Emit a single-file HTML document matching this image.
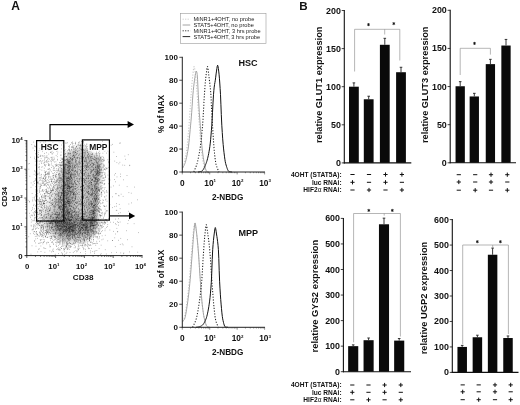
<!DOCTYPE html>
<html><head><meta charset="utf-8"><title>Figure</title>
<style>
html,body{margin:0;padding:0;background:#fff;}
body{width:520px;height:405px;overflow:hidden;font-family:"Liberation Sans", sans-serif;}
svg{display:block;font-family:"Liberation Sans", sans-serif;}
</style></head><body>
<svg width="520" height="405" viewBox="0 0 520 405">
<rect width="520" height="405" fill="#fff"/>
<g opacity=".999">
<text x="11.3" y="10.1" font-size="12" font-weight="bold" text-anchor="start" fill="#111" >A</text>
<text x="299.2" y="9.5" font-size="11.6" font-weight="bold" text-anchor="start" fill="#111" >B</text>
<defs><filter id="bl" x="-5%" y="-5%" width="110%" height="110%"><feGaussianBlur stdDeviation="1.1"/></filter><clipPath id="pc"><rect x="27.3" y="140.5" width="115.2" height="114.6"/></clipPath></defs>
<g clip-path="url(#pc)"><g filter="url(#bl)">
<path d="M77.8 143.5h4M75.8 145.5h2M71.8 147.5h2M85.8 147.5h2M69.8 149.5h2M87.8 149.5h2M67.8 151.5h2M91.8 151.5h2M65.8 153.5h2M93.8 153.5h4M63.8 157.5h2M61.8 161.5h2M101.8 163.5h2M59.8 165.5h2M101.8 165.5h2M101.8 167.5h2M57.8 169.5h2M101.8 169.5h2M57.8 171.5h2M55.8 175.5h2M55.8 177.5h2M53.8 179.5h2M53.8 181.5h2M53.8 183.5h2M51.8 185.5h4M99.8 185.5h2M51.8 187.5h2M99.8 187.5h2M49.8 189.5h4M99.8 189.5h2M47.8 191.5h6M45.8 193.5h6M43.8 195.5h8M43.8 197.5h6M41.8 199.5h8M41.8 201.5h6M39.8 203.5h6M39.8 205.5h6M97.8 205.5h2M39.8 207.5h4M97.8 207.5h2M37.8 209.5h4M97.8 209.5h2M37.8 211.5h4M97.8 211.5h2M37.8 213.5h2M97.8 213.5h2M37.8 215.5h2M37.8 217.5h2M37.8 219.5h2M99.8 219.5h2M37.8 221.5h2M99.8 221.5h2M37.8 223.5h4M99.8 223.5h2M37.8 225.5h4M39.8 227.5h2M39.8 229.5h4M97.8 229.5h2M41.8 231.5h4M43.8 233.5h4M95.8 233.5h2M47.8 235.5h4M93.8 235.5h2M51.8 237.5h2M53.8 239.5h4M89.8 239.5h2M57.8 241.5h4M85.8 241.5h4M61.8 243.5h4M71.8 243.5h12M65.8 245.5h4" stroke="#000" stroke-width="2.0" fill="none" opacity="0.042"/>
<path d="M81.8 143.5h2M77.8 145.5h2M73.8 147.5h2M83.8 147.5h2M89.8 151.5h2M65.8 155.5h2M97.8 155.5h2M99.8 157.5h2M59.8 167.5h2M57.8 173.5h2M55.8 179.5h2M55.8 181.5h2M99.8 181.5h2M99.8 183.5h2M53.8 187.5h2M53.8 189.5h2M51.8 193.5h2M51.8 195.5h2M49.8 197.5h2M49.8 199.5h2M47.8 201.5h2M97.8 201.5h2M45.8 203.5h4M97.8 203.5h2M45.8 205.5h4M43.8 207.5h4M41.8 209.5h4M41.8 211.5h2M39.8 213.5h2M39.8 215.5h2M97.8 215.5h2M39.8 217.5h2M39.8 219.5h2M39.8 221.5h2M41.8 223.5h2M41.8 225.5h2M97.8 225.5h2M41.8 227.5h4M97.8 227.5h2M43.8 229.5h2M45.8 231.5h2M95.8 231.5h2M47.8 233.5h2M51.8 235.5h2M53.8 237.5h2M91.8 237.5h2M57.8 239.5h2M87.8 239.5h2M77.8 241.5h8M65.8 243.5h6" stroke="#000" stroke-width="2.0" fill="none" opacity="0.083"/>
<path d="M79.8 145.5h2M75.8 147.5h4M71.8 149.5h2M85.8 149.5h2M69.8 151.5h2M67.8 153.5h2M91.8 153.5h2M95.8 155.5h2M63.8 159.5h2M61.8 163.5h2M59.8 169.5h2M57.8 175.5h2M99.8 179.5h2M55.8 183.5h2M55.8 185.5h2M55.8 187.5h2M53.8 191.5h2M53.8 193.5h2M51.8 197.5h2M51.8 199.5h2M97.8 199.5h2M49.8 201.5h2M49.8 203.5h2M49.8 205.5h2M47.8 207.5h2M45.8 209.5h4M43.8 211.5h4M41.8 213.5h4M41.8 215.5h2M41.8 217.5h2M97.8 217.5h2M41.8 219.5h2M97.8 219.5h2M41.8 221.5h2M97.8 223.5h2M43.8 225.5h2M45.8 229.5h2M47.8 231.5h2M49.8 233.5h2M55.8 237.5h2M85.8 239.5h2M61.8 241.5h2M71.8 241.5h6" stroke="#000" stroke-width="2.0" fill="none" opacity="0.125"/>
<path d="M81.8 145.5h2M79.8 147.5h2M73.8 149.5h6M83.8 149.5h2M77.8 151.5h2M87.8 151.5h2M89.8 153.5h2M93.8 155.5h2M99.8 159.5h2M61.8 165.5h2M59.8 171.5h2M99.8 175.5h2M57.8 177.5h2M99.8 177.5h2M57.8 179.5h2M57.8 181.5h2M55.8 189.5h2M55.8 191.5h2M53.8 195.5h2M97.8 195.5h2M53.8 197.5h2M97.8 197.5h2M51.8 201.5h2M51.8 203.5h2M51.8 205.5h2M49.8 207.5h2M49.8 209.5h2M47.8 211.5h2M45.8 213.5h2M43.8 215.5h2M43.8 217.5h2M43.8 219.5h2M43.8 221.5h2M97.8 221.5h2M43.8 223.5h2M45.8 225.5h2M45.8 227.5h2M47.8 229.5h2M95.8 229.5h2M49.8 231.5h2M51.8 233.5h2M93.8 233.5h2M53.8 235.5h2M91.8 235.5h2M89.8 237.5h2M59.8 239.5h2M75.8 239.5h10M63.8 241.5h2M69.8 241.5h2" stroke="#000" stroke-width="2.0" fill="none" opacity="0.167"/>
<path d="M81.8 147.5h2M79.8 149.5h4M71.8 151.5h6M79.8 151.5h8M69.8 153.5h20M67.8 155.5h2M73.8 155.5h10M89.8 155.5h4M65.8 157.5h2M75.8 157.5h8M91.8 157.5h8M75.8 159.5h8M63.8 161.5h2M75.8 161.5h8M99.8 161.5h2M75.8 163.5h8M99.8 163.5h2M75.8 165.5h8M99.8 165.5h2M61.8 167.5h2M75.8 167.5h8M99.8 167.5h2M75.8 169.5h8M99.8 169.5h2M75.8 171.5h8M99.8 171.5h2M59.8 173.5h2M75.8 173.5h8M99.8 173.5h2M59.8 175.5h2M75.8 175.5h8M59.8 177.5h2M75.8 177.5h8M75.8 179.5h8M75.8 181.5h8M57.8 183.5h2M75.8 183.5h8M57.8 185.5h2M75.8 185.5h8M57.8 187.5h2M75.8 187.5h8M57.8 189.5h2M75.8 189.5h8M57.8 191.5h2M75.8 191.5h8M97.8 191.5h2M55.8 193.5h2M75.8 193.5h8M97.8 193.5h2M55.8 195.5h2M75.8 195.5h8M55.8 197.5h2M75.8 197.5h8M53.8 199.5h4M75.8 199.5h8M53.8 201.5h2M75.8 201.5h8M53.8 203.5h2M75.8 203.5h8M53.8 205.5h2M75.8 205.5h8M51.8 207.5h4M75.8 207.5h6M51.8 209.5h2M75.8 209.5h6M49.8 211.5h4M77.8 211.5h4M47.8 213.5h4M45.8 215.5h4M45.8 217.5h2M45.8 219.5h2M45.8 221.5h2M45.8 223.5h2M47.8 225.5h2M47.8 227.5h2M95.8 227.5h2M49.8 229.5h2M51.8 231.5h2M93.8 231.5h2M53.8 233.5h2M55.8 235.5h2M57.8 237.5h4M81.8 237.5h8M61.8 239.5h2M71.8 239.5h4M65.8 241.5h4" stroke="#000" stroke-width="2.0" fill="none" opacity="0.208"/>
<path d="M69.8 155.5h4M83.8 155.5h6M67.8 157.5h8M83.8 157.5h8M65.8 159.5h2M71.8 159.5h4M83.8 159.5h16M71.8 161.5h4M83.8 161.5h12M63.8 163.5h2M71.8 163.5h4M83.8 163.5h12M63.8 165.5h2M71.8 165.5h4M83.8 165.5h12M71.8 167.5h4M83.8 167.5h10M61.8 169.5h2M71.8 169.5h4M83.8 169.5h10M61.8 171.5h2M71.8 171.5h4M83.8 171.5h10M61.8 173.5h2M73.8 173.5h2M83.8 173.5h10M73.8 175.5h2M83.8 175.5h10M73.8 177.5h2M83.8 177.5h10M59.8 179.5h2M73.8 179.5h2M83.8 179.5h10M59.8 181.5h2M73.8 181.5h2M83.8 181.5h10M59.8 183.5h2M73.8 183.5h2M83.8 183.5h8M97.8 183.5h2M59.8 185.5h2M73.8 185.5h2M83.8 185.5h8M97.8 185.5h2M59.8 187.5h2M73.8 187.5h2M83.8 187.5h8M97.8 187.5h2M59.8 189.5h2M73.8 189.5h2M83.8 189.5h8M97.8 189.5h2M73.8 191.5h2M83.8 191.5h8M57.8 193.5h2M73.8 193.5h2M83.8 193.5h8M57.8 195.5h2M73.8 195.5h2M83.8 195.5h8M57.8 197.5h2M73.8 197.5h2M83.8 197.5h8M57.8 199.5h2M73.8 199.5h2M83.8 199.5h8M55.8 201.5h4M73.8 201.5h2M83.8 201.5h8M55.8 203.5h2M73.8 203.5h2M83.8 203.5h6M55.8 205.5h2M73.8 205.5h2M83.8 205.5h6M95.8 205.5h2M55.8 207.5h2M73.8 207.5h2M81.8 207.5h8M95.8 207.5h2M53.8 209.5h4M73.8 209.5h2M81.8 209.5h8M95.8 209.5h2M53.8 211.5h2M73.8 211.5h4M81.8 211.5h6M95.8 211.5h2M51.8 213.5h4M75.8 213.5h8M95.8 213.5h2M49.8 215.5h4M77.8 215.5h4M95.8 215.5h2M47.8 217.5h2M95.8 217.5h2M47.8 219.5h2M95.8 219.5h2M47.8 221.5h2M95.8 221.5h2M47.8 223.5h2M95.8 223.5h2M49.8 225.5h2M95.8 225.5h2M49.8 227.5h2M51.8 229.5h2M53.8 231.5h2M55.8 233.5h2M91.8 233.5h2M57.8 235.5h2M85.8 235.5h6M61.8 237.5h2M71.8 237.5h10M63.8 239.5h8" stroke="#000" stroke-width="2.0" fill="none" opacity="0.250"/>
<path d="M67.8 159.5h4M65.8 161.5h6M95.8 161.5h4M65.8 163.5h2M69.8 163.5h2M95.8 163.5h4M69.8 165.5h2M63.8 167.5h2M69.8 167.5h2M93.8 167.5h2M63.8 169.5h2M69.8 169.5h2M93.8 169.5h2M63.8 171.5h2M69.8 171.5h2M93.8 171.5h2M71.8 173.5h2M93.8 173.5h2M61.8 175.5h2M71.8 175.5h2M93.8 175.5h2M61.8 177.5h2M71.8 177.5h2M93.8 177.5h2M97.8 177.5h2M61.8 179.5h2M71.8 179.5h2M93.8 179.5h2M97.8 179.5h2M61.8 181.5h2M71.8 181.5h2M97.8 181.5h2M61.8 183.5h2M71.8 183.5h2M91.8 183.5h2M61.8 185.5h2M71.8 185.5h2M91.8 185.5h2M61.8 187.5h2M71.8 187.5h2M91.8 187.5h2M61.8 189.5h2M71.8 189.5h2M91.8 189.5h2M59.8 191.5h2M71.8 191.5h2M91.8 191.5h2M59.8 193.5h2M71.8 193.5h2M91.8 193.5h2M59.8 195.5h2M71.8 195.5h2M91.8 195.5h2M59.8 197.5h2M71.8 197.5h2M91.8 197.5h2M95.8 197.5h2M59.8 199.5h2M71.8 199.5h2M91.8 199.5h2M95.8 199.5h2M59.8 201.5h2M71.8 201.5h2M95.8 201.5h2M57.8 203.5h4M71.8 203.5h2M89.8 203.5h2M95.8 203.5h2M57.8 205.5h2M71.8 205.5h2M89.8 205.5h2M57.8 207.5h2M71.8 207.5h2M89.8 207.5h2M57.8 209.5h2M71.8 209.5h2M89.8 209.5h2M55.8 211.5h4M71.8 211.5h2M87.8 211.5h4M55.8 213.5h2M73.8 213.5h2M83.8 213.5h6M53.8 215.5h2M73.8 215.5h4M81.8 215.5h8M49.8 217.5h4M75.8 217.5h6M49.8 219.5h2M49.8 221.5h2M49.8 223.5h2M51.8 227.5h2M93.8 227.5h2M53.8 229.5h2M93.8 229.5h2M55.8 231.5h2M91.8 231.5h2M57.8 233.5h2M87.8 233.5h4M59.8 235.5h2M71.8 235.5h14M63.8 237.5h8" stroke="#000" stroke-width="2.0" fill="none" opacity="0.292"/>
<path d="M67.8 163.5h2M65.8 165.5h4M95.8 165.5h4M65.8 167.5h4M95.8 167.5h4M65.8 169.5h4M95.8 169.5h4M65.8 171.5h4M95.8 171.5h4M63.8 173.5h8M95.8 173.5h4M63.8 175.5h2M69.8 175.5h2M95.8 175.5h4M63.8 177.5h2M69.8 177.5h2M95.8 177.5h2M63.8 179.5h2M69.8 179.5h2M95.8 179.5h2M63.8 181.5h2M69.8 181.5h2M93.8 181.5h4M63.8 183.5h2M69.8 183.5h2M93.8 183.5h4M63.8 185.5h2M69.8 185.5h2M93.8 185.5h4M63.8 187.5h2M69.8 187.5h2M93.8 187.5h4M63.8 189.5h2M69.8 189.5h2M93.8 189.5h4M61.8 191.5h4M69.8 191.5h2M93.8 191.5h4M61.8 193.5h2M69.8 193.5h2M93.8 193.5h4M61.8 195.5h2M69.8 195.5h2M93.8 195.5h4M61.8 197.5h2M69.8 197.5h2M93.8 197.5h2M61.8 199.5h2M69.8 199.5h2M61.8 201.5h2M69.8 201.5h2M91.8 201.5h2M61.8 203.5h2M69.8 203.5h2M91.8 203.5h4M59.8 205.5h4M69.8 205.5h2M91.8 205.5h4M59.8 207.5h4M69.8 207.5h2M91.8 207.5h4M59.8 209.5h2M69.8 209.5h2M91.8 209.5h4M59.8 211.5h2M69.8 211.5h2M93.8 211.5h2M57.8 213.5h4M71.8 213.5h2M89.8 213.5h2M93.8 213.5h2M55.8 215.5h4M71.8 215.5h2M89.8 215.5h2M93.8 215.5h2M53.8 217.5h4M73.8 217.5h2M81.8 217.5h8M51.8 219.5h4M75.8 219.5h8M51.8 221.5h2M51.8 223.5h2M51.8 225.5h2M93.8 225.5h2M53.8 227.5h2M55.8 229.5h2M91.8 229.5h2M57.8 231.5h2M89.8 231.5h2M59.8 233.5h2M73.8 233.5h14M61.8 235.5h4M69.8 235.5h2" stroke="#000" stroke-width="2.0" fill="none" opacity="0.333"/>
<path d="M65.8 175.5h4M65.8 177.5h4M65.8 179.5h4M65.8 181.5h4M65.8 183.5h4M65.8 185.5h4M65.8 187.5h4M65.8 189.5h4M65.8 191.5h4M63.8 193.5h6M63.8 195.5h6M63.8 197.5h6M63.8 199.5h6M93.8 199.5h2M63.8 201.5h6M93.8 201.5h2M63.8 203.5h6M63.8 205.5h6M63.8 207.5h6M61.8 209.5h4M67.8 209.5h2M61.8 211.5h4M67.8 211.5h2M91.8 211.5h2M61.8 213.5h2M69.8 213.5h2M91.8 213.5h2M59.8 215.5h4M69.8 215.5h2M91.8 215.5h2M57.8 217.5h4M71.8 217.5h2M89.8 217.5h2M93.8 217.5h2M55.8 219.5h4M71.8 219.5h4M83.8 219.5h6M93.8 219.5h2M53.8 221.5h4M73.8 221.5h16M93.8 221.5h2M53.8 223.5h4M75.8 223.5h8M93.8 223.5h2M53.8 225.5h4M77.8 225.5h4M55.8 227.5h2M77.8 227.5h2M91.8 227.5h2M57.8 229.5h2M75.8 229.5h16M59.8 231.5h2M73.8 231.5h16M61.8 233.5h4M69.8 233.5h4M65.8 235.5h4" stroke="#000" stroke-width="2.0" fill="none" opacity="0.375"/>
<path d="M65.8 209.5h2M65.8 211.5h2M63.8 213.5h6M63.8 215.5h6M61.8 217.5h4M67.8 217.5h4M91.8 217.5h2M59.8 219.5h4M69.8 219.5h2M89.8 219.5h4M57.8 221.5h4M71.8 221.5h2M89.8 221.5h4M57.8 223.5h2M71.8 223.5h4M83.8 223.5h10M57.8 225.5h2M71.8 225.5h6M81.8 225.5h12M57.8 227.5h4M73.8 227.5h4M79.8 227.5h12M59.8 229.5h2M71.8 229.5h4M61.8 231.5h4M69.8 231.5h4M65.8 233.5h4" stroke="#000" stroke-width="2.0" fill="none" opacity="0.417"/>
<path d="M65.8 217.5h2M63.8 219.5h6M61.8 221.5h10M59.8 223.5h6M67.8 223.5h4M59.8 225.5h6M69.8 225.5h2M61.8 227.5h4M69.8 227.5h4M61.8 229.5h10M65.8 231.5h4" stroke="#000" stroke-width="2.0" fill="none" opacity="0.458"/>
<path d="M65.8 223.5h2M65.8 225.5h4M65.8 227.5h4" stroke="#000" stroke-width="2.0" fill="none" opacity="0.500"/>
</g></g>
<path d="M82.5 141.1h.6M102.0 141.2h.6M81.4 141.5h.6M82.8 141.5h.6M82.5 141.6h.6M83.2 141.7h.6M79.4 141.9h.6M45.2 142.0h.6M72.1 142.0h.6M33.3 142.1h.6M63.0 142.2h.6M75.5 142.2h.6M43.5 142.3h.6M78.5 142.4h.6M82.7 142.4h.6M39.9 142.5h.6M71.6 142.5h.6M67.3 142.7h.6M52.6 142.8h.6M82.7 142.8h.6M75.2 142.9h.6M62.7 143.0h.6M78.6 143.0h.6M120.2 143.0h.6M58.8 143.1h.6M65.1 143.1h.6M66.5 143.1h.6M71.6 143.1h.6M83.3 143.2h.6M119.3 143.2h.6M44.0 143.4h.6M92.6 143.4h.6M72.7 143.5h.6M74.9 143.5h.6M98.6 143.7h.6M41.0 144.0h.6M75.4 144.0h.6M72.4 144.1h.6M45.5 144.2h.6M86.1 144.2h.6M86.7 144.2h.6M78.5 144.3h.6M112.2 144.4h.6M70.2 144.5h.6M90.6 144.5h.6M31.5 144.6h.6M83.8 144.9h.6M91.0 144.9h.6M58.7 145.0h.6M61.4 145.0h.6M80.1 145.0h.6M101.5 145.0h.6M76.9 145.1h.6M95.9 145.1h.6M40.9 145.2h.6M55.1 145.2h.6M78.2 145.2h.6M80.0 145.2h.6M88.6 145.2h.6M92.0 145.2h.6M95.2 145.2h.6M110.8 145.2h.6M34.5 145.3h.6M82.8 145.3h.6M48.2 145.4h.6M79.1 145.5h.6M54.3 145.6h.6M73.7 145.6h.6M80.8 145.7h.6M82.1 145.7h.6M85.6 145.7h.6M69.4 145.8h.6M40.0 145.9h.6M101.0 145.9h.6M63.7 146.0h.6M80.0 146.0h.6M89.0 146.0h.6M91.0 146.0h.6M53.9 146.1h.6M72.1 146.1h.6M82.9 146.1h.6M54.2 146.2h.6M82.1 146.2h.6M84.9 146.2h.6M86.1 146.3h.6M35.1 146.4h.6M68.1 146.4h.6M76.0 146.4h.6M87.4 146.4h.6M90.6 146.4h.6M94.4 146.4h.6M34.0 146.5h.6M76.4 146.6h.6M54.3 146.7h.6M89.0 146.7h.6M58.9 146.8h.6M69.0 146.8h.6M71.3 146.8h.6M99.3 146.8h.6M35.3 146.9h.6M73.2 146.9h.6M99.9 146.9h.6M100.9 146.9h.6M72.0 147.0h.6M76.1 147.0h.6M56.6 147.1h.6M88.9 147.1h.6M63.7 147.2h.6M71.6 147.3h.6M91.2 147.3h.6M52.9 147.4h.6M81.8 147.4h.6M52.8 147.5h.6M58.1 147.5h.6M71.8 147.6h.6M86.0 147.6h.6M73.0 147.7h.6M53.6 147.9h.6M69.4 147.9h.6M79.3 147.9h.6M98.0 147.9h.6M32.7 148.0h.6M46.9 148.0h.6M50.7 148.0h.6M75.4 148.0h.6M93.7 148.0h.6M45.8 148.1h.6M56.7 148.1h.6M57.7 148.1h.6M79.6 148.2h.6M82.6 148.2h.6M85.7 148.3h.6M74.8 148.4h.6M77.5 148.5h.6M82.3 148.5h.6M41.5 148.6h.6M86.9 148.6h.6M89.6 148.6h.6M39.5 148.7h.6M40.6 148.7h.6M61.4 148.8h.6M36.1 148.9h.6M96.2 148.9h.6M73.1 149.0h.6M103.1 149.1h.6M68.3 149.2h.6M80.1 149.2h.6M81.2 149.2h.6M88.2 149.3h.6M92.0 149.3h.6M73.8 149.4h.6M87.6 149.4h.6M85.6 149.5h.6M68.9 149.6h.6M83.3 149.6h.6M44.4 149.7h.6M69.3 149.7h.6M71.0 149.7h.6M65.5 149.8h.6M81.0 149.8h.6M97.9 149.8h.6M98.9 149.8h.6M48.5 149.9h.6M71.2 149.9h.6M68.0 150.0h.6M75.4 150.0h.6M76.2 150.0h.6M81.0 150.0h.6M83.0 150.0h.6M83.8 150.1h.6M52.6 150.3h.6M90.9 150.3h.6M103.4 150.3h.6M105.6 150.3h.6M107.4 150.3h.6M48.6 150.4h.6M38.8 150.5h.6M42.3 150.5h.6M67.5 150.5h.6M78.8 150.5h.6M87.5 150.5h.6M92.7 150.5h.6M34.4 150.6h.6M40.5 150.6h.6M64.4 150.6h.6M69.6 150.6h.6M86.9 150.6h.6M99.4 150.6h.6M83.8 150.7h.6M88.8 150.7h.6M63.5 150.8h.6M69.2 150.8h.6M74.9 150.8h.6M85.9 150.8h.6M57.5 150.9h.6M77.6 151.1h.6M88.2 151.1h.6M90.0 151.1h.6M98.8 151.1h.6M104.7 151.1h.6M42.0 151.2h.6M85.5 151.2h.6M52.4 151.3h.6M56.4 151.3h.6M72.8 151.3h.6M89.3 151.3h.6M103.9 151.3h.6M107.6 151.3h.6M56.6 151.4h.6M89.6 151.5h.6M96.0 151.5h.6M99.0 151.5h.6M42.3 151.6h.6M50.9 151.6h.6M77.1 151.6h.6M69.8 151.7h.6M74.6 151.7h.6M65.7 151.9h.6M73.2 151.9h.6M87.7 151.9h.6M90.9 151.9h.6M50.3 152.0h.6M57.6 152.0h.6M66.9 152.0h.6M74.4 152.0h.6M82.7 152.0h.6M51.0 152.1h.6M60.8 152.1h.6M87.3 152.1h.6M113.6 152.2h.6M73.0 152.3h.6M82.4 152.3h.6M38.0 152.4h.6M75.0 152.4h.6M75.4 152.4h.6M84.3 152.4h.6M50.3 152.5h.6M74.9 152.5h.6M87.1 152.5h.6M67.9 152.6h.6M85.1 152.6h.6M98.3 152.6h.6M46.1 152.7h.6M52.9 152.7h.6M96.4 152.7h.6M69.6 152.9h.6M72.2 152.9h.6M75.8 152.9h.6M82.6 152.9h.6M83.3 152.9h.6M106.4 153.1h.6M83.9 153.2h.6M99.7 153.2h.6M102.6 153.2h.6M68.0 153.3h.6M70.0 153.3h.6M44.3 153.4h.6M64.9 153.4h.6M88.5 153.4h.6M92.1 153.4h.6M95.8 153.4h.6M36.2 153.5h.6M66.8 153.5h.6M70.3 153.5h.6M77.0 153.5h.6M65.2 153.6h.6M80.8 153.6h.6M99.2 153.7h.6M35.2 153.8h.6M51.6 153.8h.6M68.3 153.8h.6M69.5 153.8h.6M74.2 153.8h.6M76.1 153.8h.6M85.4 153.8h.6M97.7 153.8h.6M52.2 153.9h.6M68.9 153.9h.6M95.8 153.9h.6M57.3 154.0h.6M67.8 154.0h.6M73.2 154.0h.6M79.4 154.0h.6M90.6 154.0h.6M48.5 154.1h.6M88.3 154.1h.6M92.0 154.1h.6M96.0 154.2h.6M64.2 154.4h.6M88.5 154.4h.6M92.2 154.4h.6M38.3 154.5h.6M91.1 154.5h.6M75.6 154.6h.6M76.2 154.7h.6M82.7 154.7h.6M87.7 154.7h.6M127.9 154.7h.6M65.0 154.8h.6M84.5 154.8h.6M60.7 154.9h.6M66.9 154.9h.6M78.8 154.9h.6M99.1 154.9h.6M70.0 155.1h.6M73.6 155.1h.6M67.7 155.2h.6M40.5 155.3h.6M73.4 155.3h.6M55.8 155.4h.6M60.6 155.4h.6M78.4 155.4h.6M96.6 155.4h.6M73.8 155.5h.6M42.2 155.6h.6M43.8 155.6h.6M73.1 155.6h.6M73.5 155.6h.6M87.3 155.6h.6M89.3 155.6h.6M75.0 155.7h.6M40.6 155.8h.6M94.5 155.8h.6M96.9 155.8h.6M46.7 155.9h.6M83.9 155.9h.6M84.1 156.0h.6M96.0 156.0h.6M72.1 156.1h.6M82.7 156.1h.6M98.8 156.1h.6M99.1 156.1h.6M124.6 156.1h.6M37.1 156.2h.6M38.8 156.2h.6M45.8 156.2h.6M72.0 156.2h.6M80.9 156.2h.6M87.2 156.2h.6M89.9 156.2h.6M65.2 156.3h.6M80.7 156.3h.6M66.4 156.4h.6M82.6 156.4h.6M91.4 156.4h.6M91.9 156.4h.6M102.6 156.4h.6M40.2 156.5h.6M66.5 156.5h.6M116.1 156.5h.6M42.7 156.6h.6M74.2 156.6h.6M88.8 156.6h.6M94.3 156.6h.6M56.9 156.7h.6M88.0 156.7h.6M91.1 156.7h.6M36.5 156.8h.6M64.4 156.8h.6M64.7 156.8h.6M66.1 156.8h.6M90.3 156.9h.6M73.9 157.0h.6M34.5 157.1h.6M51.8 157.1h.6M68.7 157.1h.6M101.3 157.1h.6M44.4 157.2h.6M53.7 157.2h.6M69.2 157.2h.6M73.1 157.2h.6M81.0 157.2h.6M30.4 157.3h.6M38.0 157.3h.6M74.0 157.3h.6M83.5 157.3h.6M87.5 157.3h.6M100.0 157.3h.6M37.4 157.4h.6M38.1 157.4h.6M50.7 157.4h.6M74.3 157.4h.6M77.1 157.4h.6M77.2 157.4h.6M77.8 157.4h.6M86.5 157.4h.6M99.9 157.4h.6M46.1 157.5h.6M62.8 157.5h.6M70.5 157.5h.6M83.4 157.5h.6M90.5 157.5h.6M94.3 157.5h.6M103.2 157.5h.6M47.5 157.6h.6M85.0 157.6h.6M88.0 157.6h.6M74.8 157.7h.6M76.3 157.7h.6M45.1 157.8h.6M95.0 157.8h.6M51.0 157.9h.6M79.4 157.9h.6M97.7 157.9h.6M60.7 158.0h.6M83.1 158.0h.6M85.4 158.0h.6M99.7 158.0h.6M70.0 158.1h.6M95.6 158.1h.6M96.7 158.1h.6M97.9 158.1h.6M51.9 158.2h.6M71.6 158.2h.6M79.4 158.2h.6M81.1 158.2h.6M82.7 158.2h.6M90.4 158.2h.6M91.6 158.2h.6M92.4 158.2h.6M85.5 158.3h.6M88.6 158.3h.6M96.1 158.3h.6M99.9 158.3h.6M103.6 158.3h.6M48.5 158.4h.6M67.3 158.4h.6M70.3 158.4h.6M76.7 158.4h.6M91.8 158.4h.6M62.1 158.5h.6M70.3 158.5h.6M72.1 158.5h.6M80.6 158.5h.6M96.6 158.5h.6M40.8 158.6h.6M72.2 158.6h.6M77.2 158.6h.6M34.2 158.7h.6M85.7 158.7h.6M93.3 158.7h.6M100.7 158.7h.6M53.9 158.8h.6M75.5 158.8h.6M44.3 158.9h.6M98.1 158.9h.6M61.4 159.0h.6M61.8 159.0h.6M73.3 159.0h.6M88.3 159.0h.6M63.6 159.1h.6M79.1 159.1h.6M47.4 159.2h.6M48.9 159.2h.6M62.4 159.2h.6M83.6 159.2h.6M57.0 159.3h.6M66.7 159.3h.6M72.6 159.3h.6M90.6 159.3h.6M99.8 159.3h.6M109.5 159.3h.6M125.0 159.3h.6M53.7 159.4h.6M66.4 159.4h.6M71.5 159.4h.6M93.3 159.4h.6M94.4 159.4h.6M94.8 159.4h.6M101.8 159.4h.6M35.7 159.5h.6M52.6 159.5h.6M66.8 159.5h.6M69.0 159.5h.6M75.4 159.5h.6M96.7 159.5h.6M94.5 159.6h.6M102.4 159.6h.6M51.4 159.7h.6M71.9 159.7h.6M98.6 159.7h.6M107.6 159.7h.6M62.3 159.8h.6M62.7 159.8h.6M64.9 159.8h.6M66.6 159.8h.6M67.8 159.8h.6M71.6 159.8h.6M72.4 159.8h.6M81.5 159.8h.6M103.1 159.8h.6M85.0 159.9h.6M99.6 159.9h.6M64.0 160.0h.6M71.6 160.0h.6M86.3 160.0h.6M86.3 160.0h.6M103.9 160.0h.6M44.0 160.1h.6M57.1 160.1h.6M64.7 160.1h.6M68.5 160.1h.6M70.1 160.1h.6M82.3 160.1h.6M82.8 160.1h.6M95.9 160.1h.6M99.6 160.1h.6M67.0 160.2h.6M75.6 160.2h.6M89.2 160.2h.6M90.9 160.2h.6M94.8 160.2h.6M65.4 160.3h.6M68.6 160.3h.6M84.3 160.3h.6M101.0 160.3h.6M52.1 160.4h.6M60.4 160.4h.6M79.4 160.4h.6M103.5 160.4h.6M103.8 160.4h.6M75.8 160.5h.6M40.1 160.6h.6M42.6 160.6h.6M72.0 160.6h.6M90.1 160.6h.6M91.5 160.6h.6M63.7 160.7h.6M66.9 160.7h.6M91.5 160.7h.6M46.2 160.8h.6M50.5 160.8h.6M63.5 160.8h.6M75.8 160.8h.6M53.0 160.9h.6M63.3 160.9h.6M90.8 160.9h.6M95.2 160.9h.6M98.8 160.9h.6M37.5 161.0h.6M47.7 161.0h.6M81.7 161.0h.6M84.7 161.0h.6M100.6 161.0h.6M46.3 161.1h.6M66.9 161.1h.6M96.0 161.1h.6M114.5 161.1h.6M34.9 161.2h.6M38.8 161.2h.6M39.7 161.2h.6M69.7 161.2h.6M101.8 161.2h.6M41.7 161.3h.6M69.5 161.3h.6M75.6 161.3h.6M84.0 161.3h.6M86.0 161.3h.6M89.5 161.3h.6M68.3 161.4h.6M69.6 161.4h.6M69.7 161.4h.6M75.0 161.4h.6M81.4 161.4h.6M83.7 161.4h.6M48.6 161.5h.6M50.9 161.5h.6M82.0 161.5h.6M68.4 161.6h.6M89.5 161.6h.6M103.5 161.6h.6M108.5 161.6h.6M44.8 161.7h.6M61.9 161.7h.6M68.8 161.7h.6M84.1 161.7h.6M85.2 161.7h.6M85.8 161.7h.6M98.2 161.7h.6M36.2 161.8h.6M55.6 161.8h.6M62.6 161.8h.6M78.6 161.8h.6M78.7 161.8h.6M96.1 161.8h.6M101.7 161.8h.6M54.0 162.0h.6M66.4 162.0h.6M67.5 162.0h.6M75.6 162.0h.6M47.5 162.1h.6M61.7 162.1h.6M72.5 162.1h.6M79.2 162.1h.6M40.9 162.2h.6M44.3 162.2h.6M61.7 162.2h.6M67.7 162.2h.6M68.3 162.2h.6M70.2 162.2h.6M75.9 162.2h.6M45.9 162.3h.6M69.2 162.3h.6M71.4 162.3h.6M79.8 162.3h.6M88.5 162.3h.6M119.6 162.3h.6M96.0 162.4h.6M97.5 162.4h.6M59.0 162.5h.6M67.3 162.5h.6M74.9 162.5h.6M61.0 162.6h.6M94.5 162.6h.6M116.6 162.6h.6M82.6 162.7h.6M90.9 162.7h.6M108.2 162.7h.6M59.9 162.8h.6M68.0 162.8h.6M82.3 162.8h.6M92.5 162.8h.6M97.5 162.8h.6M43.9 162.9h.6M78.2 162.9h.6M79.1 162.9h.6M86.6 162.9h.6M86.9 162.9h.6M68.0 163.0h.6M68.9 163.0h.6M96.2 163.0h.6M51.0 163.1h.6M85.9 163.1h.6M89.1 163.1h.6M42.9 163.2h.6M68.0 163.2h.6M69.3 163.2h.6M73.5 163.2h.6M88.0 163.2h.6M97.7 163.3h.6M71.9 163.4h.6M82.9 163.4h.6M29.1 163.5h.6M41.1 163.5h.6M69.9 163.5h.6M71.5 163.5h.6M92.1 163.5h.6M47.9 163.6h.6M68.9 163.6h.6M76.7 163.6h.6M80.3 163.6h.6M92.8 163.6h.6M61.8 163.7h.6M69.1 163.7h.6M91.1 163.7h.6M97.0 163.7h.6M92.9 163.8h.6M100.8 163.8h.6M102.6 163.8h.6M118.6 163.8h.6M27.9 163.9h.6M65.4 163.9h.6M69.7 163.9h.6M76.2 163.9h.6M101.4 163.9h.6M66.9 164.0h.6M78.8 164.0h.6M82.9 164.0h.6M93.0 164.0h.6M38.9 164.1h.6M74.9 164.1h.6M87.4 164.1h.6M56.2 164.2h.6M64.7 164.2h.6M68.5 164.2h.6M77.0 164.2h.6M77.6 164.2h.6M79.0 164.2h.6M87.3 164.2h.6M59.1 164.3h.6M94.2 164.3h.6M48.3 164.4h.6M49.0 164.4h.6M65.6 164.4h.6M66.1 164.4h.6M90.2 164.4h.6M54.9 164.5h.6M60.3 164.5h.6M63.8 164.5h.6M75.9 164.5h.6M98.7 164.5h.6M100.1 164.5h.6M45.7 164.6h.6M64.9 164.6h.6M65.7 164.6h.6M93.2 164.6h.6M97.6 164.6h.6M58.2 164.7h.6M72.5 164.7h.6M90.2 164.7h.6M93.6 164.7h.6M44.3 164.9h.6M44.4 164.9h.6M50.9 164.9h.6M57.0 164.9h.6M62.0 164.9h.6M70.4 164.9h.6M73.6 164.9h.6M95.5 164.9h.6M98.9 164.9h.6M103.3 164.9h.6M61.8 165.0h.6M103.8 165.0h.6M34.9 165.1h.6M65.7 165.1h.6M66.1 165.1h.6M67.4 165.1h.6M70.5 165.1h.6M74.3 165.1h.6M85.2 165.1h.6M122.5 165.1h.6M48.0 165.2h.6M55.9 165.2h.6M61.4 165.2h.6M86.7 165.2h.6M87.2 165.2h.6M90.4 165.2h.6M92.8 165.2h.6M98.8 165.2h.6M129.5 165.2h.6M61.6 165.3h.6M68.5 165.3h.6M83.6 165.3h.6M93.3 165.3h.6M124.5 165.3h.6M44.8 165.4h.6M48.0 165.4h.6M59.5 165.4h.6M60.1 165.4h.6M65.4 165.4h.6M72.4 165.4h.6M89.1 165.4h.6M97.5 165.4h.6M61.7 165.5h.6M71.8 165.5h.6M75.3 165.5h.6M86.0 165.5h.6M84.7 165.6h.6M98.8 165.6h.6M129.5 165.6h.6M49.3 165.7h.6M56.2 165.7h.6M67.1 165.7h.6M75.5 165.7h.6M96.7 165.7h.6M55.8 165.8h.6M56.8 165.8h.6M60.6 165.8h.6M63.7 165.8h.6M69.6 165.8h.6M76.9 165.8h.6M52.3 165.9h.6M60.1 165.9h.6M68.2 165.9h.6M69.3 165.9h.6M85.3 165.9h.6M97.3 165.9h.6M103.5 165.9h.6M69.2 166.0h.6M73.8 166.0h.6M86.6 166.0h.6M91.8 166.0h.6M104.2 166.0h.6M45.0 166.1h.6M64.5 166.1h.6M69.0 166.1h.6M74.1 166.1h.6M76.8 166.1h.6M78.5 166.1h.6M92.1 166.1h.6M55.2 166.2h.6M63.3 166.2h.6M84.5 166.2h.6M88.5 166.2h.6M98.8 166.2h.6M99.2 166.2h.6M53.0 166.3h.6M76.5 166.3h.6M82.3 166.3h.6M95.0 166.3h.6M97.2 166.3h.6M98.0 166.3h.6M98.2 166.3h.6M65.0 166.4h.6M68.0 166.4h.6M79.8 166.4h.6M87.1 166.4h.6M88.3 166.4h.6M102.8 166.4h.6M38.9 166.5h.6M70.3 166.5h.6M71.9 166.5h.6M82.0 166.5h.6M82.2 166.5h.6M83.1 166.5h.6M58.0 166.6h.6M81.7 166.6h.6M68.1 166.7h.6M70.0 166.7h.6M71.9 166.7h.6M74.4 166.7h.6M85.6 166.7h.6M91.5 166.7h.6M97.3 166.7h.6M42.5 166.8h.6M70.3 166.8h.6M81.7 166.8h.6M91.0 166.8h.6M95.8 166.8h.6M78.0 166.9h.6M86.0 166.9h.6M99.7 166.9h.6M99.9 166.9h.6M65.5 167.0h.6M74.4 167.0h.6M69.4 167.1h.6M87.7 167.1h.6M36.2 167.2h.6M41.3 167.2h.6M63.2 167.2h.6M64.2 167.2h.6M67.3 167.2h.6M68.4 167.2h.6M86.5 167.2h.6M92.0 167.2h.6M97.6 167.2h.6M99.4 167.2h.6M67.5 167.3h.6M69.9 167.3h.6M74.5 167.3h.6M79.7 167.3h.6M84.0 167.3h.6M86.6 167.3h.6M95.0 167.3h.6M38.3 167.4h.6M53.7 167.4h.6M73.2 167.4h.6M97.5 167.4h.6M107.9 167.4h.6M51.3 167.5h.6M64.6 167.5h.6M75.6 167.5h.6M88.6 167.5h.6M93.3 167.5h.6M95.2 167.5h.6M67.0 167.6h.6M98.1 167.6h.6M102.6 167.6h.6M58.9 167.7h.6M77.6 167.7h.6M95.5 167.7h.6M39.1 167.8h.6M60.1 167.8h.6M71.4 167.8h.6M72.2 167.8h.6M86.7 167.8h.6M90.5 167.8h.6M102.9 167.8h.6M105.5 167.8h.6M85.9 167.9h.6M64.5 168.0h.6M68.7 168.0h.6M74.7 168.0h.6M74.9 168.0h.6M36.0 168.1h.6M68.5 168.1h.6M96.5 168.1h.6M97.7 168.1h.6M101.0 168.1h.6M43.9 168.2h.6M54.3 168.2h.6M72.2 168.2h.6M89.0 168.2h.6M98.3 168.2h.6M106.4 168.2h.6M65.4 168.3h.6M67.6 168.3h.6M98.2 168.3h.6M53.2 168.4h.6M69.0 168.4h.6M81.8 168.4h.6M82.4 168.4h.6M93.6 168.4h.6M61.6 168.5h.6M69.9 168.5h.6M56.5 168.6h.6M61.4 168.6h.6M99.1 168.6h.6M106.8 168.6h.6M64.4 168.7h.6M83.4 168.7h.6M85.1 168.7h.6M96.9 168.7h.6M48.8 168.8h.6M73.4 168.8h.6M77.2 168.8h.6M106.1 168.8h.6M49.2 168.9h.6M58.4 168.9h.6M104.2 168.9h.6M82.1 169.0h.6M94.8 169.0h.6M69.1 169.1h.6M28.6 169.2h.6M58.3 169.2h.6M63.6 169.2h.6M64.2 169.2h.6M72.4 169.2h.6M72.8 169.2h.6M99.2 169.2h.6M104.7 169.2h.6M47.6 169.3h.6M93.4 169.3h.6M48.1 169.4h.6M66.7 169.4h.6M85.8 169.4h.6M88.3 169.4h.6M93.4 169.4h.6M101.3 169.4h.6M70.9 169.5h.6M79.1 169.5h.6M96.4 169.5h.6M99.5 169.5h.6M104.1 169.5h.6M65.4 169.6h.6M68.7 169.6h.6M81.1 169.6h.6M86.1 169.6h.6M86.4 169.6h.6M89.9 169.6h.6M94.7 169.6h.6M39.6 169.7h.6M91.7 169.7h.6M62.5 169.8h.6M65.7 169.8h.6M69.3 169.8h.6M69.4 169.8h.6M78.6 169.8h.6M93.1 169.8h.6M96.9 169.8h.6M101.1 169.8h.6M60.8 169.9h.6M71.1 169.9h.6M97.1 169.9h.6M105.3 169.9h.6M50.2 170.0h.6M52.8 170.0h.6M67.8 170.0h.6M90.7 170.0h.6M95.5 170.0h.6M99.7 170.0h.6M100.4 170.0h.6M103.3 170.0h.6M72.2 170.1h.6M77.0 170.1h.6M93.4 170.1h.6M41.6 170.2h.6M68.6 170.2h.6M54.2 170.3h.6M56.1 170.3h.6M58.1 170.3h.6M65.3 170.3h.6M75.2 170.3h.6M91.5 170.3h.6M99.6 170.3h.6M57.3 170.4h.6M67.7 170.4h.6M71.2 170.4h.6M72.4 170.4h.6M73.2 170.4h.6M80.6 170.4h.6M87.1 170.4h.6M99.3 170.4h.6M53.6 170.5h.6M68.6 170.5h.6M71.9 170.5h.6M75.1 170.5h.6M80.3 170.5h.6M84.8 170.5h.6M101.6 170.5h.6M63.9 170.6h.6M67.7 170.6h.6M83.9 170.6h.6M92.2 170.6h.6M34.5 170.7h.6M69.6 170.7h.6M97.0 170.7h.6M97.1 170.7h.6M43.9 170.8h.6M98.4 170.8h.6M58.4 170.9h.6M64.5 170.9h.6M66.7 170.9h.6M83.2 170.9h.6M96.2 170.9h.6M55.5 171.0h.6M61.2 171.0h.6M74.4 171.0h.6M75.1 171.0h.6M92.0 171.0h.6M36.0 171.1h.6M59.6 171.1h.6M75.8 171.1h.6M80.2 171.1h.6M91.1 171.1h.6M97.0 171.1h.6M49.5 171.2h.6M59.9 171.2h.6M34.6 171.3h.6M46.3 171.3h.6M61.7 171.3h.6M90.8 171.3h.6M94.6 171.3h.6M74.7 171.4h.6M70.1 171.5h.6M82.5 171.5h.6M90.7 171.5h.6M65.5 171.6h.6M77.5 171.6h.6M95.4 171.6h.6M99.6 171.6h.6M51.3 171.7h.6M67.6 171.7h.6M72.7 171.7h.6M74.5 171.7h.6M94.5 171.7h.6M97.5 171.7h.6M98.4 171.7h.6M108.8 171.7h.6M65.6 171.8h.6M68.2 171.8h.6M70.3 171.8h.6M81.8 171.8h.6M96.1 171.8h.6M45.1 171.9h.6M47.9 171.9h.6M63.8 171.9h.6M76.9 171.9h.6M84.9 171.9h.6M98.4 171.9h.6M68.9 172.0h.6M35.4 172.1h.6M45.4 172.1h.6M57.0 172.1h.6M63.1 172.1h.6M76.1 172.1h.6M90.5 172.1h.6M91.1 172.1h.6M97.1 172.1h.6M97.4 172.1h.6M38.9 172.2h.6M99.1 172.2h.6M102.9 172.2h.6M44.5 172.3h.6M62.7 172.3h.6M65.0 172.3h.6M65.9 172.3h.6M68.0 172.3h.6M68.1 172.3h.6M69.0 172.3h.6M73.7 172.3h.6M76.5 172.3h.6M77.4 172.3h.6M97.7 172.3h.6M56.1 172.4h.6M61.3 172.4h.6M66.5 172.4h.6M69.4 172.4h.6M95.4 172.4h.6M99.5 172.4h.6M101.5 172.4h.6M62.8 172.5h.6M64.5 172.5h.6M97.2 172.5h.6M99.6 172.5h.6M100.1 172.5h.6M104.6 172.5h.6M45.2 172.6h.6M54.1 172.6h.6M80.0 172.6h.6M85.4 172.7h.6M91.0 172.7h.6M69.3 172.8h.6M71.1 172.8h.6M85.8 172.8h.6M98.9 172.8h.6M101.7 172.8h.6M81.0 172.9h.6M90.1 172.9h.6M96.1 172.9h.6M102.1 172.9h.6M49.0 173.0h.6M68.6 173.0h.6M70.8 173.0h.6M47.9 173.1h.6M48.1 173.1h.6M49.1 173.1h.6M81.8 173.1h.6M95.7 173.1h.6M65.1 173.2h.6M87.9 173.2h.6M93.6 173.2h.6M97.2 173.2h.6M98.5 173.2h.6M47.2 173.3h.6M47.4 173.3h.6M52.4 173.3h.6M59.0 173.3h.6M64.6 173.3h.6M71.5 173.3h.6M65.9 173.4h.6M68.1 173.4h.6M77.6 173.4h.6M81.0 173.4h.6M84.4 173.4h.6M53.5 173.5h.6M74.7 173.5h.6M90.1 173.5h.6M96.6 173.5h.6M97.3 173.5h.6M115.4 173.5h.6M38.8 173.6h.6M67.1 173.6h.6M67.2 173.6h.6M79.3 173.6h.6M95.9 173.6h.6M98.0 173.6h.6M35.7 173.7h.6M37.1 173.7h.6M66.3 173.7h.6M69.5 173.7h.6M87.9 173.7h.6M99.2 173.7h.6M104.7 173.7h.6M77.4 173.8h.6M83.1 173.8h.6M83.8 173.8h.6M58.7 173.9h.6M66.8 173.9h.6M66.8 173.9h.6M68.2 173.9h.6M48.2 174.0h.6M59.5 174.0h.6M62.2 174.0h.6M71.9 174.0h.6M74.6 174.0h.6M84.3 174.0h.6M96.2 174.0h.6M98.5 174.0h.6M100.1 174.0h.6M38.6 174.1h.6M45.2 174.1h.6M45.8 174.1h.6M58.3 174.1h.6M63.5 174.1h.6M97.3 174.1h.6M120.4 174.1h.6M45.6 174.2h.6M55.4 174.2h.6M62.9 174.2h.6M70.3 174.2h.6M73.1 174.2h.6M73.6 174.2h.6M79.3 174.2h.6M33.8 174.3h.6M40.9 174.3h.6M45.1 174.3h.6M56.2 174.3h.6M58.0 174.3h.6M70.9 174.3h.6M74.7 174.3h.6M76.9 174.3h.6M104.2 174.3h.6M36.8 174.4h.6M65.1 174.4h.6M68.1 174.4h.6M72.4 174.4h.6M75.0 174.4h.6M93.4 174.4h.6M96.7 174.4h.6M46.5 174.5h.6M96.3 174.5h.6M96.5 174.5h.6M99.3 174.5h.6M49.2 174.6h.6M56.0 174.6h.6M71.3 174.6h.6M84.0 174.6h.6M36.9 174.7h.6M47.2 174.7h.6M95.2 174.7h.6M43.6 174.8h.6M48.1 174.8h.6M62.4 174.8h.6M68.8 174.8h.6M73.7 174.8h.6M85.9 174.8h.6M91.8 174.8h.6M93.0 174.8h.6M41.0 174.9h.6M70.0 174.9h.6M78.3 174.9h.6M88.1 174.9h.6M63.5 175.0h.6M70.8 175.0h.6M92.4 175.0h.6M93.1 175.0h.6M98.3 175.0h.6M99.4 175.0h.6M114.4 175.0h.6M53.7 175.1h.6M58.4 175.1h.6M59.8 175.1h.6M70.0 175.1h.6M70.4 175.1h.6M75.3 175.1h.6M102.6 175.1h.6M104.8 175.1h.6M107.7 175.1h.6M35.1 175.2h.6M39.7 175.2h.6M45.0 175.2h.6M59.7 175.2h.6M92.9 175.2h.6M71.8 175.3h.6M76.9 175.3h.6M83.3 175.3h.6M53.2 175.4h.6M54.9 175.5h.6M82.1 175.5h.6M95.1 175.5h.6M95.7 175.5h.6M97.4 175.5h.6M126.7 175.5h.6M44.3 175.6h.6M63.9 175.6h.6M73.8 175.6h.6M82.0 175.6h.6M84.3 175.6h.6M88.9 175.6h.6M94.7 175.6h.6M53.1 175.7h.6M65.6 175.7h.6M90.2 175.7h.6M97.8 175.7h.6M98.4 175.7h.6M101.0 175.7h.6M52.1 175.8h.6M55.3 175.8h.6M70.6 175.8h.6M87.0 175.8h.6M88.1 175.8h.6M102.3 175.8h.6M44.9 175.9h.6M73.6 175.9h.6M79.4 175.9h.6M88.8 175.9h.6M70.3 176.0h.6M78.2 176.0h.6M88.5 176.0h.6M59.3 176.1h.6M62.7 176.1h.6M70.8 176.1h.6M82.4 176.1h.6M93.9 176.1h.6M105.4 176.1h.6M67.8 176.2h.6M86.8 176.2h.6M93.9 176.2h.6M96.7 176.2h.6M29.6 176.3h.6M49.5 176.3h.6M56.3 176.3h.6M62.2 176.3h.6M70.0 176.3h.6M70.6 176.3h.6M89.7 176.3h.6M54.9 176.4h.6M63.2 176.4h.6M85.2 176.4h.6M92.5 176.4h.6M75.2 176.5h.6M76.3 176.5h.6M44.2 176.6h.6M63.8 176.6h.6M65.6 176.6h.6M93.3 176.6h.6M120.4 176.6h.6M68.4 176.7h.6M70.4 176.7h.6M101.4 176.7h.6M48.1 176.8h.6M50.6 176.8h.6M70.6 176.8h.6M100.1 176.8h.6M41.1 176.9h.6M48.0 176.9h.6M55.3 176.9h.6M58.7 176.9h.6M64.7 176.9h.6M65.9 176.9h.6M70.1 176.9h.6M74.2 176.9h.6M79.9 176.9h.6M116.7 176.9h.6M45.0 177.0h.6M46.4 177.0h.6M52.7 177.0h.6M63.7 177.0h.6M68.5 177.1h.6M68.9 177.1h.6M55.5 177.2h.6M65.7 177.2h.6M73.2 177.2h.6M95.6 177.2h.6M96.8 177.2h.6M105.1 177.2h.6M105.3 177.2h.6M43.1 177.3h.6M81.8 177.3h.6M93.2 177.3h.6M40.4 177.4h.6M53.0 177.4h.6M71.5 177.4h.6M38.9 177.5h.6M62.8 177.5h.6M67.7 177.5h.6M71.1 177.5h.6M87.9 177.5h.6M94.2 177.5h.6M45.4 177.6h.6M67.4 177.6h.6M86.0 177.6h.6M90.7 177.6h.6M94.1 177.6h.6M49.8 177.7h.6M60.6 177.7h.6M74.2 177.7h.6M58.7 177.8h.6M60.6 177.8h.6M70.5 177.8h.6M95.1 177.8h.6M95.8 177.8h.6M96.0 177.8h.6M103.8 177.8h.6M59.1 177.9h.6M68.5 177.9h.6M69.3 177.9h.6M93.3 177.9h.6M56.5 178.0h.6M71.3 178.0h.6M77.3 178.0h.6M95.2 178.0h.6M103.0 178.0h.6M48.3 178.1h.6M53.5 178.1h.6M59.3 178.1h.6M102.4 178.1h.6M41.6 178.2h.6M43.3 178.2h.6M60.9 178.2h.6M69.1 178.2h.6M70.9 178.2h.6M80.3 178.2h.6M103.5 178.2h.6M59.9 178.3h.6M60.5 178.3h.6M66.2 178.3h.6M66.8 178.3h.6M68.3 178.3h.6M71.9 178.3h.6M76.5 178.3h.6M88.1 178.3h.6M95.0 178.3h.6M96.5 178.3h.6M51.7 178.4h.6M61.8 178.4h.6M68.4 178.4h.6M34.9 178.5h.6M43.2 178.5h.6M45.5 178.5h.6M68.3 178.5h.6M71.1 178.5h.6M83.4 178.5h.6M83.6 178.5h.6M84.8 178.5h.6M86.4 178.5h.6M87.7 178.5h.6M88.2 178.5h.6M94.2 178.5h.6M95.0 178.5h.6M98.5 178.5h.6M65.8 178.6h.6M66.9 178.6h.6M78.9 178.6h.6M81.5 178.6h.6M86.3 178.6h.6M90.0 178.6h.6M43.5 178.7h.6M45.4 178.7h.6M57.8 178.7h.6M67.8 178.7h.6M78.9 178.7h.6M94.9 178.7h.6M98.1 178.7h.6M38.9 178.8h.6M50.6 178.8h.6M64.5 178.8h.6M67.3 178.8h.6M68.9 178.8h.6M76.6 178.8h.6M91.7 178.8h.6M40.5 178.9h.6M42.3 178.9h.6M70.2 178.9h.6M90.5 178.9h.6M61.5 179.0h.6M66.8 179.0h.6M74.4 179.0h.6M76.8 179.0h.6M97.9 179.0h.6M108.1 179.0h.6M44.6 179.1h.6M53.7 179.1h.6M58.0 179.1h.6M64.8 179.1h.6M78.7 179.1h.6M81.6 179.1h.6M97.2 179.1h.6M83.5 179.2h.6M95.4 179.2h.6M95.9 179.2h.6M97.4 179.2h.6M69.4 179.3h.6M61.8 179.4h.6M66.3 179.4h.6M69.3 179.4h.6M84.5 179.4h.6M99.3 179.4h.6M52.1 179.5h.6M54.4 179.5h.6M95.6 179.5h.6M95.9 179.5h.6M114.2 179.5h.6M46.9 179.6h.6M49.6 179.6h.6M50.8 179.6h.6M70.2 179.6h.6M91.7 179.6h.6M91.8 179.6h.6M92.0 179.6h.6M99.5 179.6h.6M44.3 179.7h.6M50.9 179.7h.6M69.8 179.7h.6M72.6 179.7h.6M35.3 179.8h.6M57.3 179.8h.6M61.9 179.8h.6M72.3 179.8h.6M92.1 179.8h.6M104.6 179.8h.6M123.1 179.8h.6M56.9 179.9h.6M79.2 179.9h.6M79.6 179.9h.6M95.6 179.9h.6M45.0 180.0h.6M61.9 180.0h.6M84.5 180.0h.6M84.6 180.0h.6M94.8 180.0h.6M97.1 180.0h.6M97.4 180.0h.6M109.7 180.0h.6M40.3 180.1h.6M60.1 180.1h.6M91.8 180.1h.6M92.1 180.1h.6M35.1 180.2h.6M56.5 180.2h.6M84.7 180.2h.6M91.0 180.2h.6M67.6 180.3h.6M71.6 180.3h.6M81.3 180.3h.6M87.9 180.3h.6M91.2 180.3h.6M59.1 180.4h.6M59.7 180.4h.6M61.5 180.4h.6M70.7 180.4h.6M74.8 180.4h.6M98.8 180.4h.6M102.7 180.4h.6M63.0 180.5h.6M66.5 180.5h.6M67.2 180.5h.6M74.8 180.5h.6M83.5 180.5h.6M85.3 180.5h.6M103.8 180.5h.6M45.5 180.6h.6M45.7 180.6h.6M47.9 180.6h.6M68.3 180.6h.6M76.8 180.6h.6M89.1 180.6h.6M93.9 180.6h.6M39.1 180.7h.6M41.6 180.7h.6M55.8 180.7h.6M57.8 180.7h.6M69.4 180.7h.6M51.5 180.8h.6M66.3 180.8h.6M67.7 180.8h.6M67.8 180.8h.6M82.3 180.8h.6M97.5 180.8h.6M98.1 180.8h.6M102.2 180.8h.6M42.9 180.9h.6M94.7 180.9h.6M103.6 180.9h.6M34.3 181.0h.6M42.4 181.0h.6M62.7 181.0h.6M63.4 181.0h.6M93.5 181.0h.6M95.4 181.0h.6M98.0 181.0h.6M101.3 181.0h.6M65.8 181.1h.6M71.2 181.1h.6M86.3 181.1h.6M90.2 181.1h.6M36.5 181.2h.6M54.3 181.2h.6M56.4 181.2h.6M68.5 181.2h.6M81.0 181.2h.6M84.3 181.2h.6M97.1 181.2h.6M97.4 181.2h.6M57.3 181.3h.6M78.3 181.3h.6M45.5 181.4h.6M50.8 181.4h.6M51.1 181.4h.6M51.2 181.4h.6M55.8 181.4h.6M67.1 181.4h.6M77.0 181.4h.6M77.2 181.4h.6M83.9 181.4h.6M93.6 181.4h.6M62.5 181.5h.6M66.1 181.5h.6M74.4 181.5h.6M74.5 181.5h.6M78.9 181.5h.6M95.3 181.5h.6M44.4 181.6h.6M88.1 181.6h.6M94.3 181.6h.6M96.7 181.6h.6M59.5 181.7h.6M69.8 181.7h.6M87.6 181.7h.6M96.5 181.7h.6M33.5 181.8h.6M49.4 181.8h.6M52.8 181.8h.6M53.1 181.8h.6M64.4 181.8h.6M74.2 181.8h.6M90.4 181.8h.6M94.3 181.8h.6M115.4 181.8h.6M42.8 181.9h.6M63.7 181.9h.6M69.9 181.9h.6M37.5 182.0h.6M46.4 182.0h.6M59.7 182.0h.6M69.2 182.0h.6M84.3 182.0h.6M38.0 182.1h.6M48.6 182.1h.6M63.3 182.1h.6M63.5 182.1h.6M68.7 182.1h.6M71.3 182.1h.6M72.1 182.1h.6M96.5 182.1h.6M54.8 182.2h.6M63.2 182.2h.6M64.5 182.2h.6M82.7 182.2h.6M51.7 182.3h.6M56.4 182.3h.6M90.7 182.3h.6M100.1 182.3h.6M102.4 182.4h.6M55.5 182.5h.6M58.2 182.5h.6M67.0 182.5h.6M82.0 182.5h.6M84.5 182.5h.6M91.0 182.5h.6M91.2 182.5h.6M96.6 182.5h.6M36.8 182.6h.6M47.5 182.6h.6M65.4 182.6h.6M67.6 182.6h.6M78.4 182.6h.6M37.5 182.7h.6M42.8 182.7h.6M46.8 182.7h.6M48.7 182.7h.6M54.7 182.7h.6M61.6 182.7h.6M63.2 182.7h.6M74.9 182.7h.6M86.6 182.7h.6M89.0 182.7h.6M70.9 182.8h.6M74.3 182.8h.6M84.3 182.8h.6M91.4 182.8h.6M97.0 182.8h.6M100.3 182.8h.6M100.8 182.8h.6M30.8 182.9h.6M58.8 182.9h.6M63.6 182.9h.6M74.9 182.9h.6M89.5 182.9h.6M91.2 182.9h.6M99.5 182.9h.6M66.4 183.0h.6M85.2 183.0h.6M101.1 183.0h.6M42.6 183.1h.6M63.7 183.1h.6M90.1 183.1h.6M36.9 183.2h.6M40.7 183.2h.6M69.5 183.2h.6M42.4 183.3h.6M43.0 183.3h.6M54.4 183.3h.6M68.2 183.3h.6M38.6 183.4h.6M44.7 183.4h.6M64.2 183.4h.6M69.3 183.4h.6M69.7 183.4h.6M70.7 183.4h.6M78.8 183.4h.6M104.5 183.4h.6M34.4 183.5h.6M46.5 183.5h.6M52.2 183.5h.6M67.1 183.5h.6M88.1 183.5h.6M96.2 183.5h.6M96.6 183.5h.6M102.4 183.5h.6M89.4 183.6h.6M75.7 183.7h.6M103.8 183.7h.6M108.3 183.7h.6M50.7 183.8h.6M64.7 183.8h.6M65.2 183.8h.6M71.5 183.8h.6M71.9 183.8h.6M73.1 183.8h.6M74.8 183.8h.6M79.3 183.8h.6M94.5 183.8h.6M97.5 183.8h.6M98.2 183.8h.6M67.2 183.9h.6M71.4 183.9h.6M81.4 183.9h.6M95.4 183.9h.6M58.9 184.0h.6M75.2 184.0h.6M45.2 184.1h.6M73.4 184.1h.6M90.9 184.1h.6M104.2 184.1h.6M38.8 184.2h.6M71.9 184.2h.6M86.3 184.2h.6M95.3 184.2h.6M40.5 184.3h.6M96.2 184.3h.6M43.8 184.4h.6M47.9 184.4h.6M56.5 184.4h.6M66.4 184.4h.6M72.4 184.4h.6M85.4 184.4h.6M44.5 184.5h.6M47.0 184.5h.6M64.7 184.5h.6M69.6 184.5h.6M75.8 184.5h.6M91.5 184.5h.6M53.3 184.6h.6M55.6 184.6h.6M68.1 184.6h.6M73.4 184.6h.6M76.5 184.6h.6M61.3 184.7h.6M65.3 184.7h.6M65.8 184.7h.6M76.2 184.7h.6M91.2 184.7h.6M94.9 184.7h.6M103.7 184.7h.6M65.2 184.8h.6M67.0 184.8h.6M92.9 184.8h.6M50.2 184.9h.6M67.4 184.9h.6M88.1 184.9h.6M90.2 184.9h.6M98.0 184.9h.6M32.7 185.0h.6M44.8 185.0h.6M66.7 185.0h.6M77.0 185.0h.6M78.7 185.0h.6M40.6 185.1h.6M49.8 185.1h.6M58.2 185.1h.6M63.7 185.1h.6M91.0 185.1h.6M41.2 185.2h.6M57.1 185.2h.6M64.7 185.2h.6M65.2 185.2h.6M83.6 185.2h.6M95.2 185.2h.6M118.9 185.2h.6M62.6 185.3h.6M68.5 185.3h.6M92.1 185.3h.6M43.8 185.4h.6M54.2 185.4h.6M62.0 185.4h.6M68.2 185.4h.6M83.3 185.4h.6M94.3 185.4h.6M43.7 185.5h.6M47.9 185.5h.6M83.0 185.5h.6M101.6 185.5h.6M41.6 185.6h.6M55.5 185.6h.6M66.6 185.6h.6M87.3 185.6h.6M45.8 185.7h.6M59.4 185.7h.6M89.5 185.7h.6M89.5 185.7h.6M64.1 185.8h.6M64.2 185.8h.6M66.9 185.8h.6M68.7 185.8h.6M82.0 185.8h.6M94.3 185.8h.6M51.4 185.9h.6M64.8 185.9h.6M65.1 185.9h.6M73.0 185.9h.6M113.1 185.9h.6M61.3 186.0h.6M83.3 186.0h.6M88.4 186.0h.6M53.1 186.1h.6M72.1 186.1h.6M75.4 186.1h.6M86.2 186.1h.6M40.1 186.2h.6M46.0 186.2h.6M63.2 186.2h.6M68.1 186.2h.6M68.5 186.2h.6M68.9 186.2h.6M69.5 186.2h.6M70.8 186.2h.6M71.6 186.2h.6M94.2 186.2h.6M100.3 186.2h.6M38.8 186.3h.6M75.5 186.3h.6M81.1 186.3h.6M40.2 186.4h.6M61.1 186.4h.6M67.1 186.4h.6M68.1 186.4h.6M69.1 186.4h.6M82.3 186.4h.6M96.3 186.4h.6M69.2 186.5h.6M72.4 186.5h.6M74.7 186.5h.6M92.0 186.5h.6M95.2 186.5h.6M109.2 186.5h.6M49.4 186.6h.6M61.8 186.6h.6M63.1 186.6h.6M71.3 186.6h.6M80.6 186.6h.6M81.4 186.6h.6M82.5 186.6h.6M89.7 186.6h.6M126.8 186.6h.6M35.4 186.7h.6M62.7 186.7h.6M78.1 186.7h.6M82.7 186.7h.6M87.1 186.7h.6M88.0 186.7h.6M94.0 186.7h.6M96.8 186.7h.6M53.4 186.8h.6M66.7 186.8h.6M68.7 186.8h.6M71.3 186.8h.6M73.5 186.8h.6M73.6 186.8h.6M101.5 186.8h.6M57.2 186.9h.6M62.9 186.9h.6M64.3 186.9h.6M67.9 186.9h.6M91.0 186.9h.6M53.7 187.0h.6M60.5 187.0h.6M67.8 187.0h.6M88.4 187.0h.6M53.6 187.1h.6M67.4 187.1h.6M70.8 187.1h.6M80.5 187.1h.6M84.7 187.1h.6M100.0 187.1h.6M110.7 187.1h.6M134.1 187.1h.6M57.0 187.2h.6M68.7 187.2h.6M76.7 187.2h.6M87.7 187.2h.6M30.7 187.3h.6M57.8 187.3h.6M66.5 187.3h.6M69.2 187.3h.6M70.5 187.3h.6M82.4 187.3h.6M97.2 187.3h.6M40.5 187.4h.6M59.9 187.4h.6M70.3 187.4h.6M59.1 187.5h.6M70.1 187.5h.6M71.5 187.5h.6M80.2 187.5h.6M98.1 187.5h.6M104.7 187.5h.6M49.6 187.6h.6M77.4 187.6h.6M84.4 187.6h.6M94.6 187.6h.6M88.9 187.7h.6M89.2 187.7h.6M94.0 187.7h.6M95.7 187.7h.6M102.7 187.7h.6M47.4 187.8h.6M52.7 187.8h.6M48.8 187.9h.6M60.8 187.9h.6M72.9 187.9h.6M91.7 187.9h.6M101.9 187.9h.6M39.3 188.0h.6M62.4 188.0h.6M65.7 188.0h.6M69.7 188.0h.6M96.3 188.0h.6M98.8 188.0h.6M54.1 188.1h.6M57.6 188.1h.6M65.2 188.1h.6M72.6 188.1h.6M82.4 188.1h.6M90.0 188.1h.6M52.3 188.2h.6M64.0 188.2h.6M65.8 188.2h.6M67.8 188.2h.6M69.1 188.2h.6M69.4 188.2h.6M69.6 188.2h.6M88.8 188.2h.6M95.0 188.2h.6M101.0 188.2h.6M64.5 188.3h.6M68.7 188.3h.6M73.8 188.3h.6M81.8 188.3h.6M82.9 188.3h.6M63.0 188.4h.6M67.1 188.4h.6M75.5 188.4h.6M96.0 188.4h.6M97.5 188.4h.6M67.4 188.5h.6M84.1 188.5h.6M91.6 188.5h.6M39.9 188.6h.6M67.5 188.6h.6M74.7 188.6h.6M75.9 188.6h.6M92.1 188.6h.6M96.2 188.6h.6M50.6 188.7h.6M57.1 188.7h.6M58.0 188.7h.6M60.2 188.7h.6M61.8 188.7h.6M62.7 188.7h.6M68.6 188.7h.6M88.8 188.7h.6M94.2 188.7h.6M100.7 188.7h.6M48.5 188.8h.6M56.4 188.8h.6M67.2 188.8h.6M67.7 188.8h.6M86.6 188.8h.6M92.2 188.8h.6M96.1 188.8h.6M100.6 188.8h.6M57.4 188.9h.6M60.9 188.9h.6M75.0 188.9h.6M82.6 188.9h.6M85.8 188.9h.6M88.0 188.9h.6M92.1 188.9h.6M69.3 189.0h.6M70.1 189.0h.6M74.6 189.1h.6M90.8 189.1h.6M91.1 189.1h.6M92.3 189.1h.6M95.8 189.1h.6M96.3 189.1h.6M96.8 189.1h.6M98.2 189.1h.6M104.0 189.1h.6M38.9 189.2h.6M46.2 189.2h.6M52.4 189.2h.6M53.4 189.2h.6M77.7 189.2h.6M82.0 189.2h.6M50.4 189.3h.6M75.0 189.3h.6M95.2 189.3h.6M55.1 189.4h.6M69.2 189.4h.6M73.1 189.4h.6M78.6 189.4h.6M36.3 189.5h.6M42.6 189.5h.6M72.4 189.5h.6M100.8 189.5h.6M36.6 189.6h.6M99.0 189.6h.6M45.2 189.7h.6M66.4 189.7h.6M80.3 189.7h.6M80.8 189.7h.6M98.8 189.7h.6M46.2 189.8h.6M52.3 189.8h.6M62.0 189.8h.6M91.4 189.8h.6M97.9 189.8h.6M35.1 189.9h.6M56.7 189.9h.6M61.9 189.9h.6M72.0 189.9h.6M81.1 189.9h.6M82.2 189.9h.6M90.3 189.9h.6M93.5 189.9h.6M42.0 190.0h.6M66.6 190.0h.6M87.6 190.0h.6M52.9 190.1h.6M62.1 190.1h.6M63.2 190.1h.6M72.8 190.1h.6M73.6 190.1h.6M81.0 190.1h.6M81.0 190.1h.6M82.8 190.1h.6M83.6 190.1h.6M85.2 190.1h.6M97.9 190.1h.6M98.6 190.1h.6M52.7 190.2h.6M91.4 190.2h.6M95.2 190.2h.6M43.8 190.3h.6M52.3 190.3h.6M56.2 190.3h.6M70.9 190.3h.6M92.6 190.3h.6M96.8 190.3h.6M99.2 190.3h.6M62.0 190.4h.6M67.0 190.4h.6M98.2 190.4h.6M99.4 190.4h.6M102.5 190.4h.6M50.0 190.5h.6M51.2 190.5h.6M59.5 190.5h.6M68.7 190.5h.6M76.7 190.5h.6M93.0 190.5h.6M106.2 190.5h.6M50.7 190.6h.6M52.5 190.6h.6M65.4 190.6h.6M95.0 190.6h.6M51.5 190.7h.6M67.5 190.7h.6M92.0 190.7h.6M36.6 190.8h.6M46.3 190.8h.6M53.4 190.8h.6M66.8 190.8h.6M81.2 190.8h.6M39.4 190.9h.6M41.8 190.9h.6M42.3 190.9h.6M46.6 190.9h.6M62.5 190.9h.6M65.1 190.9h.6M69.5 190.9h.6M72.1 190.9h.6M96.5 190.9h.6M37.3 191.0h.6M69.6 191.0h.6M76.1 191.0h.6M82.9 191.0h.6M90.1 191.0h.6M103.0 191.0h.6M39.2 191.1h.6M62.6 191.1h.6M64.0 191.1h.6M99.1 191.1h.6M48.5 191.2h.6M68.3 191.2h.6M69.5 191.2h.6M73.2 191.2h.6M84.4 191.2h.6M86.3 191.2h.6M96.8 191.2h.6M40.7 191.3h.6M47.7 191.3h.6M57.4 191.3h.6M88.2 191.3h.6M94.5 191.3h.6M35.7 191.4h.6M64.2 191.4h.6M68.5 191.4h.6M46.7 191.5h.6M55.4 191.5h.6M69.9 191.5h.6M69.9 191.5h.6M75.1 191.5h.6M94.5 191.5h.6M99.3 191.5h.6M43.4 191.6h.6M46.4 191.6h.6M51.5 191.6h.6M71.0 191.6h.6M81.5 191.6h.6M87.9 191.6h.6M94.7 191.6h.6M97.0 191.6h.6M45.0 191.7h.6M49.8 191.7h.6M65.1 191.7h.6M88.1 191.7h.6M101.6 191.7h.6M69.8 191.8h.6M86.8 191.8h.6M88.5 191.8h.6M92.4 191.8h.6M106.5 191.8h.6M68.6 191.9h.6M71.3 191.9h.6M91.7 191.9h.6M51.2 192.0h.6M72.2 192.0h.6M96.5 192.0h.6M104.6 192.0h.6M59.4 192.1h.6M66.6 192.1h.6M67.8 192.1h.6M70.1 192.1h.6M71.7 192.1h.6M46.6 192.2h.6M64.7 192.2h.6M70.2 192.2h.6M72.4 192.2h.6M72.7 192.2h.6M74.1 192.2h.6M78.5 192.2h.6M78.9 192.2h.6M86.0 192.2h.6M92.0 192.2h.6M97.2 192.2h.6M57.9 192.3h.6M73.9 192.3h.6M87.0 192.3h.6M106.7 192.3h.6M46.6 192.4h.6M61.5 192.4h.6M62.2 192.4h.6M63.2 192.4h.6M64.8 192.4h.6M65.5 192.4h.6M66.5 192.4h.6M39.4 192.5h.6M47.1 192.5h.6M50.2 192.5h.6M58.4 192.5h.6M61.5 192.5h.6M66.7 192.5h.6M76.3 192.5h.6M87.5 192.5h.6M95.9 192.5h.6M101.1 192.5h.6M35.8 192.6h.6M50.4 192.6h.6M50.7 192.6h.6M60.0 192.6h.6M66.9 192.6h.6M93.9 192.6h.6M101.3 192.6h.6M128.6 192.6h.6M61.4 192.7h.6M73.6 192.7h.6M90.2 192.7h.6M83.2 192.8h.6M36.5 193.0h.6M70.9 193.0h.6M92.5 193.0h.6M92.6 193.0h.6M100.9 193.0h.6M104.0 193.0h.6M45.2 193.1h.6M46.7 193.1h.6M53.7 193.1h.6M58.9 193.1h.6M71.5 193.1h.6M74.3 193.1h.6M87.1 193.1h.6M88.8 193.1h.6M101.5 193.1h.6M51.9 193.2h.6M61.7 193.2h.6M68.2 193.2h.6M73.2 193.2h.6M130.9 193.2h.6M62.4 193.3h.6M68.6 193.3h.6M88.0 193.3h.6M88.7 193.3h.6M96.0 193.3h.6M48.5 193.4h.6M61.0 193.4h.6M64.7 193.4h.6M73.3 193.4h.6M77.2 193.4h.6M31.8 193.5h.6M44.2 193.5h.6M48.0 193.5h.6M49.5 193.5h.6M54.5 193.5h.6M62.3 193.5h.6M66.8 193.5h.6M73.3 193.5h.6M75.5 193.5h.6M93.3 193.5h.6M93.9 193.5h.6M94.7 193.5h.6M37.5 193.6h.6M64.6 193.6h.6M67.7 193.6h.6M70.1 193.6h.6M88.6 193.6h.6M96.8 193.6h.6M43.9 193.7h.6M47.3 193.7h.6M58.5 193.7h.6M61.1 193.7h.6M64.0 193.7h.6M68.5 193.7h.6M76.9 193.7h.6M85.4 193.7h.6M97.9 193.7h.6M115.3 193.7h.6M115.9 193.7h.6M58.0 193.8h.6M66.2 193.8h.6M81.2 193.8h.6M91.0 193.8h.6M91.9 193.8h.6M50.0 193.9h.6M57.0 193.9h.6M73.6 193.9h.6M55.0 194.0h.6M56.1 194.0h.6M73.7 194.0h.6M91.0 194.0h.6M91.5 194.0h.6M92.4 194.0h.6M44.3 194.1h.6M49.1 194.1h.6M82.3 194.1h.6M40.4 194.2h.6M69.8 194.2h.6M73.2 194.2h.6M88.7 194.2h.6M88.8 194.2h.6M120.8 194.2h.6M61.5 194.3h.6M83.3 194.3h.6M94.9 194.3h.6M95.1 194.3h.6M99.7 194.3h.6M52.6 194.4h.6M56.5 194.4h.6M65.8 194.4h.6M75.0 194.4h.6M82.0 194.4h.6M91.5 194.4h.6M91.6 194.4h.6M67.7 194.5h.6M70.5 194.5h.6M78.9 194.5h.6M51.7 194.6h.6M55.0 194.6h.6M66.9 194.6h.6M67.2 194.6h.6M72.2 194.6h.6M73.4 194.6h.6M73.4 194.6h.6M74.1 194.6h.6M76.3 194.6h.6M89.8 194.6h.6M92.5 194.6h.6M35.1 194.7h.6M77.7 194.7h.6M88.3 194.7h.6M95.2 194.7h.6M101.6 194.7h.6M61.2 194.8h.6M66.7 194.8h.6M75.3 194.8h.6M84.3 194.8h.6M95.4 194.8h.6M42.3 194.9h.6M62.3 194.9h.6M64.7 194.9h.6M90.0 194.9h.6M96.9 194.9h.6M57.2 195.0h.6M58.4 195.0h.6M70.1 195.0h.6M74.5 195.0h.6M58.7 195.1h.6M66.8 195.1h.6M73.1 195.1h.6M101.5 195.1h.6M90.4 195.2h.6M92.1 195.2h.6M98.9 195.2h.6M51.1 195.3h.6M61.5 195.3h.6M63.5 195.3h.6M90.6 195.3h.6M61.1 195.4h.6M63.5 195.4h.6M64.2 195.4h.6M66.6 195.4h.6M70.6 195.4h.6M84.7 195.4h.6M118.5 195.4h.6M50.8 195.5h.6M63.8 195.5h.6M91.6 195.5h.6M44.8 195.6h.6M45.8 195.6h.6M55.1 195.6h.6M61.6 195.6h.6M65.0 195.6h.6M69.1 195.6h.6M94.0 195.6h.6M97.6 195.6h.6M44.8 195.7h.6M48.9 195.7h.6M91.3 195.7h.6M96.4 195.7h.6M96.6 195.7h.6M58.0 195.8h.6M60.0 195.8h.6M66.2 195.8h.6M83.0 195.8h.6M41.3 195.9h.6M42.8 195.9h.6M74.9 195.9h.6M82.2 195.9h.6M98.4 195.9h.6M105.9 195.9h.6M118.7 195.9h.6M35.2 196.0h.6M37.0 196.0h.6M81.0 196.0h.6M94.3 196.0h.6M95.6 196.0h.6M56.8 196.1h.6M58.5 196.1h.6M73.3 196.1h.6M75.5 196.1h.6M44.0 196.2h.6M58.5 196.2h.6M65.7 196.2h.6M75.8 196.2h.6M82.6 196.2h.6M82.9 196.2h.6M86.7 196.2h.6M96.2 196.2h.6M44.8 196.3h.6M46.8 196.3h.6M63.7 196.3h.6M87.0 196.3h.6M89.3 196.3h.6M93.5 196.3h.6M93.8 196.3h.6M45.4 196.4h.6M50.8 196.4h.6M51.7 196.4h.6M69.3 196.4h.6M91.7 196.4h.6M96.2 196.4h.6M101.4 196.4h.6M122.8 196.4h.6M41.2 196.5h.6M47.9 196.5h.6M80.8 196.5h.6M82.7 196.6h.6M36.6 196.7h.6M60.2 196.7h.6M61.9 196.7h.6M74.8 196.7h.6M83.4 196.7h.6M58.6 196.8h.6M72.1 196.8h.6M104.1 196.8h.6M112.3 196.8h.6M59.7 196.9h.6M65.7 196.9h.6M75.1 196.9h.6M78.1 196.9h.6M96.8 196.9h.6M34.0 197.0h.6M41.3 197.0h.6M64.0 197.0h.6M68.6 197.0h.6M70.5 197.0h.6M104.6 197.0h.6M56.5 197.1h.6M59.9 197.1h.6M60.2 197.1h.6M66.5 197.1h.6M67.2 197.1h.6M67.9 197.1h.6M41.3 197.2h.6M43.1 197.2h.6M49.0 197.2h.6M76.7 197.2h.6M86.6 197.2h.6M94.8 197.2h.6M97.7 197.2h.6M42.3 197.3h.6M44.7 197.3h.6M54.0 197.3h.6M74.8 197.3h.6M81.0 197.3h.6M90.7 197.3h.6M95.8 197.3h.6M67.9 197.4h.6M71.7 197.4h.6M71.8 197.4h.6M82.0 197.4h.6M60.4 197.5h.6M82.8 197.5h.6M86.1 197.5h.6M87.2 197.5h.6M60.3 197.6h.6M66.3 197.6h.6M73.2 197.6h.6M85.7 197.6h.6M50.3 197.7h.6M61.4 197.7h.6M81.2 197.7h.6M88.6 197.7h.6M32.7 197.8h.6M59.7 197.8h.6M74.9 197.8h.6M83.2 197.8h.6M62.0 197.9h.6M94.2 197.9h.6M96.5 197.9h.6M97.0 197.9h.6M99.0 197.9h.6M39.0 198.0h.6M48.9 198.0h.6M69.6 198.0h.6M71.1 198.0h.6M72.5 198.0h.6M83.4 198.0h.6M93.1 198.0h.6M34.0 198.1h.6M36.2 198.1h.6M39.0 198.1h.6M43.9 198.1h.6M62.9 198.1h.6M65.0 198.1h.6M67.1 198.1h.6M79.2 198.1h.6M93.7 198.1h.6M96.5 198.1h.6M49.5 198.2h.6M75.5 198.2h.6M45.0 198.3h.6M58.4 198.3h.6M72.1 198.3h.6M82.6 198.3h.6M94.7 198.3h.6M45.2 198.4h.6M94.1 198.4h.6M94.8 198.4h.6M95.7 198.4h.6M50.3 198.5h.6M55.0 198.5h.6M59.8 198.5h.6M65.6 198.5h.6M66.3 198.5h.6M73.9 198.5h.6M75.3 198.5h.6M75.4 198.5h.6M60.1 198.6h.6M85.1 198.6h.6M92.4 198.6h.6M95.9 198.6h.6M53.8 198.7h.6M55.0 198.7h.6M58.4 198.7h.6M82.9 198.7h.6M96.6 198.7h.6M49.1 198.8h.6M63.3 198.8h.6M65.9 198.8h.6M67.7 198.8h.6M66.2 198.9h.6M94.4 198.9h.6M96.1 198.9h.6M41.5 199.0h.6M60.6 199.0h.6M62.5 199.0h.6M72.3 199.0h.6M87.9 199.0h.6M96.5 199.0h.6M97.8 199.0h.6M36.1 199.1h.6M68.2 199.1h.6M71.4 199.1h.6M77.4 199.1h.6M88.9 199.1h.6M98.1 199.1h.6M98.2 199.1h.6M98.4 199.1h.6M105.7 199.1h.6M57.3 199.2h.6M58.5 199.2h.6M59.6 199.2h.6M66.3 199.2h.6M67.8 199.2h.6M81.3 199.2h.6M92.4 199.2h.6M95.1 199.2h.6M42.0 199.3h.6M64.5 199.3h.6M69.5 199.3h.6M92.0 199.3h.6M56.3 199.4h.6M60.1 199.4h.6M80.4 199.4h.6M37.0 199.5h.6M39.7 199.5h.6M52.3 199.5h.6M54.6 199.5h.6M58.6 199.5h.6M62.0 199.5h.6M63.2 199.5h.6M70.2 199.5h.6M75.5 199.5h.6M87.9 199.5h.6M97.6 199.5h.6M94.1 199.6h.6M94.8 199.6h.6M74.8 199.7h.6M96.3 199.7h.6M37.8 199.8h.6M40.1 199.8h.6M56.4 199.8h.6M59.1 199.8h.6M59.2 199.8h.6M61.5 199.8h.6M67.9 199.8h.6M77.9 199.8h.6M87.7 199.8h.6M99.0 199.8h.6M137.3 199.8h.6M32.5 199.9h.6M34.0 199.9h.6M50.0 199.9h.6M61.0 199.9h.6M69.6 199.9h.6M75.6 199.9h.6M102.6 199.9h.6M105.0 199.9h.6M44.9 200.0h.6M68.0 200.0h.6M69.0 200.0h.6M86.0 200.0h.6M94.9 200.0h.6M38.1 200.1h.6M45.8 200.1h.6M95.1 200.1h.6M95.8 200.1h.6M35.2 200.2h.6M52.6 200.2h.6M55.2 200.2h.6M60.0 200.2h.6M61.0 200.2h.6M62.4 200.2h.6M73.9 200.2h.6M93.8 200.2h.6M27.8 200.3h.6M36.6 200.3h.6M39.0 200.3h.6M64.4 200.3h.6M66.8 200.3h.6M42.0 200.4h.6M61.1 200.4h.6M62.2 200.4h.6M67.2 200.4h.6M72.4 200.4h.6M103.4 200.4h.6M45.5 200.5h.6M51.6 200.5h.6M95.0 200.5h.6M99.9 200.5h.6M46.0 200.6h.6M52.1 200.6h.6M67.7 200.6h.6M70.3 200.6h.6M74.1 200.6h.6M84.0 200.6h.6M88.6 200.6h.6M44.7 200.7h.6M57.8 200.7h.6M72.4 200.7h.6M73.2 200.7h.6M80.2 200.7h.6M82.0 200.7h.6M43.1 200.8h.6M58.4 200.8h.6M97.1 200.8h.6M43.6 200.9h.6M81.7 200.9h.6M32.5 201.0h.6M56.0 201.0h.6M65.8 201.0h.6M71.9 201.0h.6M90.4 201.0h.6M90.9 201.0h.6M96.8 201.0h.6M35.3 201.1h.6M42.2 201.1h.6M58.7 201.1h.6M59.9 201.1h.6M87.7 201.1h.6M93.1 201.1h.6M93.5 201.1h.6M94.9 201.1h.6M95.1 201.1h.6M40.2 201.2h.6M63.5 201.2h.6M67.0 201.2h.6M67.1 201.2h.6M73.8 201.2h.6M78.2 201.2h.6M97.6 201.2h.6M106.7 201.2h.6M58.7 201.3h.6M68.1 201.3h.6M73.3 201.3h.6M86.6 201.3h.6M90.3 201.3h.6M29.3 201.4h.6M40.7 201.4h.6M40.9 201.4h.6M44.4 201.4h.6M54.0 201.4h.6M77.5 201.4h.6M79.6 201.4h.6M82.0 201.4h.6M39.2 201.5h.6M62.0 201.5h.6M67.2 201.5h.6M68.1 201.5h.6M68.2 201.5h.6M68.3 201.5h.6M69.3 201.5h.6M37.9 201.6h.6M40.1 201.6h.6M67.4 201.6h.6M69.4 201.6h.6M79.3 201.6h.6M81.3 201.6h.6M91.3 201.6h.6M44.0 201.7h.6M60.2 201.7h.6M64.7 201.7h.6M71.2 201.7h.6M95.5 201.7h.6M42.6 201.8h.6M47.3 201.8h.6M55.1 201.8h.6M60.7 201.8h.6M64.5 201.8h.6M65.3 201.8h.6M68.9 201.8h.6M94.7 201.8h.6M96.7 201.8h.6M98.9 201.8h.6M50.4 201.9h.6M57.6 201.9h.6M58.7 201.9h.6M70.1 201.9h.6M82.7 201.9h.6M86.6 201.9h.6M91.2 201.9h.6M98.9 201.9h.6M29.4 202.0h.6M39.2 202.0h.6M39.7 202.0h.6M47.8 202.0h.6M55.6 202.0h.6M69.0 202.0h.6M76.6 202.0h.6M89.4 202.0h.6M58.4 202.1h.6M64.4 202.1h.6M65.4 202.1h.6M68.2 202.1h.6M76.4 202.1h.6M84.0 202.1h.6M36.1 202.2h.6M53.8 202.2h.6M57.6 202.2h.6M70.1 202.2h.6M71.4 202.2h.6M75.4 202.2h.6M49.1 202.3h.6M49.4 202.3h.6M56.5 202.3h.6M56.5 202.3h.6M63.1 202.3h.6M66.4 202.3h.6M69.5 202.3h.6M102.5 202.3h.6M40.9 202.4h.6M66.2 202.4h.6M81.4 202.4h.6M82.1 202.4h.6M84.4 202.4h.6M93.3 202.4h.6M67.3 202.5h.6M74.9 202.5h.6M81.5 202.5h.6M86.1 202.5h.6M95.7 202.5h.6M60.4 202.6h.6M63.9 202.6h.6M89.6 202.6h.6M43.4 202.7h.6M50.9 202.7h.6M60.9 202.7h.6M61.0 202.7h.6M67.6 202.7h.6M72.8 202.7h.6M75.0 202.7h.6M77.5 202.7h.6M88.0 202.7h.6M99.7 202.7h.6M52.2 202.8h.6M59.4 202.8h.6M90.9 202.8h.6M97.5 202.8h.6M98.5 202.8h.6M102.7 202.8h.6M46.0 202.9h.6M61.5 202.9h.6M66.6 202.9h.6M77.2 202.9h.6M131.4 202.9h.6M71.1 203.0h.6M41.0 203.1h.6M55.4 203.1h.6M58.9 203.1h.6M66.6 203.1h.6M68.1 203.1h.6M69.1 203.1h.6M43.4 203.2h.6M43.7 203.2h.6M53.0 203.2h.6M90.5 203.2h.6M91.7 203.2h.6M94.2 203.2h.6M39.0 203.3h.6M39.6 203.3h.6M50.6 203.3h.6M58.1 203.3h.6M67.4 203.3h.6M75.8 203.3h.6M76.0 203.3h.6M76.1 203.3h.6M77.8 203.3h.6M98.4 203.3h.6M63.6 203.4h.6M68.7 203.4h.6M69.9 203.4h.6M79.6 203.4h.6M81.3 203.4h.6M83.4 203.4h.6M88.4 203.4h.6M91.2 203.4h.6M96.1 203.4h.6M43.1 203.5h.6M43.8 203.5h.6M50.9 203.5h.6M68.0 203.5h.6M68.0 203.5h.6M68.6 203.5h.6M72.3 203.5h.6M101.7 203.5h.6M41.6 203.6h.6M65.3 203.6h.6M116.0 203.6h.6M43.9 203.7h.6M44.2 203.7h.6M60.7 203.7h.6M70.2 203.7h.6M80.5 203.7h.6M83.0 203.7h.6M85.0 203.7h.6M88.9 203.7h.6M91.7 203.7h.6M92.1 203.7h.6M43.1 203.8h.6M44.6 203.8h.6M55.2 203.8h.6M98.1 203.8h.6M100.0 203.8h.6M65.3 203.9h.6M90.1 203.9h.6M92.6 203.9h.6M95.5 203.9h.6M43.4 204.0h.6M55.0 204.0h.6M61.3 204.0h.6M63.8 204.0h.6M68.7 204.0h.6M79.4 204.0h.6M128.6 204.0h.6M64.1 204.1h.6M69.3 204.1h.6M86.1 204.1h.6M91.3 204.1h.6M37.5 204.2h.6M40.2 204.2h.6M52.2 204.2h.6M67.6 204.2h.6M74.0 204.2h.6M81.8 204.2h.6M91.0 204.2h.6M33.7 204.3h.6M37.8 204.3h.6M62.2 204.3h.6M80.2 204.3h.6M89.7 204.3h.6M92.1 204.3h.6M63.3 204.4h.6M66.4 204.4h.6M97.3 204.4h.6M118.9 204.4h.6M38.8 204.5h.6M40.9 204.5h.6M65.2 204.5h.6M94.9 204.5h.6M52.0 204.6h.6M52.1 204.6h.6M57.5 204.6h.6M61.7 204.6h.6M64.1 204.6h.6M65.3 204.6h.6M74.2 204.6h.6M78.1 204.6h.6M80.9 204.6h.6M88.4 204.6h.6M94.6 204.6h.6M95.2 204.6h.6M109.6 204.6h.6M51.8 204.7h.6M64.7 204.7h.6M69.0 204.7h.6M79.7 204.7h.6M83.7 204.7h.6M88.9 204.7h.6M97.0 204.7h.6M40.4 204.8h.6M58.8 204.8h.6M63.1 204.8h.6M74.4 204.8h.6M88.6 204.8h.6M91.2 204.8h.6M94.1 204.9h.6M42.3 205.0h.6M55.3 205.0h.6M57.1 205.0h.6M58.4 205.0h.6M72.8 205.0h.6M96.6 205.0h.6M41.0 205.1h.6M63.5 205.1h.6M64.0 205.1h.6M85.5 205.1h.6M91.2 205.1h.6M54.1 205.2h.6M56.4 205.2h.6M58.1 205.2h.6M62.7 205.2h.6M66.3 205.2h.6M51.4 205.3h.6M65.8 205.3h.6M68.4 205.3h.6M77.7 205.3h.6M81.7 205.3h.6M91.0 205.3h.6M35.6 205.4h.6M42.3 205.4h.6M53.0 205.4h.6M83.2 205.4h.6M93.7 205.4h.6M93.8 205.4h.6M49.8 205.5h.6M60.3 205.5h.6M61.8 205.5h.6M62.0 205.5h.6M94.4 205.5h.6M33.2 205.6h.6M44.5 205.6h.6M86.6 205.6h.6M89.1 205.6h.6M93.7 205.6h.6M69.3 205.7h.6M69.7 205.7h.6M93.0 205.7h.6M46.4 205.8h.6M58.7 205.8h.6M63.1 205.8h.6M77.5 205.8h.6M83.6 205.8h.6M84.7 205.8h.6M94.6 205.8h.6M103.2 205.8h.6M36.4 205.9h.6M61.9 205.9h.6M68.9 205.9h.6M69.8 205.9h.6M71.3 205.9h.6M75.7 205.9h.6M93.5 205.9h.6M93.8 205.9h.6M96.6 205.9h.6M99.3 205.9h.6M69.6 206.0h.6M75.3 206.0h.6M84.0 206.0h.6M93.5 206.0h.6M96.2 206.0h.6M106.1 206.0h.6M35.3 206.1h.6M39.3 206.1h.6M44.4 206.1h.6M54.4 206.1h.6M63.1 206.1h.6M70.7 206.1h.6M87.7 206.1h.6M104.4 206.1h.6M64.8 206.2h.6M69.3 206.2h.6M80.0 206.2h.6M116.1 206.2h.6M49.0 206.3h.6M59.9 206.3h.6M61.2 206.3h.6M64.5 206.3h.6M95.4 206.3h.6M104.1 206.3h.6M43.7 206.4h.6M60.3 206.5h.6M61.1 206.5h.6M64.0 206.5h.6M71.0 206.5h.6M76.7 206.5h.6M84.1 206.5h.6M90.4 206.5h.6M92.3 206.5h.6M99.9 206.5h.6M53.6 206.6h.6M55.3 206.6h.6M59.2 206.6h.6M65.7 206.6h.6M71.6 206.6h.6M97.2 206.6h.6M104.7 206.6h.6M114.5 206.6h.6M38.6 206.7h.6M66.3 206.7h.6M41.0 206.8h.6M52.8 206.8h.6M58.3 206.8h.6M64.6 206.8h.6M66.4 206.8h.6M95.5 206.8h.6M96.2 206.8h.6M59.0 206.9h.6M66.6 206.9h.6M91.1 206.9h.6M40.0 207.0h.6M46.1 207.0h.6M47.3 207.0h.6M54.7 207.0h.6M62.7 207.0h.6M65.0 207.0h.6M86.0 207.0h.6M88.2 207.0h.6M92.9 207.0h.6M41.5 207.1h.6M54.7 207.1h.6M58.7 207.1h.6M59.1 207.1h.6M59.2 207.1h.6M65.1 207.1h.6M65.2 207.1h.6M66.9 207.1h.6M73.3 207.1h.6M76.0 207.1h.6M48.0 207.2h.6M53.9 207.2h.6M61.0 207.2h.6M68.2 207.2h.6M72.5 207.2h.6M91.9 207.2h.6M97.7 207.2h.6M60.5 207.3h.6M76.1 207.3h.6M86.7 207.3h.6M94.1 207.3h.6M98.0 207.3h.6M93.3 207.4h.6M44.3 207.5h.6M62.5 207.5h.6M92.1 207.5h.6M41.3 207.6h.6M45.6 207.6h.6M50.2 207.6h.6M93.3 207.6h.6M112.0 207.6h.6M32.1 207.7h.6M41.9 207.7h.6M64.3 207.7h.6M95.2 207.7h.6M58.9 207.8h.6M66.7 207.8h.6M72.9 207.8h.6M86.2 207.8h.6M89.6 207.8h.6M95.5 207.8h.6M58.3 207.9h.6M73.5 207.9h.6M74.7 207.9h.6M83.7 207.9h.6M98.2 207.9h.6M60.5 208.0h.6M63.3 208.0h.6M44.4 208.1h.6M58.6 208.1h.6M61.7 208.1h.6M73.0 208.1h.6M84.2 208.1h.6M99.6 208.1h.6M58.6 208.2h.6M59.0 208.2h.6M65.5 208.2h.6M75.9 208.2h.6M77.7 208.2h.6M89.0 208.2h.6M59.6 208.3h.6M88.7 208.3h.6M38.4 208.4h.6M64.1 208.4h.6M67.5 208.4h.6M94.3 208.4h.6M46.1 208.5h.6M62.4 208.5h.6M70.1 208.5h.6M70.2 208.5h.6M75.1 208.5h.6M98.1 208.5h.6M50.4 208.6h.6M95.7 208.6h.6M99.2 208.6h.6M48.1 208.7h.6M60.5 208.7h.6M66.1 208.7h.6M78.1 208.7h.6M89.7 208.7h.6M119.8 208.7h.6M34.2 208.8h.6M93.7 208.8h.6M98.6 208.8h.6M37.6 208.9h.6M42.0 208.9h.6M48.7 208.9h.6M67.6 208.9h.6M69.4 208.9h.6M74.1 208.9h.6M54.1 209.0h.6M93.5 209.0h.6M97.6 209.0h.6M99.7 209.0h.6M73.8 209.1h.6M87.7 209.1h.6M94.2 209.1h.6M104.8 209.1h.6M32.1 209.2h.6M47.0 209.2h.6M61.8 209.2h.6M63.9 209.2h.6M64.2 209.2h.6M78.3 209.2h.6M81.1 209.2h.6M87.8 209.2h.6M43.4 209.3h.6M54.7 209.3h.6M61.8 209.3h.6M62.1 209.3h.6M68.0 209.3h.6M70.2 209.3h.6M73.6 209.3h.6M80.6 209.3h.6M95.8 209.3h.6M36.3 209.4h.6M57.3 209.4h.6M60.3 209.4h.6M66.6 209.4h.6M96.8 209.4h.6M100.7 209.4h.6M62.3 209.5h.6M67.4 209.5h.6M84.2 209.5h.6M93.9 209.5h.6M59.6 209.6h.6M60.6 209.6h.6M60.7 209.6h.6M84.6 209.6h.6M87.1 209.6h.6M46.5 209.7h.6M53.6 209.7h.6M66.3 209.7h.6M68.3 209.7h.6M49.6 209.8h.6M49.9 209.8h.6M69.8 209.8h.6M78.8 209.8h.6M91.7 209.8h.6M95.6 209.8h.6M62.8 209.9h.6M71.1 209.9h.6M75.3 209.9h.6M81.5 209.9h.6M81.7 209.9h.6M100.5 209.9h.6M40.2 210.0h.6M45.2 210.0h.6M97.1 210.0h.6M99.5 210.0h.6M39.5 210.1h.6M62.2 210.1h.6M70.6 210.1h.6M78.9 210.1h.6M93.3 210.1h.6M96.2 210.1h.6M98.8 210.1h.6M39.4 210.2h.6M40.8 210.2h.6M91.8 210.2h.6M94.3 210.2h.6M41.4 210.3h.6M91.5 210.3h.6M95.1 210.3h.6M101.3 210.3h.6M115.9 210.3h.6M42.5 210.4h.6M64.3 210.4h.6M66.7 210.4h.6M72.5 210.4h.6M74.3 210.4h.6M87.4 210.4h.6M90.1 210.4h.6M98.0 210.4h.6M116.6 210.4h.6M35.2 210.5h.6M39.3 210.5h.6M45.5 210.5h.6M48.9 210.5h.6M49.4 210.5h.6M63.7 210.5h.6M65.1 210.5h.6M67.3 210.5h.6M68.4 210.5h.6M79.8 210.5h.6M84.7 210.5h.6M90.8 210.5h.6M93.6 210.5h.6M95.4 210.5h.6M31.3 210.6h.6M45.7 210.6h.6M49.7 210.6h.6M66.9 210.6h.6M72.2 210.6h.6M81.8 210.6h.6M71.5 210.7h.6M74.9 210.7h.6M91.5 210.7h.6M94.2 210.7h.6M97.2 210.7h.6M106.3 210.7h.6M40.5 210.8h.6M60.4 210.8h.6M62.4 210.8h.6M93.8 210.8h.6M107.4 210.8h.6M40.1 210.9h.6M58.7 210.9h.6M92.4 210.9h.6M95.6 210.9h.6M49.3 211.0h.6M53.6 211.0h.6M54.0 211.0h.6M66.4 211.0h.6M70.6 211.0h.6M92.9 211.0h.6M105.8 211.0h.6M47.1 211.1h.6M81.9 211.1h.6M87.3 211.1h.6M89.8 211.1h.6M92.1 211.1h.6M93.5 211.1h.6M98.2 211.1h.6M56.1 211.2h.6M62.9 211.2h.6M67.1 211.2h.6M81.7 211.2h.6M89.1 211.2h.6M54.6 211.3h.6M76.9 211.3h.6M93.1 211.3h.6M97.7 211.3h.6M98.5 211.3h.6M128.3 211.3h.6M42.9 211.4h.6M47.6 211.4h.6M67.4 211.4h.6M63.1 211.5h.6M70.2 211.5h.6M74.0 211.5h.6M74.7 211.5h.6M78.3 211.5h.6M79.0 211.5h.6M93.2 211.5h.6M93.4 211.5h.6M61.2 211.6h.6M64.3 211.6h.6M65.4 211.6h.6M66.2 211.6h.6M73.9 211.6h.6M74.4 211.6h.6M84.9 211.6h.6M92.7 211.6h.6M95.9 211.6h.6M40.9 211.7h.6M69.3 211.7h.6M83.4 211.7h.6M34.1 211.8h.6M34.5 211.8h.6M39.3 211.8h.6M67.9 211.8h.6M70.9 211.8h.6M72.0 211.8h.6M73.4 211.8h.6M85.0 211.8h.6M91.6 211.8h.6M99.2 211.8h.6M48.4 211.9h.6M61.7 211.9h.6M66.5 211.9h.6M69.4 211.9h.6M94.2 211.9h.6M41.2 212.0h.6M61.1 212.0h.6M61.9 212.0h.6M67.8 212.0h.6M35.2 212.1h.6M35.5 212.1h.6M45.6 212.1h.6M67.2 212.1h.6M68.4 212.1h.6M68.6 212.1h.6M76.4 212.1h.6M84.5 212.1h.6M88.8 212.1h.6M89.5 212.1h.6M90.7 212.1h.6M93.4 212.1h.6M98.9 212.1h.6M99.3 212.1h.6M105.6 212.1h.6M34.9 212.2h.6M37.0 212.2h.6M45.1 212.2h.6M63.0 212.2h.6M75.1 212.2h.6M76.4 212.2h.6M98.8 212.2h.6M56.7 212.3h.6M57.6 212.3h.6M61.9 212.3h.6M72.8 212.3h.6M73.4 212.3h.6M76.5 212.3h.6M37.5 212.4h.6M52.1 212.4h.6M69.2 212.4h.6M69.3 212.4h.6M72.3 212.4h.6M92.6 212.4h.6M102.0 212.4h.6M41.4 212.5h.6M57.4 212.5h.6M61.4 212.5h.6M74.1 212.5h.6M77.7 212.5h.6M78.3 212.5h.6M94.6 212.5h.6M32.8 212.6h.6M51.6 212.6h.6M56.4 212.6h.6M59.3 212.6h.6M68.5 212.6h.6M69.3 212.6h.6M86.0 212.6h.6M87.7 212.6h.6M90.8 212.6h.6M100.7 212.6h.6M58.9 212.7h.6M65.1 212.7h.6M65.8 212.7h.6M66.6 212.7h.6M89.8 212.7h.6M94.1 212.7h.6M119.9 212.7h.6M55.1 212.8h.6M65.5 212.8h.6M67.1 212.8h.6M90.5 212.8h.6M93.5 212.8h.6M68.3 212.9h.6M68.5 212.9h.6M75.3 212.9h.6M104.6 212.9h.6M63.2 213.0h.6M80.1 213.0h.6M85.6 213.0h.6M92.0 213.0h.6M94.8 213.0h.6M35.8 213.1h.6M36.8 213.1h.6M69.0 213.1h.6M71.5 213.1h.6M71.7 213.1h.6M79.3 213.1h.6M81.4 213.1h.6M85.0 213.1h.6M92.6 213.1h.6M94.6 213.1h.6M39.0 213.2h.6M54.7 213.2h.6M29.2 213.3h.6M61.5 213.3h.6M65.1 213.3h.6M66.9 213.3h.6M67.6 213.3h.6M71.0 213.3h.6M87.8 213.3h.6M93.1 213.3h.6M93.1 213.3h.6M93.3 213.3h.6M40.4 213.4h.6M59.7 213.4h.6M67.4 213.4h.6M69.1 213.4h.6M70.4 213.4h.6M81.9 213.4h.6M101.3 213.4h.6M118.2 213.4h.6M83.4 213.5h.6M84.0 213.5h.6M92.8 213.5h.6M94.7 213.5h.6M48.1 213.6h.6M68.0 213.6h.6M93.7 213.6h.6M93.9 213.6h.6M36.4 213.7h.6M69.0 213.7h.6M103.9 213.7h.6M105.1 213.7h.6M33.6 213.8h.6M47.7 213.8h.6M53.1 213.8h.6M55.5 213.8h.6M92.1 213.8h.6M39.6 213.9h.6M46.9 213.9h.6M59.5 213.9h.6M62.7 213.9h.6M63.6 213.9h.6M67.1 213.9h.6M75.4 213.9h.6M75.6 213.9h.6M102.2 213.9h.6M40.8 214.0h.6M48.5 214.0h.6M55.5 214.0h.6M59.0 214.0h.6M71.7 214.0h.6M76.8 214.0h.6M80.1 214.0h.6M82.3 214.0h.6M83.5 214.0h.6M96.6 214.0h.6M97.1 214.0h.6M52.0 214.1h.6M57.1 214.1h.6M57.8 214.1h.6M59.1 214.1h.6M64.6 214.1h.6M76.0 214.1h.6M78.8 214.1h.6M82.8 214.1h.6M84.1 214.1h.6M88.9 214.1h.6M54.6 214.2h.6M78.0 214.2h.6M34.2 214.3h.6M37.4 214.3h.6M48.8 214.3h.6M63.7 214.3h.6M65.4 214.3h.6M78.3 214.3h.6M83.7 214.3h.6M85.1 214.3h.6M89.7 214.3h.6M89.9 214.3h.6M91.2 214.3h.6M37.9 214.4h.6M38.7 214.4h.6M45.1 214.4h.6M50.8 214.4h.6M52.2 214.4h.6M55.0 214.4h.6M55.9 214.4h.6M59.7 214.4h.6M62.4 214.4h.6M71.2 214.4h.6M74.6 214.4h.6M91.7 214.4h.6M41.1 214.5h.6M46.1 214.5h.6M54.4 214.5h.6M55.7 214.5h.6M69.2 214.5h.6M70.2 214.5h.6M99.6 214.5h.6M64.6 214.6h.6M67.9 214.6h.6M76.6 214.6h.6M90.9 214.6h.6M104.0 214.6h.6M44.1 214.7h.6M58.0 214.7h.6M58.2 214.7h.6M71.5 214.7h.6M84.5 214.7h.6M92.7 214.7h.6M92.9 214.7h.6M94.7 214.7h.6M56.9 214.8h.6M74.2 214.8h.6M61.7 214.9h.6M66.0 214.9h.6M66.3 214.9h.6M67.2 214.9h.6M67.9 214.9h.6M89.1 214.9h.6M56.2 215.0h.6M58.8 215.0h.6M61.5 215.0h.6M62.4 215.0h.6M64.6 215.0h.6M68.0 215.0h.6M71.5 215.0h.6M74.0 215.0h.6M78.6 215.0h.6M82.4 215.0h.6M93.0 215.0h.6M99.3 215.0h.6M41.4 215.1h.6M57.3 215.1h.6M58.2 215.1h.6M66.6 215.1h.6M68.7 215.1h.6M71.5 215.1h.6M75.2 215.1h.6M76.1 215.1h.6M76.9 215.1h.6M77.5 215.1h.6M82.5 215.1h.6M94.5 215.1h.6M31.6 215.2h.6M31.6 215.2h.6M34.5 215.2h.6M50.6 215.2h.6M89.3 215.2h.6M40.8 215.3h.6M100.0 215.3h.6M40.8 215.4h.6M59.5 215.4h.6M63.1 215.4h.6M72.7 215.4h.6M87.0 215.4h.6M96.8 215.4h.6M101.2 215.4h.6M48.2 215.5h.6M62.1 215.5h.6M62.9 215.5h.6M65.0 215.5h.6M66.0 215.5h.6M74.1 215.5h.6M93.3 215.5h.6M95.2 215.5h.6M99.9 215.5h.6M128.7 215.5h.6M63.9 215.6h.6M34.2 215.7h.6M74.5 215.7h.6M86.3 215.7h.6M32.5 215.8h.6M44.5 215.8h.6M63.4 215.8h.6M70.6 215.8h.6M71.6 215.8h.6M71.8 215.8h.6M72.5 215.8h.6M100.0 215.8h.6M50.7 215.9h.6M57.8 215.9h.6M61.4 215.9h.6M62.3 215.9h.6M64.4 215.9h.6M66.0 215.9h.6M77.9 215.9h.6M90.6 215.9h.6M99.7 215.9h.6M101.7 215.9h.6M104.2 215.9h.6M29.8 216.0h.6M43.4 216.0h.6M51.6 216.0h.6M64.1 216.0h.6M68.3 216.0h.6M77.6 216.0h.6M50.7 216.1h.6M82.0 216.1h.6M91.2 216.1h.6M94.3 216.1h.6M57.2 216.2h.6M63.1 216.2h.6M78.4 216.2h.6M78.7 216.2h.6M83.5 216.2h.6M84.8 216.2h.6M95.8 216.2h.6M50.6 216.3h.6M61.3 216.3h.6M62.1 216.3h.6M76.1 216.3h.6M77.9 216.3h.6M81.6 216.3h.6M86.0 216.3h.6M88.7 216.3h.6M36.9 216.4h.6M56.9 216.4h.6M59.6 216.4h.6M68.7 216.4h.6M70.8 216.4h.6M35.9 216.5h.6M62.7 216.5h.6M67.9 216.5h.6M70.0 216.5h.6M77.1 216.5h.6M86.6 216.5h.6M43.7 216.6h.6M63.5 216.6h.6M73.3 216.6h.6M83.3 216.6h.6M84.1 216.6h.6M94.1 216.6h.6M46.0 216.7h.6M67.8 216.7h.6M71.0 216.7h.6M71.3 216.7h.6M75.4 216.7h.6M78.5 216.7h.6M81.1 216.7h.6M81.6 216.7h.6M50.3 216.8h.6M63.5 216.8h.6M65.1 216.8h.6M72.3 216.8h.6M80.9 216.8h.6M81.9 216.8h.6M96.5 216.8h.6M50.3 216.9h.6M55.4 216.9h.6M61.1 216.9h.6M62.7 216.9h.6M69.4 216.9h.6M82.9 216.9h.6M94.5 216.9h.6M35.9 217.0h.6M56.7 217.0h.6M57.7 217.0h.6M67.2 217.0h.6M73.7 217.0h.6M92.0 217.0h.6M100.4 217.0h.6M46.2 217.1h.6M50.7 217.1h.6M56.7 217.1h.6M64.0 217.1h.6M75.8 217.1h.6M91.1 217.1h.6M92.1 217.1h.6M92.3 217.1h.6M93.6 217.1h.6M94.0 217.1h.6M74.9 217.2h.6M80.1 217.2h.6M91.6 217.2h.6M91.6 217.2h.6M39.8 217.3h.6M59.7 217.3h.6M62.3 217.3h.6M63.0 217.3h.6M63.4 217.3h.6M65.1 217.3h.6M67.5 217.3h.6M68.0 217.3h.6M74.1 217.3h.6M88.4 217.3h.6M103.1 217.3h.6M45.9 217.4h.6M63.3 217.4h.6M70.1 217.4h.6M72.5 217.4h.6M88.9 217.4h.6M41.6 217.5h.6M42.3 217.5h.6M56.5 217.5h.6M56.8 217.5h.6M57.2 217.5h.6M58.5 217.5h.6M65.6 217.5h.6M70.4 217.5h.6M71.2 217.5h.6M90.5 217.5h.6M92.9 217.5h.6M93.1 217.5h.6M30.0 217.6h.6M52.9 217.6h.6M56.1 217.6h.6M63.9 217.6h.6M71.9 217.6h.6M72.1 217.6h.6M35.0 217.7h.6M39.5 217.7h.6M55.8 217.7h.6M59.8 217.7h.6M72.6 217.7h.6M88.6 217.7h.6M89.4 217.7h.6M94.6 217.7h.6M34.5 217.8h.6M44.7 217.8h.6M71.8 217.8h.6M77.1 217.8h.6M83.6 217.8h.6M92.2 217.8h.6M92.5 217.8h.6M92.9 217.8h.6M42.2 217.9h.6M46.4 217.9h.6M48.7 217.9h.6M60.6 217.9h.6M64.0 217.9h.6M79.7 217.9h.6M34.0 218.0h.6M41.1 218.0h.6M53.2 218.0h.6M65.0 218.0h.6M67.7 218.0h.6M75.7 218.0h.6M77.2 218.0h.6M79.2 218.0h.6M83.3 218.0h.6M92.9 218.0h.6M43.7 218.1h.6M46.8 218.1h.6M52.2 218.1h.6M52.7 218.1h.6M64.4 218.1h.6M69.4 218.1h.6M78.6 218.1h.6M80.4 218.1h.6M89.9 218.1h.6M94.3 218.1h.6M95.7 218.1h.6M45.0 218.2h.6M55.6 218.2h.6M58.1 218.2h.6M59.4 218.2h.6M61.3 218.2h.6M65.1 218.2h.6M81.6 218.2h.6M87.3 218.2h.6M87.8 218.2h.6M36.4 218.4h.6M42.8 218.4h.6M65.0 218.4h.6M68.0 218.4h.6M93.2 218.4h.6M93.8 218.4h.6M71.8 218.5h.6M73.5 218.5h.6M77.1 218.5h.6M78.7 218.5h.6M82.9 218.5h.6M90.7 218.5h.6M91.9 218.5h.6M91.9 218.5h.6M38.3 218.6h.6M39.8 218.6h.6M49.7 218.6h.6M50.2 218.6h.6M56.2 218.6h.6M57.9 218.6h.6M64.9 218.6h.6M67.3 218.6h.6M68.5 218.6h.6M75.2 218.6h.6M81.3 218.6h.6M103.4 218.6h.6M108.3 218.6h.6M65.1 218.7h.6M65.7 218.7h.6M76.0 218.7h.6M82.1 218.7h.6M82.3 218.7h.6M84.1 218.7h.6M91.6 218.7h.6M118.2 218.7h.6M58.1 218.8h.6M63.3 218.8h.6M64.8 218.8h.6M67.2 218.8h.6M75.2 218.8h.6M78.6 218.8h.6M83.5 218.8h.6M92.1 218.8h.6M56.0 218.9h.6M64.8 218.9h.6M69.2 218.9h.6M81.1 218.9h.6M82.9 218.9h.6M83.1 218.9h.6M101.7 218.9h.6M59.5 219.0h.6M66.2 219.0h.6M66.7 219.0h.6M74.4 219.0h.6M81.2 219.0h.6M85.5 219.0h.6M33.9 219.1h.6M36.5 219.1h.6M90.0 219.1h.6M90.5 219.1h.6M92.1 219.1h.6M95.5 219.1h.6M95.8 219.1h.6M115.1 219.1h.6M72.9 219.2h.6M75.7 219.2h.6M82.7 219.2h.6M86.6 219.2h.6M91.8 219.2h.6M97.9 219.2h.6M42.3 219.3h.6M57.6 219.3h.6M60.4 219.3h.6M66.5 219.3h.6M68.0 219.3h.6M68.3 219.3h.6M70.2 219.3h.6M76.7 219.3h.6M86.6 219.3h.6M92.5 219.3h.6M36.0 219.4h.6M60.5 219.4h.6M62.6 219.4h.6M68.8 219.4h.6M70.9 219.4h.6M84.1 219.4h.6M89.5 219.4h.6M53.9 219.5h.6M68.2 219.5h.6M75.8 219.5h.6M76.2 219.5h.6M84.9 219.5h.6M91.8 219.5h.6M105.5 219.5h.6M31.5 219.6h.6M44.3 219.6h.6M55.1 219.6h.6M55.8 219.6h.6M56.3 219.6h.6M66.3 219.6h.6M70.9 219.6h.6M71.4 219.6h.6M95.9 219.6h.6M97.7 219.6h.6M98.2 219.6h.6M106.3 219.6h.6M37.1 219.7h.6M43.3 219.7h.6M62.3 219.7h.6M63.1 219.7h.6M64.6 219.7h.6M71.0 219.7h.6M80.7 219.7h.6M85.2 219.7h.6M104.8 219.7h.6M65.8 219.8h.6M66.7 219.8h.6M72.7 219.8h.6M77.1 219.8h.6M91.7 219.8h.6M51.8 219.9h.6M61.8 219.9h.6M64.4 219.9h.6M70.3 219.9h.6M76.1 219.9h.6M78.5 219.9h.6M80.0 219.9h.6M84.2 219.9h.6M88.3 219.9h.6M100.0 219.9h.6M54.4 220.0h.6M69.1 220.0h.6M69.1 220.0h.6M90.7 220.0h.6M94.2 220.0h.6M53.5 220.1h.6M67.1 220.1h.6M71.0 220.1h.6M78.6 220.1h.6M80.9 220.1h.6M89.1 220.1h.6M94.7 220.1h.6M34.0 220.2h.6M52.9 220.2h.6M57.3 220.2h.6M61.7 220.2h.6M65.2 220.2h.6M65.5 220.2h.6M69.7 220.2h.6M72.7 220.2h.6M74.6 220.2h.6M80.2 220.2h.6M83.8 220.2h.6M47.9 220.3h.6M61.7 220.3h.6M66.0 220.3h.6M70.3 220.3h.6M70.8 220.3h.6M75.8 220.3h.6M81.4 220.3h.6M85.6 220.3h.6M88.4 220.3h.6M40.8 220.4h.6M53.4 220.4h.6M56.8 220.4h.6M64.1 220.4h.6M68.6 220.4h.6M69.0 220.4h.6M69.1 220.4h.6M70.1 220.4h.6M78.4 220.4h.6M83.2 220.4h.6M84.1 220.4h.6M87.1 220.4h.6M90.5 220.4h.6M91.3 220.4h.6M92.8 220.4h.6M93.7 220.4h.6M96.0 220.4h.6M96.2 220.4h.6M128.2 220.4h.6M51.3 220.5h.6M53.9 220.5h.6M56.1 220.5h.6M59.1 220.5h.6M60.7 220.5h.6M69.0 220.5h.6M69.8 220.5h.6M79.6 220.5h.6M86.6 220.5h.6M91.8 220.5h.6M94.6 220.5h.6M38.4 220.6h.6M47.5 220.6h.6M47.8 220.6h.6M62.6 220.6h.6M64.1 220.6h.6M64.4 220.6h.6M65.9 220.6h.6M66.8 220.6h.6M68.3 220.6h.6M68.9 220.6h.6M72.8 220.6h.6M74.8 220.6h.6M86.4 220.6h.6M86.5 220.6h.6M93.1 220.6h.6M33.0 220.7h.6M55.1 220.7h.6M57.6 220.7h.6M72.8 220.7h.6M77.3 220.7h.6M84.1 220.7h.6M88.9 220.7h.6M89.6 220.7h.6M98.7 220.7h.6M31.9 220.8h.6M38.3 220.8h.6M51.1 220.8h.6M63.4 220.8h.6M70.4 220.8h.6M77.6 220.8h.6M78.3 220.8h.6M79.8 220.8h.6M80.2 220.8h.6M83.0 220.8h.6M94.3 220.8h.6M102.8 220.8h.6M106.4 220.8h.6M34.7 220.9h.6M51.8 220.9h.6M61.6 220.9h.6M71.3 220.9h.6M81.1 220.9h.6M81.8 220.9h.6M92.4 220.9h.6M40.3 221.0h.6M53.5 221.0h.6M64.3 221.0h.6M68.6 221.0h.6M74.7 221.0h.6M76.5 221.0h.6M83.2 221.0h.6M85.9 221.0h.6M36.9 221.1h.6M52.6 221.1h.6M52.9 221.1h.6M58.4 221.1h.6M59.0 221.1h.6M59.3 221.1h.6M69.6 221.1h.6M75.5 221.1h.6M88.7 221.1h.6M95.1 221.1h.6M51.1 221.2h.6M52.5 221.2h.6M65.9 221.2h.6M68.8 221.2h.6M85.4 221.2h.6M86.0 221.2h.6M90.0 221.2h.6M40.6 221.3h.6M42.4 221.3h.6M46.5 221.3h.6M64.2 221.3h.6M74.8 221.3h.6M85.3 221.3h.6M35.9 221.4h.6M44.1 221.4h.6M49.3 221.4h.6M55.3 221.4h.6M59.8 221.4h.6M61.8 221.4h.6M66.8 221.4h.6M81.8 221.4h.6M86.1 221.4h.6M93.5 221.4h.6M46.4 221.5h.6M48.4 221.5h.6M60.9 221.5h.6M64.5 221.5h.6M70.3 221.5h.6M80.3 221.5h.6M85.9 221.5h.6M92.2 221.5h.6M94.2 221.5h.6M95.0 221.5h.6M104.2 221.5h.6M40.5 221.6h.6M64.5 221.6h.6M79.6 221.6h.6M88.4 221.6h.6M36.8 221.7h.6M59.5 221.7h.6M60.3 221.7h.6M61.1 221.7h.6M61.3 221.7h.6M64.1 221.7h.6M73.5 221.7h.6M73.6 221.7h.6M80.9 221.7h.6M95.7 221.7h.6M95.9 221.7h.6M39.9 221.8h.6M47.7 221.8h.6M52.9 221.8h.6M64.8 221.8h.6M76.1 221.8h.6M94.4 221.8h.6M107.4 221.8h.6M117.4 221.8h.6M37.0 221.9h.6M50.7 221.9h.6M54.4 221.9h.6M55.8 221.9h.6M58.8 221.9h.6M63.3 221.9h.6M66.6 221.9h.6M74.0 221.9h.6M82.8 221.9h.6M86.0 221.9h.6M89.0 221.9h.6M90.1 221.9h.6M90.8 221.9h.6M90.9 221.9h.6M91.1 221.9h.6M91.2 221.9h.6M40.5 222.0h.6M55.4 222.0h.6M57.2 222.0h.6M59.1 222.0h.6M84.1 222.0h.6M91.4 222.0h.6M93.2 222.0h.6M100.8 222.0h.6M119.8 222.0h.6M30.9 222.1h.6M51.3 222.1h.6M64.5 222.1h.6M66.9 222.1h.6M86.9 222.1h.6M88.6 222.1h.6M94.5 222.1h.6M102.6 222.1h.6M36.0 222.2h.6M50.2 222.2h.6M55.0 222.2h.6M58.3 222.2h.6M63.2 222.2h.6M65.4 222.2h.6M65.4 222.2h.6M72.9 222.2h.6M74.3 222.2h.6M90.3 222.2h.6M90.5 222.2h.6M105.5 222.2h.6M110.3 222.2h.6M37.7 222.3h.6M39.3 222.3h.6M41.7 222.3h.6M51.5 222.3h.6M55.8 222.3h.6M58.1 222.3h.6M63.0 222.3h.6M67.0 222.3h.6M69.3 222.3h.6M75.3 222.3h.6M80.3 222.3h.6M82.3 222.3h.6M92.7 222.3h.6M97.6 222.3h.6M101.0 222.3h.6M104.4 222.3h.6M113.2 222.3h.6M56.6 222.4h.6M56.9 222.4h.6M57.2 222.4h.6M57.4 222.4h.6M61.3 222.4h.6M61.8 222.4h.6M64.6 222.4h.6M67.5 222.4h.6M68.8 222.4h.6M81.4 222.4h.6M82.2 222.4h.6M92.3 222.4h.6M94.6 222.4h.6M36.3 222.5h.6M56.8 222.5h.6M60.6 222.5h.6M63.0 222.5h.6M68.8 222.5h.6M71.7 222.5h.6M74.1 222.5h.6M79.9 222.5h.6M105.1 222.5h.6M118.2 222.5h.6M55.1 222.6h.6M55.1 222.6h.6M55.4 222.6h.6M61.6 222.6h.6M63.5 222.6h.6M71.1 222.6h.6M73.7 222.6h.6M80.9 222.6h.6M87.4 222.6h.6M95.9 222.6h.6M39.8 222.7h.6M42.6 222.7h.6M48.8 222.7h.6M48.8 222.7h.6M54.1 222.7h.6M77.7 222.7h.6M85.5 222.7h.6M86.6 222.7h.6M89.0 222.7h.6M91.6 222.7h.6M100.8 222.7h.6M103.8 222.7h.6M46.4 222.8h.6M52.2 222.8h.6M59.2 222.8h.6M63.2 222.8h.6M68.8 222.8h.6M78.6 222.8h.6M79.0 222.8h.6M81.0 222.8h.6M82.0 222.8h.6M85.6 222.8h.6M90.7 222.8h.6M98.9 222.8h.6M102.1 222.8h.6M51.8 222.9h.6M59.7 222.9h.6M65.3 222.9h.6M66.2 222.9h.6M66.5 222.9h.6M75.7 222.9h.6M77.5 222.9h.6M90.6 222.9h.6M96.2 222.9h.6M104.2 222.9h.6M50.2 223.0h.6M50.4 223.0h.6M50.7 223.0h.6M55.0 223.0h.6M58.0 223.0h.6M58.8 223.0h.6M65.0 223.0h.6M65.6 223.0h.6M69.7 223.0h.6M74.0 223.0h.6M74.0 223.0h.6M77.2 223.0h.6M97.4 223.0h.6M39.4 223.1h.6M57.9 223.1h.6M64.4 223.1h.6M67.2 223.1h.6M70.7 223.1h.6M71.4 223.1h.6M84.7 223.1h.6M84.9 223.1h.6M90.1 223.1h.6M96.9 223.1h.6M56.9 223.2h.6M61.2 223.2h.6M61.5 223.2h.6M82.2 223.2h.6M84.1 223.2h.6M93.6 223.2h.6M102.9 223.2h.6M55.5 223.3h.6M57.8 223.3h.6M59.9 223.3h.6M67.3 223.3h.6M68.6 223.3h.6M72.5 223.3h.6M80.8 223.3h.6M90.6 223.3h.6M90.9 223.3h.6M92.6 223.3h.6M36.9 223.4h.6M44.6 223.4h.6M50.3 223.4h.6M50.7 223.4h.6M51.8 223.4h.6M57.3 223.4h.6M70.6 223.4h.6M79.1 223.4h.6M80.6 223.4h.6M92.3 223.4h.6M94.4 223.4h.6M105.4 223.4h.6M49.2 223.5h.6M49.4 223.5h.6M52.0 223.5h.6M55.7 223.5h.6M56.2 223.5h.6M58.9 223.5h.6M59.7 223.5h.6M60.9 223.5h.6M62.4 223.5h.6M87.8 223.5h.6M38.1 223.6h.6M44.2 223.6h.6M47.4 223.6h.6M47.8 223.6h.6M52.8 223.6h.6M64.0 223.6h.6M64.2 223.6h.6M68.8 223.6h.6M72.2 223.6h.6M80.2 223.6h.6M86.4 223.6h.6M89.6 223.6h.6M91.6 223.6h.6M96.8 223.6h.6M115.3 223.6h.6M127.6 223.6h.6M35.3 223.7h.6M37.4 223.7h.6M66.2 223.7h.6M86.8 223.7h.6M90.6 223.7h.6M92.4 223.7h.6M99.7 223.7h.6M133.8 223.7h.6M39.8 223.8h.6M50.6 223.8h.6M63.1 223.8h.6M63.6 223.8h.6M72.3 223.8h.6M77.2 223.8h.6M37.1 223.9h.6M46.1 223.9h.6M55.6 223.9h.6M62.8 223.9h.6M69.0 223.9h.6M70.0 223.9h.6M71.3 223.9h.6M73.5 223.9h.6M77.6 223.9h.6M79.2 223.9h.6M92.3 223.9h.6M38.0 224.0h.6M57.4 224.0h.6M64.8 224.0h.6M67.3 224.0h.6M82.8 224.0h.6M85.0 224.0h.6M86.6 224.0h.6M88.1 224.0h.6M63.3 224.1h.6M65.8 224.1h.6M69.8 224.1h.6M72.8 224.1h.6M72.9 224.1h.6M85.4 224.1h.6M87.1 224.1h.6M102.5 224.1h.6M56.2 224.2h.6M60.9 224.2h.6M65.6 224.2h.6M67.0 224.2h.6M69.7 224.2h.6M75.9 224.2h.6M80.1 224.2h.6M83.5 224.2h.6M96.7 224.2h.6M36.1 224.3h.6M67.9 224.3h.6M71.3 224.3h.6M83.1 224.3h.6M84.0 224.3h.6M91.6 224.3h.6M103.9 224.3h.6M56.0 224.4h.6M58.7 224.4h.6M62.4 224.4h.6M74.3 224.4h.6M75.7 224.4h.6M75.9 224.4h.6M79.2 224.4h.6M83.8 224.4h.6M90.6 224.4h.6M96.2 224.4h.6M42.8 224.5h.6M52.6 224.5h.6M58.5 224.5h.6M75.1 224.5h.6M86.3 224.5h.6M107.5 224.5h.6M55.3 224.6h.6M62.5 224.6h.6M66.5 224.6h.6M68.4 224.6h.6M75.7 224.6h.6M81.4 224.6h.6M82.1 224.6h.6M94.3 224.6h.6M95.2 224.6h.6M115.8 224.6h.6M63.7 224.7h.6M66.6 224.7h.6M69.6 224.7h.6M69.8 224.7h.6M74.7 224.7h.6M75.5 224.7h.6M80.9 224.7h.6M82.0 224.7h.6M86.2 224.7h.6M33.6 224.8h.6M47.0 224.8h.6M60.2 224.8h.6M62.0 224.8h.6M66.3 224.8h.6M78.9 224.8h.6M81.6 224.8h.6M84.3 224.8h.6M90.0 224.8h.6M38.5 224.9h.6M60.2 224.9h.6M68.5 224.9h.6M69.4 224.9h.6M69.5 224.9h.6M70.7 224.9h.6M72.0 224.9h.6M74.0 224.9h.6M78.6 224.9h.6M80.9 224.9h.6M83.1 224.9h.6M85.0 224.9h.6M89.5 224.9h.6M92.7 224.9h.6M94.8 224.9h.6M97.5 224.9h.6M97.8 224.9h.6M41.0 225.0h.6M55.1 225.0h.6M56.2 225.0h.6M72.4 225.0h.6M73.4 225.0h.6M83.2 225.0h.6M86.9 225.0h.6M96.0 225.0h.6M41.7 225.1h.6M48.8 225.1h.6M52.2 225.1h.6M58.7 225.1h.6M63.4 225.1h.6M67.4 225.1h.6M74.3 225.1h.6M78.5 225.1h.6M83.4 225.1h.6M90.5 225.1h.6M91.2 225.1h.6M92.5 225.1h.6M100.4 225.1h.6M33.8 225.2h.6M47.5 225.2h.6M59.2 225.2h.6M60.0 225.2h.6M60.9 225.2h.6M65.0 225.2h.6M73.2 225.2h.6M74.1 225.2h.6M75.6 225.2h.6M75.6 225.2h.6M77.0 225.2h.6M82.8 225.2h.6M83.0 225.2h.6M93.2 225.2h.6M98.4 225.2h.6M118.4 225.2h.6M30.8 225.3h.6M39.2 225.3h.6M52.4 225.3h.6M56.7 225.3h.6M57.0 225.3h.6M57.1 225.3h.6M61.5 225.3h.6M64.1 225.3h.6M85.5 225.3h.6M87.4 225.3h.6M91.2 225.3h.6M93.2 225.4h.6M94.7 225.4h.6M95.2 225.4h.6M98.3 225.4h.6M39.2 225.5h.6M42.4 225.5h.6M55.8 225.5h.6M59.3 225.5h.6M62.8 225.5h.6M78.3 225.5h.6M80.3 225.5h.6M82.3 225.5h.6M84.2 225.5h.6M85.6 225.5h.6M91.1 225.5h.6M93.3 225.5h.6M93.8 225.5h.6M100.2 225.5h.6M57.6 225.6h.6M58.6 225.6h.6M67.2 225.6h.6M72.2 225.6h.6M75.1 225.6h.6M77.0 225.6h.6M77.0 225.6h.6M87.0 225.6h.6M92.1 225.6h.6M92.4 225.6h.6M92.4 225.6h.6M93.6 225.6h.6M94.3 225.6h.6M41.2 225.7h.6M49.0 225.7h.6M59.8 225.7h.6M71.2 225.7h.6M83.2 225.7h.6M84.2 225.7h.6M93.5 225.7h.6M101.3 225.7h.6M36.8 225.8h.6M56.8 225.8h.6M57.0 225.8h.6M63.7 225.8h.6M64.0 225.8h.6M65.8 225.8h.6M68.8 225.8h.6M73.0 225.8h.6M40.6 225.9h.6M63.5 225.9h.6M73.2 225.9h.6M78.5 225.9h.6M80.7 225.9h.6M84.1 225.9h.6M86.1 225.9h.6M90.4 225.9h.6M102.2 225.9h.6M55.0 226.0h.6M56.1 226.0h.6M57.0 226.0h.6M63.5 226.0h.6M69.3 226.0h.6M71.4 226.0h.6M72.2 226.0h.6M73.3 226.0h.6M74.5 226.0h.6M82.3 226.0h.6M90.4 226.0h.6M90.6 226.0h.6M101.0 226.0h.6M30.9 226.1h.6M35.3 226.1h.6M46.1 226.1h.6M54.8 226.1h.6M55.3 226.1h.6M57.9 226.1h.6M66.7 226.1h.6M70.4 226.1h.6M75.1 226.1h.6M90.3 226.1h.6M91.9 226.1h.6M93.4 226.1h.6M99.6 226.1h.6M33.7 226.2h.6M42.3 226.2h.6M43.0 226.2h.6M43.6 226.2h.6M47.9 226.2h.6M72.7 226.2h.6M75.4 226.2h.6M83.7 226.2h.6M86.6 226.2h.6M90.1 226.2h.6M33.4 226.3h.6M40.6 226.3h.6M59.7 226.3h.6M62.5 226.3h.6M65.3 226.3h.6M66.5 226.3h.6M68.0 226.3h.6M70.1 226.3h.6M47.2 226.4h.6M49.2 226.4h.6M53.7 226.4h.6M58.5 226.4h.6M59.2 226.4h.6M61.5 226.4h.6M63.3 226.4h.6M64.1 226.4h.6M65.3 226.4h.6M70.1 226.4h.6M73.7 226.4h.6M74.5 226.4h.6M79.3 226.4h.6M85.4 226.4h.6M107.4 226.4h.6M45.2 226.5h.6M61.4 226.5h.6M61.9 226.5h.6M68.1 226.5h.6M80.2 226.5h.6M82.9 226.5h.6M87.3 226.5h.6M89.3 226.5h.6M93.6 226.5h.6M47.2 226.6h.6M55.9 226.6h.6M59.9 226.6h.6M64.2 226.6h.6M64.5 226.6h.6M65.9 226.6h.6M66.3 226.6h.6M70.6 226.6h.6M70.8 226.6h.6M71.2 226.6h.6M77.6 226.6h.6M86.3 226.6h.6M86.5 226.6h.6M90.7 226.6h.6M103.2 226.6h.6M51.4 226.7h.6M54.1 226.7h.6M59.3 226.7h.6M62.6 226.7h.6M65.4 226.7h.6M70.4 226.7h.6M71.7 226.7h.6M79.1 226.7h.6M86.0 226.7h.6M60.0 226.8h.6M77.5 226.8h.6M78.9 226.8h.6M96.9 226.8h.6M100.7 226.8h.6M54.0 226.9h.6M57.0 226.9h.6M57.3 226.9h.6M57.9 226.9h.6M64.0 226.9h.6M70.5 226.9h.6M71.1 226.9h.6M71.9 226.9h.6M72.7 226.9h.6M73.0 226.9h.6M86.7 226.9h.6M90.0 226.9h.6M51.0 227.0h.6M61.6 227.0h.6M61.6 227.0h.6M69.1 227.0h.6M69.5 227.0h.6M71.7 227.0h.6M76.7 227.0h.6M81.8 227.0h.6M96.7 227.0h.6M46.9 227.1h.6M66.2 227.1h.6M68.4 227.1h.6M79.2 227.1h.6M84.9 227.1h.6M88.8 227.1h.6M95.5 227.1h.6M41.7 227.2h.6M43.0 227.2h.6M49.6 227.2h.6M52.6 227.2h.6M65.8 227.2h.6M72.1 227.2h.6M81.1 227.2h.6M85.3 227.2h.6M85.6 227.2h.6M86.3 227.2h.6M96.2 227.2h.6M41.5 227.3h.6M52.2 227.3h.6M62.1 227.3h.6M62.8 227.3h.6M68.8 227.3h.6M72.7 227.3h.6M73.1 227.3h.6M75.3 227.3h.6M79.1 227.3h.6M85.6 227.3h.6M87.9 227.3h.6M101.7 227.3h.6M52.2 227.4h.6M62.5 227.4h.6M67.5 227.4h.6M69.2 227.4h.6M87.1 227.4h.6M90.3 227.4h.6M106.4 227.4h.6M41.2 227.5h.6M49.7 227.5h.6M57.3 227.5h.6M58.0 227.5h.6M63.5 227.5h.6M64.5 227.5h.6M66.4 227.5h.6M69.6 227.5h.6M70.1 227.5h.6M70.7 227.5h.6M71.9 227.5h.6M81.2 227.5h.6M81.3 227.5h.6M86.4 227.5h.6M87.4 227.5h.6M33.6 227.6h.6M36.8 227.6h.6M43.0 227.6h.6M55.7 227.6h.6M68.1 227.6h.6M74.4 227.6h.6M76.4 227.6h.6M81.0 227.6h.6M83.7 227.6h.6M85.4 227.6h.6M93.2 227.6h.6M93.7 227.6h.6M101.8 227.6h.6M40.5 227.7h.6M45.1 227.7h.6M51.2 227.7h.6M75.3 227.7h.6M76.8 227.7h.6M82.2 227.7h.6M82.4 227.7h.6M84.0 227.7h.6M85.8 227.7h.6M57.3 227.8h.6M61.4 227.8h.6M66.2 227.8h.6M70.7 227.8h.6M81.6 227.8h.6M51.2 227.9h.6M66.0 227.9h.6M79.9 227.9h.6M82.7 227.9h.6M88.5 227.9h.6M94.0 227.9h.6M46.9 228.0h.6M82.1 228.0h.6M85.3 228.0h.6M89.6 228.0h.6M51.4 228.1h.6M56.0 228.1h.6M65.5 228.1h.6M68.5 228.1h.6M69.3 228.1h.6M69.7 228.1h.6M73.6 228.1h.6M74.3 228.1h.6M80.6 228.1h.6M92.9 228.1h.6M95.7 228.1h.6M57.2 228.2h.6M58.0 228.2h.6M60.1 228.2h.6M61.4 228.2h.6M68.6 228.2h.6M69.4 228.2h.6M72.1 228.2h.6M82.1 228.2h.6M93.5 228.2h.6M99.3 228.2h.6M35.3 228.3h.6M43.4 228.3h.6M60.3 228.3h.6M61.9 228.3h.6M66.7 228.3h.6M78.0 228.3h.6M85.8 228.3h.6M36.5 228.4h.6M41.4 228.4h.6M49.3 228.4h.6M75.1 228.4h.6M79.3 228.4h.6M86.1 228.4h.6M92.5 228.4h.6M95.4 228.4h.6M100.7 228.4h.6M116.6 228.4h.6M38.3 228.5h.6M43.0 228.5h.6M65.2 228.5h.6M67.7 228.5h.6M72.2 228.5h.6M85.5 228.5h.6M85.9 228.5h.6M93.3 228.5h.6M32.9 228.6h.6M55.4 228.6h.6M59.9 228.6h.6M67.8 228.6h.6M68.0 228.6h.6M69.7 228.6h.6M73.5 228.6h.6M78.6 228.6h.6M80.9 228.6h.6M82.0 228.6h.6M82.6 228.6h.6M87.4 228.6h.6M90.4 228.6h.6M55.6 228.7h.6M60.7 228.7h.6M70.3 228.7h.6M74.7 228.7h.6M83.6 228.7h.6M94.7 228.7h.6M97.8 228.7h.6M58.0 228.8h.6M58.1 228.8h.6M60.3 228.8h.6M61.3 228.8h.6M63.5 228.8h.6M67.1 228.8h.6M67.8 228.8h.6M69.8 228.8h.6M73.9 228.8h.6M78.2 228.8h.6M40.5 228.9h.6M51.4 228.9h.6M58.9 228.9h.6M61.8 228.9h.6M74.9 228.9h.6M104.8 228.9h.6M54.9 229.0h.6M63.0 229.0h.6M64.8 229.0h.6M68.2 229.0h.6M69.4 229.0h.6M52.6 229.1h.6M59.0 229.1h.6M59.2 229.1h.6M68.6 229.1h.6M69.7 229.1h.6M71.5 229.1h.6M71.6 229.1h.6M73.2 229.1h.6M80.4 229.1h.6M80.7 229.1h.6M85.4 229.1h.6M87.1 229.1h.6M90.1 229.1h.6M98.3 229.1h.6M49.1 229.2h.6M59.3 229.2h.6M66.2 229.2h.6M66.5 229.2h.6M74.6 229.2h.6M80.6 229.2h.6M90.0 229.2h.6M35.2 229.3h.6M67.0 229.3h.6M89.4 229.3h.6M42.5 229.4h.6M46.9 229.4h.6M53.5 229.4h.6M56.1 229.4h.6M63.7 229.4h.6M67.6 229.4h.6M71.7 229.4h.6M78.7 229.4h.6M83.1 229.4h.6M83.8 229.4h.6M85.0 229.4h.6M31.9 229.5h.6M57.5 229.5h.6M57.6 229.5h.6M60.0 229.5h.6M61.2 229.5h.6M66.0 229.5h.6M70.6 229.5h.6M71.3 229.5h.6M72.7 229.5h.6M80.8 229.5h.6M90.9 229.5h.6M91.0 229.5h.6M33.3 229.6h.6M53.7 229.6h.6M63.6 229.6h.6M69.3 229.6h.6M69.3 229.6h.6M86.0 229.6h.6M86.1 229.6h.6M43.1 229.7h.6M58.4 229.7h.6M60.5 229.7h.6M63.8 229.7h.6M65.7 229.7h.6M70.5 229.7h.6M72.3 229.7h.6M75.2 229.7h.6M78.2 229.7h.6M80.4 229.7h.6M92.2 229.7h.6M46.3 229.8h.6M47.9 229.8h.6M52.3 229.8h.6M65.0 229.8h.6M71.6 229.8h.6M99.7 229.8h.6M64.1 229.9h.6M64.3 229.9h.6M72.0 229.9h.6M73.5 229.9h.6M80.6 229.9h.6M83.3 229.9h.6M83.4 229.9h.6M31.8 230.0h.6M49.9 230.0h.6M55.3 230.0h.6M59.7 230.0h.6M62.1 230.0h.6M66.5 230.0h.6M82.9 230.0h.6M84.9 230.0h.6M88.4 230.0h.6M95.3 230.0h.6M109.6 230.0h.6M40.3 230.1h.6M53.0 230.1h.6M59.9 230.1h.6M62.0 230.1h.6M65.2 230.1h.6M66.7 230.1h.6M71.0 230.1h.6M84.9 230.1h.6M88.0 230.1h.6M90.8 230.1h.6M93.3 230.1h.6M41.4 230.2h.6M56.7 230.2h.6M63.5 230.2h.6M63.8 230.2h.6M65.3 230.2h.6M74.4 230.2h.6M78.3 230.2h.6M85.6 230.2h.6M86.6 230.2h.6M88.3 230.2h.6M88.8 230.2h.6M89.7 230.2h.6M91.5 230.2h.6M91.8 230.2h.6M99.1 230.2h.6M46.8 230.3h.6M50.3 230.3h.6M56.8 230.3h.6M57.9 230.3h.6M69.5 230.3h.6M76.2 230.3h.6M76.4 230.3h.6M84.7 230.3h.6M86.7 230.3h.6M87.4 230.3h.6M87.7 230.3h.6M42.9 230.4h.6M45.7 230.4h.6M54.6 230.4h.6M66.9 230.4h.6M68.3 230.4h.6M73.2 230.4h.6M44.8 230.5h.6M61.7 230.5h.6M65.5 230.5h.6M67.6 230.5h.6M71.3 230.5h.6M72.0 230.5h.6M72.4 230.5h.6M73.6 230.5h.6M80.0 230.5h.6M82.2 230.5h.6M83.8 230.5h.6M90.5 230.5h.6M92.3 230.5h.6M48.6 230.6h.6M52.9 230.6h.6M56.4 230.6h.6M58.9 230.6h.6M59.3 230.6h.6M67.0 230.6h.6M73.3 230.6h.6M74.0 230.6h.6M79.2 230.6h.6M79.3 230.6h.6M86.9 230.6h.6M102.3 230.6h.6M45.7 230.7h.6M59.2 230.7h.6M63.0 230.7h.6M65.8 230.7h.6M66.3 230.7h.6M74.9 230.7h.6M79.6 230.7h.6M80.3 230.7h.6M98.4 230.7h.6M104.7 230.7h.6M126.3 230.7h.6M69.0 230.8h.6M70.4 230.8h.6M71.9 230.8h.6M72.4 230.8h.6M82.1 230.8h.6M85.7 230.8h.6M40.7 230.9h.6M60.2 230.9h.6M68.8 230.9h.6M71.3 230.9h.6M73.2 230.9h.6M80.6 230.9h.6M56.7 231.0h.6M61.6 231.0h.6M65.6 231.0h.6M69.1 231.0h.6M73.5 231.0h.6M85.0 231.0h.6M56.0 231.1h.6M63.5 231.1h.6M64.2 231.1h.6M69.0 231.1h.6M72.4 231.1h.6M92.5 231.1h.6M93.2 231.1h.6M94.8 231.1h.6M46.5 231.2h.6M64.2 231.2h.6M65.1 231.2h.6M69.3 231.2h.6M77.2 231.2h.6M89.9 231.2h.6M68.1 231.3h.6M69.0 231.3h.6M72.3 231.3h.6M73.0 231.3h.6M75.3 231.3h.6M91.6 231.3h.6M70.9 231.4h.6M79.2 231.4h.6M113.2 231.4h.6M36.3 231.5h.6M41.3 231.5h.6M43.3 231.5h.6M46.3 231.5h.6M47.8 231.5h.6M63.2 231.5h.6M65.7 231.5h.6M66.0 231.5h.6M70.2 231.5h.6M72.9 231.5h.6M86.8 231.5h.6M87.3 231.5h.6M91.9 231.5h.6M96.1 231.5h.6M117.5 231.5h.6M34.1 231.6h.6M34.5 231.6h.6M50.9 231.6h.6M62.9 231.6h.6M64.5 231.6h.6M71.3 231.6h.6M74.2 231.6h.6M88.4 231.6h.6M99.3 231.6h.6M101.1 231.6h.6M36.3 231.7h.6M47.5 231.7h.6M52.7 231.7h.6M66.8 231.7h.6M80.3 231.7h.6M94.7 231.7h.6M94.8 231.7h.6M39.6 231.8h.6M54.6 231.8h.6M60.1 231.8h.6M63.4 231.8h.6M78.0 231.8h.6M93.6 231.8h.6M32.9 231.9h.6M59.1 231.9h.6M62.8 231.9h.6M69.4 231.9h.6M72.2 231.9h.6M78.6 231.9h.6M79.5 231.9h.6M84.5 231.9h.6M91.4 231.9h.6M117.0 231.9h.6M47.2 232.0h.6M66.4 232.0h.6M69.9 232.0h.6M90.5 232.0h.6M96.8 232.0h.6M61.7 232.1h.6M63.0 232.1h.6M64.9 232.1h.6M93.4 232.1h.6M93.4 232.1h.6M62.6 232.2h.6M66.1 232.2h.6M68.1 232.2h.6M68.6 232.2h.6M75.5 232.2h.6M77.9 232.2h.6M84.0 232.2h.6M87.9 232.2h.6M96.3 232.2h.6M42.4 232.3h.6M47.7 232.3h.6M49.3 232.3h.6M63.6 232.3h.6M68.4 232.3h.6M69.4 232.3h.6M80.7 232.3h.6M98.2 232.3h.6M49.2 232.4h.6M57.8 232.4h.6M72.2 232.4h.6M79.9 232.4h.6M85.7 232.4h.6M88.6 232.4h.6M94.6 232.4h.6M45.1 232.5h.6M45.6 232.5h.6M47.5 232.5h.6M55.1 232.5h.6M72.7 232.5h.6M73.7 232.5h.6M75.3 232.5h.6M77.9 232.5h.6M87.1 232.5h.6M39.6 232.6h.6M68.6 232.6h.6M69.8 232.6h.6M74.1 232.6h.6M83.3 232.6h.6M138.1 232.6h.6M42.5 232.7h.6M47.6 232.7h.6M56.4 232.7h.6M75.2 232.7h.6M82.8 232.7h.6M84.6 232.7h.6M86.8 232.7h.6M87.9 232.7h.6M35.7 232.8h.6M40.5 232.8h.6M55.2 232.8h.6M65.4 232.8h.6M67.7 232.8h.6M39.2 232.9h.6M46.0 232.9h.6M59.0 232.9h.6M62.5 232.9h.6M78.6 232.9h.6M87.6 232.9h.6M88.7 232.9h.6M91.1 232.9h.6M96.3 232.9h.6M47.8 233.0h.6M61.2 233.0h.6M70.4 233.0h.6M77.7 233.0h.6M80.1 233.0h.6M80.4 233.0h.6M85.2 233.0h.6M85.4 233.0h.6M95.7 233.0h.6M44.5 233.1h.6M46.1 233.1h.6M62.5 233.1h.6M81.7 233.1h.6M100.0 233.1h.6M42.9 233.2h.6M50.0 233.2h.6M60.2 233.2h.6M62.5 233.2h.6M72.0 233.2h.6M75.7 233.2h.6M84.6 233.2h.6M92.6 233.2h.6M93.6 233.2h.6M54.5 233.3h.6M55.2 233.3h.6M74.7 233.3h.6M77.5 233.3h.6M97.3 233.3h.6M36.0 233.4h.6M52.6 233.4h.6M58.4 233.4h.6M60.3 233.4h.6M70.0 233.4h.6M79.8 233.4h.6M82.3 233.4h.6M98.6 233.4h.6M55.6 233.5h.6M57.1 233.5h.6M76.4 233.5h.6M84.5 233.5h.6M95.6 233.5h.6M98.3 233.5h.6M33.1 233.6h.6M40.4 233.6h.6M46.0 233.6h.6M50.6 233.6h.6M66.9 233.6h.6M68.5 233.6h.6M77.5 233.6h.6M82.2 233.6h.6M100.1 233.6h.6M29.9 233.7h.6M53.4 233.7h.6M59.9 233.7h.6M61.7 233.7h.6M64.4 233.7h.6M65.1 233.7h.6M66.9 233.7h.6M71.7 233.7h.6M73.8 233.7h.6M82.1 233.7h.6M85.3 233.7h.6M92.7 233.7h.6M93.6 233.7h.6M42.9 233.8h.6M59.9 233.8h.6M77.2 233.8h.6M79.3 233.8h.6M87.0 233.8h.6M89.0 233.8h.6M98.8 233.8h.6M55.4 233.9h.6M62.7 233.9h.6M63.9 233.9h.6M69.0 233.9h.6M80.7 233.9h.6M63.5 234.0h.6M73.5 234.0h.6M75.4 234.0h.6M115.3 234.0h.6M40.7 234.1h.6M48.4 234.1h.6M70.9 234.1h.6M79.7 234.1h.6M85.9 234.1h.6M93.9 234.1h.6M66.5 234.2h.6M74.9 234.2h.6M88.1 234.2h.6M36.9 234.3h.6M36.9 234.3h.6M55.6 234.3h.6M58.7 234.3h.6M59.9 234.3h.6M67.6 234.3h.6M72.6 234.3h.6M73.7 234.3h.6M79.2 234.3h.6M82.5 234.3h.6M87.3 234.3h.6M89.4 234.3h.6M34.5 234.4h.6M42.0 234.4h.6M44.3 234.4h.6M46.3 234.4h.6M61.5 234.4h.6M87.4 234.4h.6M90.7 234.4h.6M74.3 234.5h.6M76.1 234.5h.6M76.3 234.5h.6M82.2 234.5h.6M86.4 234.5h.6M69.2 234.6h.6M71.0 234.6h.6M41.2 234.7h.6M70.1 234.7h.6M72.3 234.7h.6M75.6 234.7h.6M94.6 234.7h.6M98.5 234.7h.6M59.6 234.8h.6M70.5 234.8h.6M78.3 234.8h.6M36.6 234.9h.6M39.8 234.9h.6M40.3 234.9h.6M72.5 234.9h.6M72.7 234.9h.6M94.7 234.9h.6M46.1 235.0h.6M60.9 235.0h.6M67.6 235.0h.6M67.7 235.0h.6M81.5 235.0h.6M37.3 235.1h.6M59.4 235.1h.6M59.7 235.1h.6M60.6 235.1h.6M63.7 235.1h.6M66.5 235.1h.6M67.0 235.1h.6M93.1 235.1h.6M74.0 235.2h.6M87.6 235.2h.6M91.2 235.2h.6M64.3 235.3h.6M84.1 235.3h.6M104.9 235.3h.6M58.1 235.4h.6M61.5 235.4h.6M73.9 235.4h.6M74.3 235.4h.6M88.2 235.4h.6M90.7 235.4h.6M60.3 235.5h.6M69.7 235.5h.6M72.5 235.5h.6M79.6 235.5h.6M84.8 235.5h.6M89.3 235.5h.6M53.8 235.6h.6M70.0 235.6h.6M73.4 235.6h.6M77.6 235.6h.6M43.6 235.7h.6M58.8 235.7h.6M66.6 235.7h.6M67.5 235.7h.6M69.0 235.7h.6M82.0 235.7h.6M87.1 235.7h.6M38.2 235.8h.6M41.7 235.8h.6M42.0 235.8h.6M51.8 235.8h.6M101.8 235.8h.6M42.6 235.9h.6M62.1 235.9h.6M68.0 235.9h.6M68.2 235.9h.6M79.2 235.9h.6M82.6 235.9h.6M73.7 236.0h.6M77.1 236.0h.6M45.2 236.1h.6M53.1 236.1h.6M53.8 236.1h.6M68.0 236.1h.6M39.4 236.2h.6M44.9 236.2h.6M49.9 236.2h.6M66.1 236.2h.6M69.2 236.2h.6M79.5 236.2h.6M34.9 236.4h.6M51.5 236.4h.6M66.0 236.4h.6M66.5 236.4h.6M69.2 236.4h.6M81.9 236.4h.6M36.6 236.5h.6M63.3 236.5h.6M72.2 236.5h.6M74.0 236.5h.6M84.9 236.5h.6M90.2 236.5h.6M93.6 236.5h.6M95.9 236.5h.6M41.2 236.6h.6M54.4 236.6h.6M86.9 236.6h.6M90.9 236.6h.6M97.4 236.6h.6M99.2 236.6h.6M28.5 236.7h.6M45.4 236.7h.6M55.3 236.7h.6M59.8 236.7h.6M62.0 236.7h.6M84.6 236.7h.6M89.8 236.7h.6M49.6 236.8h.6M51.4 236.8h.6M71.7 236.8h.6M71.9 236.8h.6M88.8 236.8h.6M45.4 236.9h.6M51.3 236.9h.6M55.5 236.9h.6M74.1 236.9h.6M83.2 236.9h.6M95.0 236.9h.6M47.6 237.0h.6M57.3 237.0h.6M60.6 237.0h.6M75.5 237.0h.6M62.8 237.1h.6M77.4 237.1h.6M86.7 237.1h.6M54.3 237.2h.6M58.0 237.2h.6M59.8 237.2h.6M75.0 237.2h.6M78.2 237.2h.6M97.4 237.2h.6M70.1 237.3h.6M78.2 237.3h.6M42.9 237.4h.6M47.1 237.4h.6M68.0 237.4h.6M77.1 237.4h.6M46.7 237.5h.6M54.7 237.5h.6M79.7 237.5h.6M79.9 237.5h.6M85.3 237.5h.6M93.0 237.5h.6M71.8 237.6h.6M86.1 237.6h.6M67.3 237.7h.6M74.0 237.7h.6M78.3 237.7h.6M79.6 237.7h.6M96.6 237.7h.6M51.6 237.8h.6M55.0 237.8h.6M72.0 237.8h.6M76.2 237.8h.6M85.2 237.8h.6M89.0 237.8h.6M89.5 237.8h.6M114.5 237.8h.6M72.8 237.9h.6M61.8 238.0h.6M64.7 238.0h.6M66.4 238.0h.6M83.0 238.0h.6M84.2 238.0h.6M99.0 238.0h.6M69.0 238.1h.6M72.4 238.1h.6M89.6 238.1h.6M90.5 238.1h.6M88.8 238.3h.6M37.2 238.4h.6M50.6 238.4h.6M59.8 238.4h.6M69.5 238.4h.6M72.5 238.4h.6M75.5 238.4h.6M86.9 238.4h.6M87.0 238.4h.6M89.1 238.4h.6M120.5 238.4h.6M51.4 238.5h.6M63.4 238.5h.6M67.0 238.5h.6M75.4 238.5h.6M49.9 238.6h.6M56.2 238.6h.6M70.0 238.6h.6M81.5 238.6h.6M68.0 238.7h.6M83.2 238.7h.6M67.4 238.8h.6M35.5 238.9h.6M59.0 238.9h.6M79.5 238.9h.6M89.4 238.9h.6M97.7 238.9h.6M57.7 239.0h.6M62.3 239.0h.6M64.8 239.0h.6M102.8 239.1h.6M55.1 239.2h.6M68.7 239.2h.6M70.4 239.2h.6M84.2 239.2h.6M52.5 239.3h.6M57.1 239.3h.6M58.1 239.3h.6M58.6 239.3h.6M73.9 239.3h.6M86.3 239.3h.6M87.0 239.3h.6M88.7 239.3h.6M42.8 239.4h.6M75.8 239.4h.6M83.7 239.4h.6M93.2 239.4h.6M54.5 239.5h.6M68.4 239.5h.6M77.0 239.5h.6M81.9 239.5h.6M39.9 239.6h.6M40.9 239.7h.6M62.1 239.7h.6M63.6 239.7h.6M73.4 239.7h.6M91.4 239.7h.6M93.3 239.7h.6M127.3 239.7h.6M69.6 239.8h.6M78.1 239.8h.6M83.6 239.8h.6M101.6 239.8h.6M44.1 239.9h.6M76.6 239.9h.6M80.5 239.9h.6M89.2 239.9h.6M61.9 240.0h.6M64.3 240.0h.6M84.6 240.0h.6M75.0 240.1h.6M83.6 240.1h.6M86.4 240.1h.6M50.0 240.2h.6M60.1 240.2h.6M79.4 240.2h.6M84.0 240.2h.6M74.1 240.3h.6M76.5 240.3h.6M89.4 240.3h.6M118.3 240.3h.6M77.8 240.4h.6M53.6 240.5h.6M56.7 240.5h.6M68.9 240.5h.6M112.3 240.5h.6M112.3 240.5h.6M40.4 240.6h.6M34.5 240.7h.6M61.9 240.7h.6M63.3 240.7h.6M68.3 240.7h.6M84.0 240.7h.6M74.6 240.8h.6M80.1 240.8h.6M89.0 240.8h.6M89.1 240.8h.6M107.5 240.8h.6M65.2 240.9h.6M80.0 241.0h.6M80.1 241.0h.6M82.6 241.0h.6M59.3 241.1h.6M60.6 241.1h.6M83.8 241.1h.6M93.3 241.1h.6M34.1 241.2h.6M59.6 241.2h.6M73.9 241.2h.6M78.1 241.2h.6M84.4 241.2h.6M57.7 241.3h.6M96.5 241.3h.6M99.1 241.3h.6M76.8 241.4h.6M44.1 241.6h.6M51.9 241.6h.6M76.2 241.6h.6M87.6 241.6h.6M62.2 241.8h.6M67.0 241.8h.6M81.1 241.8h.6M65.9 241.9h.6M43.3 242.0h.6M60.2 242.0h.6M63.5 242.0h.6M75.4 242.0h.6M85.6 242.0h.6M56.1 242.1h.6M57.2 242.1h.6M57.9 242.1h.6M62.2 242.1h.6M64.2 242.1h.6M90.1 242.1h.6M91.2 242.1h.6M47.6 242.2h.6M75.3 242.2h.6M80.2 242.2h.6M90.0 242.3h.6M51.1 242.4h.6M52.2 242.4h.6M55.2 242.4h.6M58.4 242.4h.6M69.3 242.4h.6M41.6 242.5h.6M43.3 242.5h.6M48.1 242.5h.6M59.1 242.5h.6M46.5 242.6h.6M77.6 242.6h.6M82.9 242.7h.6M91.9 242.7h.6M78.7 242.8h.6M35.4 242.9h.6M40.0 242.9h.6M66.1 242.9h.6M66.2 242.9h.6M72.9 242.9h.6M84.0 242.9h.6M73.5 243.0h.6M87.4 243.0h.6M56.6 243.1h.6M59.7 243.1h.6M69.2 243.1h.6M78.8 243.1h.6M79.9 243.1h.6M82.8 243.1h.6M39.3 243.2h.6M62.0 243.2h.6M66.9 243.2h.6M74.3 243.2h.6M75.0 243.2h.6M96.2 243.2h.6M52.9 243.3h.6M81.6 243.3h.6M82.8 243.3h.6M38.4 243.4h.6M97.0 243.4h.6M67.9 243.5h.6M69.9 243.5h.6M70.0 243.5h.6M94.0 243.5h.6M66.7 243.6h.6M73.6 243.6h.6M93.4 243.6h.6M94.9 243.6h.6M46.5 243.8h.6M67.5 243.8h.6M70.7 243.8h.6M42.6 243.9h.6M62.9 243.9h.6M64.5 243.9h.6M92.5 243.9h.6M121.9 243.9h.6M72.8 244.0h.6M59.6 244.1h.6M59.6 244.1h.6M87.3 244.1h.6M61.9 244.2h.6M72.4 244.2h.6M85.3 244.3h.6M66.0 244.4h.6M84.8 244.4h.6M88.4 244.4h.6M119.9 244.4h.6M53.2 244.5h.6M67.0 244.5h.6M71.6 244.6h.6M77.9 244.8h.6M82.5 244.8h.6M90.1 244.8h.6M55.7 244.9h.6M67.6 244.9h.6M122.8 244.9h.6M49.5 245.0h.6M84.5 245.0h.6M62.2 245.2h.6M67.7 245.2h.6M74.3 245.2h.6M85.9 245.2h.6M89.5 245.2h.6M100.8 245.2h.6M66.0 245.3h.6M82.3 245.3h.6M88.8 245.3h.6M95.5 245.3h.6M58.3 245.4h.6M64.7 245.4h.6M80.2 245.4h.6M90.6 245.4h.6M68.8 245.5h.6M78.6 245.6h.6M81.2 245.7h.6M82.1 245.7h.6M87.5 245.7h.6M31.7 245.8h.6M66.1 245.8h.6M84.9 245.8h.6M83.8 245.9h.6M40.6 246.0h.6M63.4 246.0h.6M70.0 246.0h.6M69.6 246.1h.6M35.7 246.2h.6M56.0 246.2h.6M66.4 246.2h.6M56.5 246.3h.6M64.9 246.3h.6M61.2 246.4h.6M61.8 246.4h.6M75.2 246.4h.6M78.6 246.4h.6M49.9 246.5h.6M66.2 246.5h.6M87.5 246.5h.6M66.5 246.6h.6M71.0 246.6h.6M114.9 246.6h.6M70.0 246.8h.6M131.7 246.8h.6M49.7 246.9h.6M68.3 247.0h.6M77.8 247.0h.6M69.0 247.2h.6M82.5 247.2h.6M70.3 247.3h.6M64.9 247.5h.6M60.0 247.6h.6M66.4 247.6h.6M67.3 247.7h.6M75.0 247.7h.6M58.5 247.8h.6M73.8 247.8h.6M87.9 247.8h.6M43.1 247.9h.6M83.0 248.0h.6M44.0 248.2h.6M63.6 248.3h.6M79.5 248.3h.6M61.1 248.4h.6M83.6 248.4h.6M91.4 248.4h.6M45.5 248.5h.6M61.0 248.5h.6M65.5 248.5h.6M88.2 248.6h.6M89.4 248.6h.6M98.8 248.6h.6M67.6 248.7h.6M38.9 248.8h.6M57.3 248.8h.6M67.8 248.8h.6M77.5 248.8h.6M52.9 249.0h.6M58.8 249.0h.6M63.0 249.0h.6M64.3 249.0h.6M78.1 249.1h.6M66.8 249.2h.6M78.0 249.2h.6M38.4 249.3h.6M67.4 249.3h.6M85.4 249.3h.6M69.4 249.4h.6M56.5 249.5h.6M64.4 249.5h.6M58.1 249.6h.6M83.5 249.6h.6M104.9 249.7h.6M59.6 249.9h.6M59.8 249.9h.6M52.5 250.0h.6M58.8 250.0h.6M77.8 250.0h.6M63.7 250.2h.6M75.7 250.5h.6M96.6 250.5h.6M94.8 250.8h.6M49.6 250.9h.6M90.4 250.9h.6M52.6 251.1h.6M76.9 251.1h.6M73.9 251.4h.6M85.0 251.4h.6M40.7 251.5h.6M53.1 251.5h.6M92.5 251.5h.6M64.2 251.7h.6M76.5 251.8h.6M94.2 251.8h.6M37.5 251.9h.6M51.3 251.9h.6M129.2 251.9h.6M137.5 252.2h.6M44.6 252.3h.6M66.6 252.3h.6M116.4 252.4h.6M69.7 252.5h.6M72.9 252.6h.6M80.4 252.6h.6M111.0 252.7h.6M61.4 252.8h.6M90.2 252.8h.6M120.5 252.9h.6M123.6 253.0h.6M62.4 253.4h.6M94.2 253.4h.6M58.2 253.6h.6M65.8 253.6h.6M100.8 253.7h.6M123.1 253.7h.6M85.4 253.8h.6M105.9 254.0h.6M30.7 254.2h.6M54.9 254.3h.6M64.5 254.4h.6M62.1 254.5h.6M100.2 254.8h.6" stroke="#000" stroke-width="0.6" fill="none" opacity="0.7"/>
<line x1="26.8" y1="140.0" x2="26.8" y2="256.1" stroke="#222" stroke-width="1" />
<line x1="25.3" y1="255.6" x2="142.5" y2="255.6" stroke="#222" stroke-width="1" />
<path d="M26.80 255.6v2.4M26.8 255.60h-2.4M35.47 255.6v1.2M26.8 246.94h-1.2M40.54 255.6v1.2M26.8 241.87h-1.2M44.14 255.6v1.2M26.8 238.28h-1.2M46.93 255.6v1.2M26.8 235.49h-1.2M49.21 255.6v1.2M26.8 233.21h-1.2M51.14 255.6v1.2M26.8 231.28h-1.2M52.81 255.6v1.2M26.8 229.61h-1.2M54.28 255.6v1.2M26.8 228.14h-1.2M55.60 255.6v2.4M26.8 226.82h-2.4M64.27 255.6v1.2M26.8 218.16h-1.2M69.34 255.6v1.2M26.8 213.10h-1.2M72.94 255.6v1.2M26.8 209.50h-1.2M75.73 255.6v1.2M26.8 206.71h-1.2M78.01 255.6v1.2M26.8 204.43h-1.2M79.94 255.6v1.2M26.8 202.51h-1.2M81.61 255.6v1.2M26.8 200.84h-1.2M83.08 255.6v1.2M26.8 199.37h-1.2M84.40 255.6v2.4M26.8 198.05h-2.4M93.07 255.6v1.2M26.8 189.39h-1.2M98.14 255.6v1.2M26.8 184.32h-1.2M101.74 255.6v1.2M26.8 180.73h-1.2M104.53 255.6v1.2M26.8 177.94h-1.2M106.81 255.6v1.2M26.8 175.66h-1.2M108.74 255.6v1.2M26.8 173.73h-1.2M110.41 255.6v1.2M26.8 172.06h-1.2M111.88 255.6v1.2M26.8 170.59h-1.2M113.20 255.6v2.4M26.8 169.28h-2.4M121.87 255.6v1.2M26.8 160.61h-1.2M126.94 255.6v1.2M26.8 155.55h-1.2M130.54 255.6v1.2M26.8 151.95h-1.2M133.33 255.6v1.2M26.8 149.16h-1.2M135.61 255.6v1.2M26.8 146.88h-1.2M137.54 255.6v1.2M26.8 144.96h-1.2M139.21 255.6v1.2M26.8 143.29h-1.2M140.68 255.6v1.2M26.8 141.82h-1.2M142.0 255.6v2.4M26.8 140.5h-2.4" stroke="#222" stroke-width=".7" fill="none"/>
<text x="48.30" y="269.0" font-size="7.8" font-weight="bold" fill="#111">10<tspan font-size="4.3" dy="-3.28">1</tspan></text>
<text x="11.50" y="229.625" font-size="7.8" font-weight="bold" fill="#111">10<tspan font-size="4.3" dy="-3.28">1</tspan></text>
<text x="76.00" y="269.0" font-size="7.8" font-weight="bold" fill="#111">10<tspan font-size="4.3" dy="-3.28">2</tspan></text>
<text x="11.50" y="200.85000000000002" font-size="7.8" font-weight="bold" fill="#111">10<tspan font-size="4.3" dy="-3.28">2</tspan></text>
<text x="103.90" y="269.0" font-size="7.8" font-weight="bold" fill="#111">10<tspan font-size="4.3" dy="-3.28">3</tspan></text>
<text x="11.50" y="172.07500000000002" font-size="7.8" font-weight="bold" fill="#111">10<tspan font-size="4.3" dy="-3.28">3</tspan></text>
<text x="134.90" y="269.0" font-size="7.8" font-weight="bold" fill="#111">10<tspan font-size="4.3" dy="-3.28">4</tspan></text>
<text x="11.50" y="143.3" font-size="7.8" font-weight="bold" fill="#111">10<tspan font-size="4.3" dy="-3.28">4</tspan></text>
<text x="27.2" y="269.0" font-size="7.8" font-weight="bold" text-anchor="middle" fill="#111" >0</text>
<text x="22.5" y="258.5" font-size="7.8" font-weight="bold" text-anchor="end" fill="#111" >0</text>
<text transform="translate(6.6 196.9) rotate(-90)" font-size="7.8" font-weight="bold" text-anchor="middle" fill="#111">CD34</text>
<text x="83.15" y="280.0" font-size="8.1" font-weight="bold" text-anchor="middle" fill="#111" >CD38</text>
<rect x="36.6" y="140.6" width="27.2" height="80.4" fill="none" stroke="#000" stroke-width="1.2"/>
<rect x="82.4" y="139.9" width="27" height="80.2" fill="none" stroke="#000" stroke-width="1.2"/>
<rect x="39.5" y="142.6" width="20.5" height="9" fill="#fff" opacity=".85"/>
<rect x="87.8" y="142.6" width="20.5" height="9" fill="#fff" opacity=".85"/>
<text x="40.8" y="150.3" font-size="8.4" font-weight="bold" text-anchor="start" fill="#111" >HSC</text>
<text x="89.2" y="150.3" font-size="8.4" font-weight="bold" text-anchor="start" fill="#111" >MPP</text>
<path d="M50 140.4V124.6H128.5" fill="none" stroke="#000" stroke-width="1.2"/>
<path d="M127.6 121.1L134 124.6L127.6 128.1Z" fill="#000"/>
<path d="M109.4 215.9H129.5" fill="none" stroke="#000" stroke-width="1.2"/>
<path d="M129.0 212.5L135.2 215.9L129.0 219.3Z" fill="#000"/>
<rect x="180.6" y="13.6" width="85.4" height="29.8" fill="#fff" stroke="#9a9a9a" stroke-width=".6"/>
<line x1="182.6" y1="19.2" x2="190.2" y2="19.2" stroke="#c8c8c8" stroke-width="0.9" stroke-dasharray="1.2 1.3"/>
<text x="193.5" y="21.2" font-size="5.7" font-weight="normal" text-anchor="start" fill="#222" >MiNR1+4OHT, no probe</text>
<line x1="182.6" y1="25.0" x2="190.2" y2="25.0" stroke="#9a9a9a" stroke-width="0.9" />
<text x="193.5" y="27.0" font-size="5.7" font-weight="normal" text-anchor="start" fill="#222" >STAT5+4OHT, no probe</text>
<line x1="182.6" y1="30.799999999999997" x2="190.2" y2="30.799999999999997" stroke="#222" stroke-width="0.9" stroke-dasharray="1.2 1.3"/>
<text x="193.5" y="32.8" font-size="5.7" font-weight="normal" text-anchor="start" fill="#222" >MiNR1+4OHT, 3 hrs probe</text>
<line x1="182.6" y1="36.599999999999994" x2="190.2" y2="36.599999999999994" stroke="#111" stroke-width="0.9" />
<text x="193.5" y="38.599999999999994" font-size="5.7" font-weight="normal" text-anchor="start" fill="#222" >STAT5+4OHT, 3 hrs probe</text>
<path d="M183.00 167.41L183.40 165.93L183.80 164.45L184.20 162.82L184.57 161.20L184.94 159.53L185.31 157.78L185.69 155.90L186.06 153.85L186.43 151.58L186.80 149.06L187.24 145.43L187.68 141.01L188.12 136.02L188.56 130.68L189.00 125.20L189.42 119.54L189.84 113.25L190.26 106.75L190.68 100.43L191.10 94.69L191.48 89.88L191.86 85.15L192.24 80.71L192.62 76.71L193.00 73.36L193.37 70.30L193.73 67.62L194.10 66.48L194.50 67.60L194.90 70.26L195.30 73.36L195.68 76.61L196.06 80.60L196.44 85.09L196.82 89.86L197.20 94.69L197.56 99.47L197.92 104.63L198.28 109.96L198.64 115.28L199.00 120.38L199.40 126.06L199.80 131.87L200.20 137.48L200.60 142.56L201.00 146.77L201.42 150.45L201.83 153.85L202.25 156.93L202.67 159.66L203.08 162.02L203.50 163.97L203.92 165.70L204.33 167.35L204.75 168.84L205.17 170.08L205.58 170.97L206.00 171.43L206.40 171.60L206.80 171.72L207.20 171.81L207.60 171.90L208.00 172.00" fill="none" stroke="#c8c8c8" stroke-width="1.1" stroke-linejoin="round" stroke-dasharray="1.2 1.6"/>
<path d="M182.60 168.10L182.98 167.39L183.37 166.73L183.75 166.07L184.13 165.36L184.52 164.56L184.90 163.63L185.30 162.46L185.70 161.09L186.10 159.53L186.50 157.78L186.90 155.85L187.30 153.75L187.70 151.48L188.10 149.06L188.52 146.10L188.93 142.53L189.35 138.50L189.77 134.17L190.18 129.69L190.60 125.20L190.97 121.20L191.33 116.94L191.70 112.36L192.10 106.47L192.50 100.13L192.90 94.69L193.30 90.43L193.70 86.66L194.10 83.29L194.50 80.24L194.87 77.58L195.23 75.18L195.60 73.36L196.00 71.83L196.40 71.06L196.80 72.11L197.20 74.50L197.57 79.37L197.93 87.08L198.30 94.69L198.80 103.91L199.30 112.36L199.80 119.05L200.30 125.20L200.68 130.24L201.06 135.49L201.44 140.59L201.82 145.23L202.20 149.06L202.57 152.13L202.93 154.95L203.30 157.51L203.67 159.81L204.03 161.85L204.40 163.63L204.78 165.38L205.17 167.10L205.55 168.69L205.93 170.01L206.32 170.96L206.70 171.43L207.08 171.58L207.47 171.69L207.85 171.78L208.23 171.85L208.62 171.92L209.00 172.00" fill="none" stroke="#a4a4a4" stroke-width="1.0" stroke-linejoin="round" />
<path d="M193.80 172.00L194.20 170.99L194.60 170.03L195.00 169.09L195.40 168.14L195.80 167.14L196.20 166.08L196.60 164.92L197.00 163.63L197.38 162.28L197.75 160.79L198.12 159.17L198.50 157.41L198.88 155.51L199.25 153.47L199.62 151.28L200.00 148.95L200.43 145.99L200.87 142.67L201.30 138.96L201.73 134.83L202.17 130.25L202.60 125.20L203.10 117.66L203.60 108.91L204.00 101.56L204.40 94.69L204.80 89.04L205.20 83.87L205.60 79.35L206.00 75.65L206.38 72.52L206.75 69.55L207.12 67.34L207.50 66.48L207.93 68.10L208.37 71.76L208.80 75.65L209.22 78.82L209.64 81.97L210.06 85.43L210.48 89.55L210.90 94.69L211.30 103.04L211.70 112.36L212.10 119.09L212.50 125.20L212.90 131.60L213.30 138.05L213.70 144.02L214.10 148.95L214.46 152.66L214.82 156.11L215.18 159.16L215.54 161.71L215.90 163.63L216.28 165.12L216.65 166.37L217.03 167.45L217.40 168.39L217.78 169.27L218.15 170.12L218.53 171.02L218.90 172.00" fill="none" stroke="#222" stroke-width="1.05" stroke-linejoin="round" stroke-dasharray="1.2 1.6"/>
<path d="M198.00 172.00L198.39 171.93L198.78 171.87L199.17 171.81L199.56 171.75L199.94 171.69L200.33 171.62L200.72 171.53L201.11 171.43L201.50 171.31L201.91 171.10L202.32 170.76L202.73 170.29L203.14 169.71L203.55 169.04L203.95 168.28L204.36 167.44L204.77 166.55L205.18 165.61L205.59 164.63L206.00 163.63L206.39 162.60L206.78 161.44L207.17 160.13L207.56 158.68L207.94 157.07L208.33 155.30L208.72 153.36L209.11 151.24L209.50 148.95L209.88 146.29L210.27 143.07L210.65 139.31L211.03 135.05L211.42 130.34L211.80 125.20L212.15 119.14L212.50 112.36L213.00 102.92L213.50 94.69L213.85 90.46L214.20 87.12L214.57 84.58L214.93 82.49L215.30 80.24L215.70 77.20L216.10 73.94L216.50 71.06L216.87 68.53L217.23 66.22L217.60 65.21L217.97 66.13L218.33 68.35L218.70 71.06L219.06 74.18L219.42 78.18L219.78 83.00L220.14 88.53L220.50 94.69L220.90 104.19L221.30 114.65L221.80 125.20L222.25 132.43L222.70 138.82L223.15 144.34L223.60 148.95L224.02 152.71L224.44 156.17L224.86 159.23L225.28 161.75L225.70 163.63L226.09 165.00L226.48 166.31L226.87 167.52L227.26 168.62L227.64 169.58L228.03 170.39L228.42 171.02L228.81 171.45L229.20 171.66L229.60 171.74L230.00 171.80L230.40 171.84L230.80 171.88L231.20 171.92L231.60 171.96L232.00 172.00" fill="none" stroke="#111" stroke-width="1.0" stroke-linejoin="round" />
<line x1="182.3" y1="56.8" x2="182.3" y2="172.5" stroke="#222" stroke-width="1" />
<line x1="181.8" y1="172.0" x2="265" y2="172.0" stroke="#222" stroke-width="1" />
<line x1="179.3" y1="172.0" x2="182.3" y2="172.0" stroke="#222" stroke-width="0.8" />
<text x="177.9" y="174.9" font-size="8" font-weight="bold" text-anchor="end" fill="#111" >0</text>
<line x1="179.3" y1="149.06" x2="182.3" y2="149.06" stroke="#222" stroke-width="0.8" />
<text x="177.9" y="151.96" font-size="8" font-weight="bold" text-anchor="end" fill="#111" >20</text>
<line x1="179.3" y1="126.12" x2="182.3" y2="126.12" stroke="#222" stroke-width="0.8" />
<text x="177.9" y="129.02" font-size="8" font-weight="bold" text-anchor="end" fill="#111" >40</text>
<line x1="179.3" y1="103.17999999999999" x2="182.3" y2="103.17999999999999" stroke="#222" stroke-width="0.8" />
<text x="177.9" y="106.08" font-size="8" font-weight="bold" text-anchor="end" fill="#111" >60</text>
<line x1="179.3" y1="80.24" x2="182.3" y2="80.24" stroke="#222" stroke-width="0.8" />
<text x="177.9" y="83.14" font-size="8" font-weight="bold" text-anchor="end" fill="#111" >80</text>
<line x1="179.3" y1="57.3" x2="182.3" y2="57.3" stroke="#222" stroke-width="0.8" />
<text x="177.9" y="60.199999999999996" font-size="8" font-weight="bold" text-anchor="end" fill="#111" >100</text>
<path d="M182.30 172.0v2.4M190.56 172.0v1.2M195.39 172.0v1.2M198.82 172.0v1.2M201.48 172.0v1.2M203.65 172.0v1.2M205.48 172.0v1.2M207.07 172.0v1.2M208.48 172.0v1.2M209.73 172.0v2.4M217.99 172.0v1.2M222.82 172.0v1.2M226.25 172.0v1.2M228.91 172.0v1.2M231.08 172.0v1.2M232.92 172.0v1.2M234.51 172.0v1.2M235.91 172.0v1.2M237.17 172.0v2.4M245.42 172.0v1.2M250.26 172.0v1.2M253.68 172.0v1.2M256.34 172.0v1.2M258.51 172.0v1.2M260.35 172.0v1.2M261.94 172.0v1.2M263.34 172.0v1.2M264.6 172.0v2.4" stroke="#333" stroke-width=".55" fill="none"/>
<text x="182.4" y="185.9" font-size="8.3" font-weight="bold" text-anchor="middle" fill="#111" >0</text>
<text x="204.30" y="185.9" font-size="8.3" font-weight="bold" fill="#111">10<tspan font-size="4.4" dy="-3.49">1</tspan></text>
<text x="231.73" y="185.9" font-size="8.3" font-weight="bold" fill="#111">10<tspan font-size="4.4" dy="-3.49">2</tspan></text>
<text x="259.16" y="185.9" font-size="8.3" font-weight="bold" fill="#111">10<tspan font-size="4.4" dy="-3.49">3</tspan></text>
<text x="227.7" y="199.6" font-size="8.2" font-weight="bold" text-anchor="middle" fill="#111" >2-NBDG</text>
<text transform="translate(164.2 114.0) rotate(-90)" font-size="8.25" font-weight="bold" text-anchor="middle" fill="#111">% of MAX</text>
<text x="238.5" y="66.3" font-size="9.05" font-weight="bold" text-anchor="start" fill="#111" >HSC</text>
<path d="M183.00 321.54L183.50 320.31L184.00 318.89L184.39 317.44L184.77 315.71L185.16 313.74L185.54 311.57L185.93 309.22L186.31 306.74L186.70 304.14L187.08 301.34L187.47 298.22L187.85 294.82L188.23 291.20L188.62 287.42L189.00 283.52L189.40 279.21L189.80 274.52L190.20 269.59L190.60 264.53L191.00 259.44L191.40 254.45L191.80 249.66L192.23 244.49L192.65 239.24L193.07 234.41L193.50 230.53L193.93 227.10L194.37 224.17L194.80 222.93L195.27 224.19L195.73 227.15L196.20 230.53L196.60 233.53L197.00 237.01L197.40 240.91L197.80 245.15L198.20 249.66L198.62 255.04L199.04 261.21L199.46 267.76L199.88 274.26L200.30 280.30L200.68 285.52L201.06 290.77L201.44 295.80L201.82 300.34L202.20 304.14L202.57 307.28L202.93 310.20L203.30 312.86L203.67 315.22L204.03 317.25L204.40 318.89L204.81 320.50L205.23 322.04L205.64 323.45L206.06 324.68L206.47 325.67L206.89 326.37L207.30 326.72L207.69 326.86L208.07 326.96L208.46 327.04L208.84 327.10L209.23 327.16L209.61 327.23L210.00 327.30" fill="none" stroke="#c8c8c8" stroke-width="1.1" stroke-linejoin="round" stroke-dasharray="1.2 1.6"/>
<path d="M182.60 321.54L183.00 321.06L183.40 320.62L183.80 320.16L184.20 319.61L184.60 318.89L185.00 317.79L185.40 316.20L185.80 314.21L186.20 311.92L186.60 309.42L187.00 306.79L187.40 304.14L187.80 301.36L188.20 298.27L188.60 294.91L189.00 291.31L189.40 287.51L189.80 283.52L190.19 279.37L190.57 274.80L190.96 269.94L191.34 264.89L191.73 259.75L192.11 254.64L192.50 249.66L192.88 244.62L193.25 239.38L193.62 234.49L194.00 230.53L194.37 227.12L194.73 224.18L195.10 222.93L195.50 224.22L195.90 227.20L196.30 230.53L196.68 233.66L197.06 237.19L197.44 241.07L197.82 245.24L198.20 249.66L198.62 255.13L199.04 261.32L199.46 267.83L199.88 274.29L200.30 280.30L200.68 285.52L201.06 290.77L201.44 295.80L201.82 300.34L202.20 304.14L202.57 307.28L202.93 310.20L203.30 312.86L203.67 315.22L204.03 317.25L204.40 318.89L204.81 320.50L205.23 322.04L205.64 323.45L206.06 324.68L206.47 325.67L206.89 326.37L207.30 326.72L207.69 326.86L208.07 326.96L208.46 327.04L208.84 327.10L209.23 327.16L209.61 327.23L210.00 327.30" fill="none" stroke="#a4a4a4" stroke-width="1.0" stroke-linejoin="round" />
<path d="M192.60 327.30L193.00 326.40L193.40 325.56L193.80 324.75L194.20 323.94L194.60 323.10L195.00 322.20L195.40 321.22L195.80 320.13L196.20 318.89L196.60 317.42L197.00 315.68L197.40 313.70L197.80 311.52L198.20 309.18L198.60 306.71L199.00 304.14L199.43 301.24L199.87 298.12L200.30 294.73L200.73 291.01L201.17 286.91L201.60 282.37L202.02 276.91L202.44 270.24L202.86 263.02L203.28 255.93L203.70 249.66L204.07 244.59L204.45 239.69L204.82 235.28L205.20 231.68L205.57 228.52L205.93 225.81L206.30 224.66L206.70 225.88L207.10 228.67L207.50 231.68L207.94 234.71L208.38 237.94L208.82 241.45L209.26 245.33L209.70 249.66L210.07 253.96L210.43 259.04L210.80 264.60L211.17 270.34L211.53 275.98L211.90 281.22L212.35 287.34L212.80 293.39L213.25 299.09L213.70 304.14L214.12 308.54L214.55 312.72L214.97 316.30L215.40 318.89L215.80 320.57L216.20 321.96L216.60 323.14L217.00 324.18L217.40 325.17L217.80 326.18L218.20 327.30" fill="none" stroke="#222" stroke-width="1.05" stroke-linejoin="round" stroke-dasharray="1.2 1.6"/>
<path d="M196.00 327.30L196.38 327.25L196.75 327.20L197.12 327.15L197.50 327.10L197.88 327.05L198.25 326.99L198.62 326.92L199.00 326.84L199.40 326.74L199.80 326.61L200.20 326.46L200.60 326.29L201.00 326.09L201.40 325.87L201.80 325.62L202.20 325.34L202.58 325.02L202.96 324.63L203.34 324.15L203.72 323.59L204.10 322.97L204.48 322.27L204.86 321.52L205.24 320.70L205.62 319.82L206.00 318.89L206.40 317.77L206.80 316.44L207.20 314.89L207.60 313.13L208.00 311.18L208.40 309.02L208.80 306.68L209.20 304.14L209.62 301.11L210.04 297.47L210.46 293.17L210.88 288.16L211.30 282.37L211.77 272.34L212.23 259.62L212.70 249.66L213.07 244.67L213.45 240.49L213.82 236.98L214.20 233.99L214.57 231.11L214.93 228.61L215.30 227.54L215.70 228.64L216.10 231.18L216.50 233.99L216.88 236.38L217.26 238.87L217.64 241.73L218.02 245.24L218.40 249.66L218.80 258.43L219.20 270.73L219.60 281.22L219.97 288.11L220.35 294.18L220.72 299.50L221.10 304.14L221.50 308.68L221.90 312.86L222.30 316.36L222.70 318.89L223.07 320.64L223.44 322.28L223.81 323.75L224.19 325.01L224.56 325.99L224.93 326.66L225.30 326.95L225.69 327.04L226.07 327.10L226.46 327.15L226.84 327.19L227.23 327.22L227.61 327.26L228.00 327.30" fill="none" stroke="#111" stroke-width="1.0" stroke-linejoin="round" />
<line x1="182.3" y1="211.60000000000002" x2="182.3" y2="327.8" stroke="#222" stroke-width="1" />
<line x1="181.8" y1="327.3" x2="265" y2="327.3" stroke="#222" stroke-width="1" />
<line x1="179.3" y1="327.3" x2="182.3" y2="327.3" stroke="#222" stroke-width="0.8" />
<text x="177.9" y="330.2" font-size="8" font-weight="bold" text-anchor="end" fill="#111" >0</text>
<line x1="179.3" y1="304.26" x2="182.3" y2="304.26" stroke="#222" stroke-width="0.8" />
<text x="177.9" y="307.15999999999997" font-size="8" font-weight="bold" text-anchor="end" fill="#111" >20</text>
<line x1="179.3" y1="281.22" x2="182.3" y2="281.22" stroke="#222" stroke-width="0.8" />
<text x="177.9" y="284.12" font-size="8" font-weight="bold" text-anchor="end" fill="#111" >40</text>
<line x1="179.3" y1="258.18" x2="182.3" y2="258.18" stroke="#222" stroke-width="0.8" />
<text x="177.9" y="261.08" font-size="8" font-weight="bold" text-anchor="end" fill="#111" >60</text>
<line x1="179.3" y1="235.14000000000001" x2="182.3" y2="235.14000000000001" stroke="#222" stroke-width="0.8" />
<text x="177.9" y="238.04000000000002" font-size="8" font-weight="bold" text-anchor="end" fill="#111" >80</text>
<line x1="179.3" y1="212.10000000000002" x2="182.3" y2="212.10000000000002" stroke="#222" stroke-width="0.8" />
<text x="177.9" y="215.00000000000003" font-size="8" font-weight="bold" text-anchor="end" fill="#111" >100</text>
<path d="M182.30 327.3v2.4M190.56 327.3v1.2M195.39 327.3v1.2M198.82 327.3v1.2M201.48 327.3v1.2M203.65 327.3v1.2M205.48 327.3v1.2M207.07 327.3v1.2M208.48 327.3v1.2M209.73 327.3v2.4M217.99 327.3v1.2M222.82 327.3v1.2M226.25 327.3v1.2M228.91 327.3v1.2M231.08 327.3v1.2M232.92 327.3v1.2M234.51 327.3v1.2M235.91 327.3v1.2M237.17 327.3v2.4M245.42 327.3v1.2M250.26 327.3v1.2M253.68 327.3v1.2M256.34 327.3v1.2M258.51 327.3v1.2M260.35 327.3v1.2M261.94 327.3v1.2M263.34 327.3v1.2M264.6 327.3v2.4" stroke="#333" stroke-width=".55" fill="none"/>
<text x="182.4" y="341.2" font-size="8.3" font-weight="bold" text-anchor="middle" fill="#111" >0</text>
<text x="204.30" y="341.2" font-size="8.3" font-weight="bold" fill="#111">10<tspan font-size="4.4" dy="-3.49">1</tspan></text>
<text x="231.73" y="341.2" font-size="8.3" font-weight="bold" fill="#111">10<tspan font-size="4.4" dy="-3.49">2</tspan></text>
<text x="259.16" y="341.2" font-size="8.3" font-weight="bold" fill="#111">10<tspan font-size="4.4" dy="-3.49">3</tspan></text>
<text x="227.7" y="354.90000000000003" font-size="8.2" font-weight="bold" text-anchor="middle" fill="#111" >2-NBDG</text>
<text transform="translate(164.2 268.8) rotate(-90)" font-size="8.25" font-weight="bold" text-anchor="middle" fill="#111">% of MAX</text>
<text x="238.5" y="236.0" font-size="9.05" font-weight="bold" text-anchor="start" fill="#111" >MPP</text>
<rect x="349.00" y="86.70" width="9.8" height="76.20" fill="#0a0a0a"/>
<line x1="353.9" y1="86.7" x2="353.9" y2="82.89" stroke="#222" stroke-width="0.9" />
<line x1="352.59999999999997" y1="82.89" x2="355.2" y2="82.89" stroke="#222" stroke-width="0.9" />
<rect x="363.80" y="99.27" width="9.8" height="63.63" fill="#0a0a0a"/>
<line x1="368.7" y1="99.273" x2="368.7" y2="96.225" stroke="#222" stroke-width="0.9" />
<line x1="367.4" y1="96.225" x2="370.0" y2="96.225" stroke="#222" stroke-width="0.9" />
<rect x="379.90" y="44.79" width="9.8" height="118.11" fill="#0a0a0a"/>
<line x1="384.8" y1="44.790000000000006" x2="384.8" y2="38.313" stroke="#222" stroke-width="0.9" />
<line x1="383.5" y1="38.313" x2="386.1" y2="38.313" stroke="#222" stroke-width="0.9" />
<rect x="396.10" y="72.22" width="9.8" height="90.68" fill="#0a0a0a"/>
<line x1="401.0" y1="72.22200000000001" x2="401.0" y2="67.269" stroke="#222" stroke-width="0.9" />
<line x1="399.7" y1="67.269" x2="402.3" y2="67.269" stroke="#222" stroke-width="0.9" />
<line x1="344.3" y1="10.0" x2="344.3" y2="163.4" stroke="#111" stroke-width="1.1" />
<line x1="343.8" y1="162.9" x2="411.3" y2="162.9" stroke="#111" stroke-width="1.1" />
<line x1="341.7" y1="162.9" x2="344.3" y2="162.9" stroke="#111" stroke-width="0.8" />
<text x="340.90000000000003" y="165.9" font-size="8.9" font-weight="bold" text-anchor="end" fill="#111" >0</text>
<line x1="341.7" y1="124.80000000000001" x2="344.3" y2="124.80000000000001" stroke="#111" stroke-width="0.8" />
<text x="340.90000000000003" y="127.80000000000001" font-size="8.9" font-weight="bold" text-anchor="end" fill="#111" >50</text>
<line x1="341.7" y1="86.7" x2="344.3" y2="86.7" stroke="#111" stroke-width="0.8" />
<text x="340.90000000000003" y="89.7" font-size="8.9" font-weight="bold" text-anchor="end" fill="#111" >100</text>
<line x1="341.7" y1="48.60000000000001" x2="344.3" y2="48.60000000000001" stroke="#111" stroke-width="0.8" />
<text x="340.90000000000003" y="51.60000000000001" font-size="8.9" font-weight="bold" text-anchor="end" fill="#111" >150</text>
<line x1="341.7" y1="10.5" x2="344.3" y2="10.5" stroke="#111" stroke-width="0.8" />
<text x="340.90000000000003" y="13.5" font-size="8.9" font-weight="bold" text-anchor="end" fill="#111" >200</text>
<text transform="translate(321.7 84.8) rotate(-90)" font-size="9.25" font-weight="bold" text-anchor="middle" fill="#111" textLength="116.5" lengthAdjust="spacingAndGlyphs">relative GLUT1 expression</text>
<path d="M354.6 71.5V29.3H399.8V60.5" fill="none" stroke="#858585" stroke-width=".6"/>
<path d="M384.7 29.3V34.5" fill="none" stroke="#858585" stroke-width=".6"/>
<path d="M368.50 23.10L368.50 26.10M369.80 23.85L367.20 25.35M369.80 25.35L367.20 23.85" stroke="#111" stroke-width=".85" fill="none"/>
<path d="M393.80 22.10L393.80 25.10M395.10 22.85L392.50 24.35M395.10 24.35L392.50 22.85" stroke="#111" stroke-width=".85" fill="none"/>
<line x1="350.4" y1="174.5" x2="354.6" y2="174.5" stroke="#111" stroke-width="1.0" />
<line x1="366.9" y1="174.5" x2="371.1" y2="174.5" stroke="#111" stroke-width="1.0" />
<line x1="383.4" y1="174.5" x2="387.6" y2="174.5" stroke="#111" stroke-width="1.0" />
<line x1="385.5" y1="172.4" x2="385.5" y2="176.6" stroke="#111" stroke-width="1.0" />
<line x1="399.79999999999995" y1="174.5" x2="404.0" y2="174.5" stroke="#111" stroke-width="1.0" />
<line x1="401.9" y1="172.4" x2="401.9" y2="176.6" stroke="#111" stroke-width="1.0" />
<line x1="350.4" y1="182.3" x2="354.6" y2="182.3" stroke="#111" stroke-width="1.0" />
<line x1="352.5" y1="180.20000000000002" x2="352.5" y2="184.4" stroke="#111" stroke-width="1.0" />
<line x1="366.9" y1="182.3" x2="371.1" y2="182.3" stroke="#111" stroke-width="1.0" />
<line x1="383.4" y1="182.3" x2="387.6" y2="182.3" stroke="#111" stroke-width="1.0" />
<line x1="385.5" y1="180.20000000000002" x2="385.5" y2="184.4" stroke="#111" stroke-width="1.0" />
<line x1="399.79999999999995" y1="182.3" x2="404.0" y2="182.3" stroke="#111" stroke-width="1.0" />
<line x1="350.4" y1="190.0" x2="354.6" y2="190.0" stroke="#111" stroke-width="1.0" />
<line x1="366.9" y1="190.0" x2="371.1" y2="190.0" stroke="#111" stroke-width="1.0" />
<line x1="369.0" y1="187.9" x2="369.0" y2="192.1" stroke="#111" stroke-width="1.0" />
<line x1="383.4" y1="190.0" x2="387.6" y2="190.0" stroke="#111" stroke-width="1.0" />
<line x1="399.79999999999995" y1="190.0" x2="404.0" y2="190.0" stroke="#111" stroke-width="1.0" />
<line x1="401.9" y1="187.9" x2="401.9" y2="192.1" stroke="#111" stroke-width="1.0" />
<text x="341.6" y="176.8" font-size="6.6" font-weight="bold" text-anchor="end" fill="#111" >4OHT (STAT5A):</text>
<text x="341.6" y="184.60000000000002" font-size="6.6" font-weight="bold" text-anchor="end" fill="#111" >luc RNAi:</text>
<text x="341.6" y="192.3" font-size="6.6" font-weight="bold" text-anchor="end" fill="#111" >HIF2<tspan font-weight="normal">&#945;</tspan> RNAi:</text>
<rect x="455.55" y="86.25" width="9.3" height="76.56" fill="#0a0a0a"/>
<line x1="460.2" y1="86.245" x2="460.2" y2="81.67" stroke="#222" stroke-width="0.9" />
<line x1="458.9" y1="81.67" x2="461.5" y2="81.67" stroke="#222" stroke-width="0.9" />
<rect x="469.65" y="96.46" width="9.3" height="66.34" fill="#0a0a0a"/>
<line x1="474.3" y1="96.46250000000002" x2="474.3" y2="93.33625000000002" stroke="#222" stroke-width="0.9" />
<line x1="473.0" y1="93.33625000000002" x2="475.6" y2="93.33625000000002" stroke="#222" stroke-width="0.9" />
<rect x="485.75" y="64.13" width="9.3" height="98.67" fill="#0a0a0a"/>
<line x1="490.4" y1="64.13250000000001" x2="490.4" y2="59.32875000000001" stroke="#222" stroke-width="0.9" />
<line x1="489.09999999999997" y1="59.32875000000001" x2="491.7" y2="59.32875000000001" stroke="#222" stroke-width="0.9" />
<rect x="501.35" y="45.53" width="9.3" height="117.27" fill="#0a0a0a"/>
<line x1="506.0" y1="45.5275" x2="506.0" y2="39.4275" stroke="#222" stroke-width="0.9" />
<line x1="504.7" y1="39.4275" x2="507.3" y2="39.4275" stroke="#222" stroke-width="0.9" />
<line x1="450.2" y1="9.8" x2="450.2" y2="163.3" stroke="#111" stroke-width="1.1" />
<line x1="449.7" y1="162.8" x2="516" y2="162.8" stroke="#111" stroke-width="1.1" />
<line x1="447.59999999999997" y1="162.8" x2="450.2" y2="162.8" stroke="#111" stroke-width="0.8" />
<text x="446.8" y="165.8" font-size="8.9" font-weight="bold" text-anchor="end" fill="#111" >0</text>
<line x1="447.59999999999997" y1="124.67500000000001" x2="450.2" y2="124.67500000000001" stroke="#111" stroke-width="0.8" />
<text x="446.8" y="127.67500000000001" font-size="8.9" font-weight="bold" text-anchor="end" fill="#111" >50</text>
<line x1="447.59999999999997" y1="86.55000000000001" x2="450.2" y2="86.55000000000001" stroke="#111" stroke-width="0.8" />
<text x="446.8" y="89.55000000000001" font-size="8.9" font-weight="bold" text-anchor="end" fill="#111" >100</text>
<line x1="447.59999999999997" y1="48.42500000000001" x2="450.2" y2="48.42500000000001" stroke="#111" stroke-width="0.8" />
<text x="446.8" y="51.42500000000001" font-size="8.9" font-weight="bold" text-anchor="end" fill="#111" >150</text>
<line x1="447.59999999999997" y1="10.300000000000011" x2="450.2" y2="10.300000000000011" stroke="#111" stroke-width="0.8" />
<text x="446.8" y="13.300000000000011" font-size="8.9" font-weight="bold" text-anchor="end" fill="#111" >200</text>
<text transform="translate(428.0 84.8) rotate(-90)" font-size="9.25" font-weight="bold" text-anchor="middle" fill="#111" textLength="116.5" lengthAdjust="spacingAndGlyphs">relative GLUT3 expression</text>
<path d="M460.2 75V48.3H490.4V54.6" fill="none" stroke="#858585" stroke-width=".6"/>
<path d="M474.50 41.90L474.50 44.90M475.80 42.65L473.20 44.15M475.80 44.15L473.20 42.65" stroke="#111" stroke-width=".85" fill="none"/>
<line x1="456.7" y1="174.7" x2="460.90000000000003" y2="174.7" stroke="#111" stroke-width="1.0" />
<line x1="473.09999999999997" y1="174.7" x2="477.3" y2="174.7" stroke="#111" stroke-width="1.0" />
<line x1="488.9" y1="174.7" x2="493.1" y2="174.7" stroke="#111" stroke-width="1.0" />
<line x1="491.0" y1="172.6" x2="491.0" y2="176.79999999999998" stroke="#111" stroke-width="1.0" />
<line x1="505.2" y1="174.7" x2="509.40000000000003" y2="174.7" stroke="#111" stroke-width="1.0" />
<line x1="507.3" y1="172.6" x2="507.3" y2="176.79999999999998" stroke="#111" stroke-width="1.0" />
<line x1="456.7" y1="182.0" x2="460.90000000000003" y2="182.0" stroke="#111" stroke-width="1.0" />
<line x1="458.8" y1="179.9" x2="458.8" y2="184.1" stroke="#111" stroke-width="1.0" />
<line x1="473.09999999999997" y1="182.0" x2="477.3" y2="182.0" stroke="#111" stroke-width="1.0" />
<line x1="488.9" y1="182.0" x2="493.1" y2="182.0" stroke="#111" stroke-width="1.0" />
<line x1="491.0" y1="179.9" x2="491.0" y2="184.1" stroke="#111" stroke-width="1.0" />
<line x1="505.2" y1="182.0" x2="509.40000000000003" y2="182.0" stroke="#111" stroke-width="1.0" />
<line x1="456.7" y1="190.2" x2="460.90000000000003" y2="190.2" stroke="#111" stroke-width="1.0" />
<line x1="473.09999999999997" y1="190.2" x2="477.3" y2="190.2" stroke="#111" stroke-width="1.0" />
<line x1="475.2" y1="188.1" x2="475.2" y2="192.29999999999998" stroke="#111" stroke-width="1.0" />
<line x1="488.9" y1="190.2" x2="493.1" y2="190.2" stroke="#111" stroke-width="1.0" />
<line x1="505.2" y1="190.2" x2="509.40000000000003" y2="190.2" stroke="#111" stroke-width="1.0" />
<line x1="507.3" y1="188.1" x2="507.3" y2="192.29999999999998" stroke="#111" stroke-width="1.0" />
<rect x="348.15" y="346.15" width="10.1" height="25.55" fill="#0a0a0a"/>
<line x1="353.2" y1="346.15" x2="353.2" y2="344.8725" stroke="#222" stroke-width="0.9" />
<line x1="351.9" y1="344.8725" x2="354.5" y2="344.8725" stroke="#222" stroke-width="0.9" />
<rect x="363.55" y="340.20" width="10.1" height="31.50" fill="#0a0a0a"/>
<line x1="368.6" y1="340.19685" x2="368.6" y2="337.99955" stroke="#222" stroke-width="0.9" />
<line x1="367.3" y1="337.99955" x2="369.90000000000003" y2="337.99955" stroke="#222" stroke-width="0.9" />
<rect x="378.95" y="224.28" width="10.1" height="147.42" fill="#0a0a0a"/>
<line x1="384.0" y1="224.27650000000003" x2="384.0" y2="218.14450000000002" stroke="#222" stroke-width="0.9" />
<line x1="382.7" y1="218.14450000000002" x2="385.3" y2="218.14450000000002" stroke="#222" stroke-width="0.9" />
<rect x="394.15" y="340.61" width="10.1" height="31.09" fill="#0a0a0a"/>
<line x1="399.2" y1="340.60564999999997" x2="399.2" y2="338.51054999999997" stroke="#222" stroke-width="0.9" />
<line x1="397.9" y1="338.51054999999997" x2="400.5" y2="338.51054999999997" stroke="#222" stroke-width="0.9" />
<line x1="343.4" y1="217.9" x2="343.4" y2="372.2" stroke="#111" stroke-width="1.1" />
<line x1="342.9" y1="371.7" x2="411.0" y2="371.7" stroke="#111" stroke-width="1.1" />
<line x1="340.79999999999995" y1="371.7" x2="343.4" y2="371.7" stroke="#111" stroke-width="0.8" />
<text x="340.0" y="374.7" font-size="8.9" font-weight="bold" text-anchor="end" fill="#111" >0</text>
<line x1="340.79999999999995" y1="346.15" x2="343.4" y2="346.15" stroke="#111" stroke-width="0.8" />
<text x="340.0" y="349.15" font-size="8.9" font-weight="bold" text-anchor="end" fill="#111" >100</text>
<line x1="340.79999999999995" y1="320.6" x2="343.4" y2="320.6" stroke="#111" stroke-width="0.8" />
<text x="340.0" y="323.6" font-size="8.9" font-weight="bold" text-anchor="end" fill="#111" >200</text>
<line x1="340.79999999999995" y1="295.05" x2="343.4" y2="295.05" stroke="#111" stroke-width="0.8" />
<text x="340.0" y="298.05" font-size="8.9" font-weight="bold" text-anchor="end" fill="#111" >300</text>
<line x1="340.79999999999995" y1="269.5" x2="343.4" y2="269.5" stroke="#111" stroke-width="0.8" />
<text x="340.0" y="272.5" font-size="8.9" font-weight="bold" text-anchor="end" fill="#111" >400</text>
<line x1="340.79999999999995" y1="243.95000000000002" x2="343.4" y2="243.95000000000002" stroke="#111" stroke-width="0.8" />
<text x="340.0" y="246.95000000000002" font-size="8.9" font-weight="bold" text-anchor="end" fill="#111" >500</text>
<line x1="340.79999999999995" y1="218.4" x2="343.4" y2="218.4" stroke="#111" stroke-width="0.8" />
<text x="340.0" y="221.4" font-size="8.9" font-weight="bold" text-anchor="end" fill="#111" >600</text>
<text transform="translate(318.2 296.1) rotate(-90)" font-size="9.25" font-weight="bold" text-anchor="middle" fill="#111" textLength="112.6" lengthAdjust="spacingAndGlyphs">relative GYS2 expression</text>
<path d="M353.6 342.3V213.5H400.4V336.5" fill="none" stroke="#858585" stroke-width=".6"/>
<path d="M384.2 213.5V215.6" fill="none" stroke="#858585" stroke-width=".6"/>
<path d="M368.80 208.90L368.80 211.90M370.10 209.65L367.50 211.15M370.10 211.15L367.50 209.65" stroke="#111" stroke-width=".85" fill="none"/>
<path d="M392.30 208.90L392.30 211.90M393.60 209.65L391.00 211.15M393.60 211.15L391.00 209.65" stroke="#111" stroke-width=".85" fill="none"/>
<line x1="350.2" y1="385.0" x2="354.40000000000003" y2="385.0" stroke="#111" stroke-width="1.0" />
<line x1="366.4" y1="385.0" x2="370.6" y2="385.0" stroke="#111" stroke-width="1.0" />
<line x1="382.5" y1="385.0" x2="386.70000000000005" y2="385.0" stroke="#111" stroke-width="1.0" />
<line x1="384.6" y1="382.9" x2="384.6" y2="387.1" stroke="#111" stroke-width="1.0" />
<line x1="398.7" y1="385.0" x2="402.90000000000003" y2="385.0" stroke="#111" stroke-width="1.0" />
<line x1="400.8" y1="382.9" x2="400.8" y2="387.1" stroke="#111" stroke-width="1.0" />
<line x1="350.2" y1="392.3" x2="354.40000000000003" y2="392.3" stroke="#111" stroke-width="1.0" />
<line x1="352.3" y1="390.2" x2="352.3" y2="394.40000000000003" stroke="#111" stroke-width="1.0" />
<line x1="366.4" y1="392.3" x2="370.6" y2="392.3" stroke="#111" stroke-width="1.0" />
<line x1="382.5" y1="392.3" x2="386.70000000000005" y2="392.3" stroke="#111" stroke-width="1.0" />
<line x1="384.6" y1="390.2" x2="384.6" y2="394.40000000000003" stroke="#111" stroke-width="1.0" />
<line x1="398.7" y1="392.3" x2="402.90000000000003" y2="392.3" stroke="#111" stroke-width="1.0" />
<line x1="350.2" y1="399.8" x2="354.40000000000003" y2="399.8" stroke="#111" stroke-width="1.0" />
<line x1="366.4" y1="399.8" x2="370.6" y2="399.8" stroke="#111" stroke-width="1.0" />
<line x1="368.5" y1="397.7" x2="368.5" y2="401.90000000000003" stroke="#111" stroke-width="1.0" />
<line x1="382.5" y1="399.8" x2="386.70000000000005" y2="399.8" stroke="#111" stroke-width="1.0" />
<line x1="398.7" y1="399.8" x2="402.90000000000003" y2="399.8" stroke="#111" stroke-width="1.0" />
<line x1="400.8" y1="397.7" x2="400.8" y2="401.90000000000003" stroke="#111" stroke-width="1.0" />
<text x="341.6" y="387.3" font-size="6.6" font-weight="bold" text-anchor="end" fill="#111" >4OHT (STAT5A):</text>
<text x="341.6" y="394.6" font-size="6.6" font-weight="bold" text-anchor="end" fill="#111" >luc RNAi:</text>
<text x="341.6" y="402.1" font-size="6.6" font-weight="bold" text-anchor="end" fill="#111" >HIF2<tspan font-weight="normal">&#945;</tspan> RNAi:</text>
<rect x="457.45" y="346.93" width="9.5" height="25.47" fill="#0a0a0a"/>
<line x1="462.2" y1="346.93333333333334" x2="462.2" y2="345.4053333333333" stroke="#222" stroke-width="0.9" />
<line x1="460.9" y1="345.4053333333333" x2="463.5" y2="345.4053333333333" stroke="#222" stroke-width="0.9" />
<rect x="472.65" y="337.26" width="9.5" height="35.14" fill="#0a0a0a"/>
<line x1="477.4" y1="337.256" x2="477.4" y2="335.21866666666665" stroke="#222" stroke-width="0.9" />
<line x1="476.09999999999997" y1="335.21866666666665" x2="478.7" y2="335.21866666666665" stroke="#222" stroke-width="0.9" />
<rect x="487.85" y="254.74" width="9.5" height="117.66" fill="#0a0a0a"/>
<line x1="492.6" y1="254.74399999999997" x2="492.6" y2="248.12266666666665" stroke="#222" stroke-width="0.9" />
<line x1="491.3" y1="248.12266666666665" x2="493.90000000000003" y2="248.12266666666665" stroke="#222" stroke-width="0.9" />
<rect x="503.25" y="338.02" width="9.5" height="34.38" fill="#0a0a0a"/>
<line x1="508.0" y1="338.02" x2="508.0" y2="335.98266666666666" stroke="#222" stroke-width="0.9" />
<line x1="506.7" y1="335.98266666666666" x2="509.3" y2="335.98266666666666" stroke="#222" stroke-width="0.9" />
<line x1="452.3" y1="219.1" x2="452.3" y2="372.9" stroke="#111" stroke-width="1.1" />
<line x1="451.8" y1="372.4" x2="518.5" y2="372.4" stroke="#111" stroke-width="1.1" />
<line x1="449.7" y1="372.4" x2="452.3" y2="372.4" stroke="#111" stroke-width="0.8" />
<text x="448.90000000000003" y="375.4" font-size="8.9" font-weight="bold" text-anchor="end" fill="#111" >0</text>
<line x1="449.7" y1="346.93333333333334" x2="452.3" y2="346.93333333333334" stroke="#111" stroke-width="0.8" />
<text x="448.90000000000003" y="349.93333333333334" font-size="8.9" font-weight="bold" text-anchor="end" fill="#111" >100</text>
<line x1="449.7" y1="321.46666666666664" x2="452.3" y2="321.46666666666664" stroke="#111" stroke-width="0.8" />
<text x="448.90000000000003" y="324.46666666666664" font-size="8.9" font-weight="bold" text-anchor="end" fill="#111" >200</text>
<line x1="449.7" y1="296.0" x2="452.3" y2="296.0" stroke="#111" stroke-width="0.8" />
<text x="448.90000000000003" y="299.0" font-size="8.9" font-weight="bold" text-anchor="end" fill="#111" >300</text>
<line x1="449.7" y1="270.5333333333333" x2="452.3" y2="270.5333333333333" stroke="#111" stroke-width="0.8" />
<text x="448.90000000000003" y="273.5333333333333" font-size="8.9" font-weight="bold" text-anchor="end" fill="#111" >400</text>
<line x1="449.7" y1="245.06666666666666" x2="452.3" y2="245.06666666666666" stroke="#111" stroke-width="0.8" />
<text x="448.90000000000003" y="248.06666666666666" font-size="8.9" font-weight="bold" text-anchor="end" fill="#111" >500</text>
<line x1="449.7" y1="219.6" x2="452.3" y2="219.6" stroke="#111" stroke-width="0.8" />
<text x="448.90000000000003" y="222.6" font-size="8.9" font-weight="bold" text-anchor="end" fill="#111" >600</text>
<text transform="translate(427.2 298.0) rotate(-90)" font-size="9.25" font-weight="bold" text-anchor="middle" fill="#111" textLength="112.6" lengthAdjust="spacingAndGlyphs">relative UGP2 expression</text>
<path d="M462.7 344.3V245H508.4V334" fill="none" stroke="#858585" stroke-width=".6"/>
<path d="M492.7 245V248.3" fill="none" stroke="#858585" stroke-width=".6"/>
<path d="M477.30 240.20L477.30 243.20M478.60 240.95L476.00 242.45M478.60 242.45L476.00 240.95" stroke="#111" stroke-width=".85" fill="none"/>
<path d="M500.40 240.20L500.40 243.20M501.70 240.95L499.10 242.45M501.70 242.45L499.10 240.95" stroke="#111" stroke-width=".85" fill="none"/>
<line x1="460.59999999999997" y1="384.9" x2="464.8" y2="384.9" stroke="#111" stroke-width="1.0" />
<line x1="476.59999999999997" y1="384.9" x2="480.8" y2="384.9" stroke="#111" stroke-width="1.0" />
<line x1="492.9" y1="384.9" x2="497.1" y2="384.9" stroke="#111" stroke-width="1.0" />
<line x1="495.0" y1="382.79999999999995" x2="495.0" y2="387.0" stroke="#111" stroke-width="1.0" />
<line x1="508.59999999999997" y1="384.9" x2="512.8" y2="384.9" stroke="#111" stroke-width="1.0" />
<line x1="510.7" y1="382.79999999999995" x2="510.7" y2="387.0" stroke="#111" stroke-width="1.0" />
<line x1="460.59999999999997" y1="391.8" x2="464.8" y2="391.8" stroke="#111" stroke-width="1.0" />
<line x1="462.7" y1="389.7" x2="462.7" y2="393.90000000000003" stroke="#111" stroke-width="1.0" />
<line x1="476.59999999999997" y1="391.8" x2="480.8" y2="391.8" stroke="#111" stroke-width="1.0" />
<line x1="492.9" y1="391.8" x2="497.1" y2="391.8" stroke="#111" stroke-width="1.0" />
<line x1="495.0" y1="389.7" x2="495.0" y2="393.90000000000003" stroke="#111" stroke-width="1.0" />
<line x1="508.59999999999997" y1="391.8" x2="512.8" y2="391.8" stroke="#111" stroke-width="1.0" />
<line x1="460.59999999999997" y1="399.7" x2="464.8" y2="399.7" stroke="#111" stroke-width="1.0" />
<line x1="476.59999999999997" y1="399.7" x2="480.8" y2="399.7" stroke="#111" stroke-width="1.0" />
<line x1="478.7" y1="397.59999999999997" x2="478.7" y2="401.8" stroke="#111" stroke-width="1.0" />
<line x1="492.9" y1="399.7" x2="497.1" y2="399.7" stroke="#111" stroke-width="1.0" />
<line x1="508.59999999999997" y1="399.7" x2="512.8" y2="399.7" stroke="#111" stroke-width="1.0" />
<line x1="510.7" y1="397.59999999999997" x2="510.7" y2="401.8" stroke="#111" stroke-width="1.0" />
</g>
</svg>
</body></html>
